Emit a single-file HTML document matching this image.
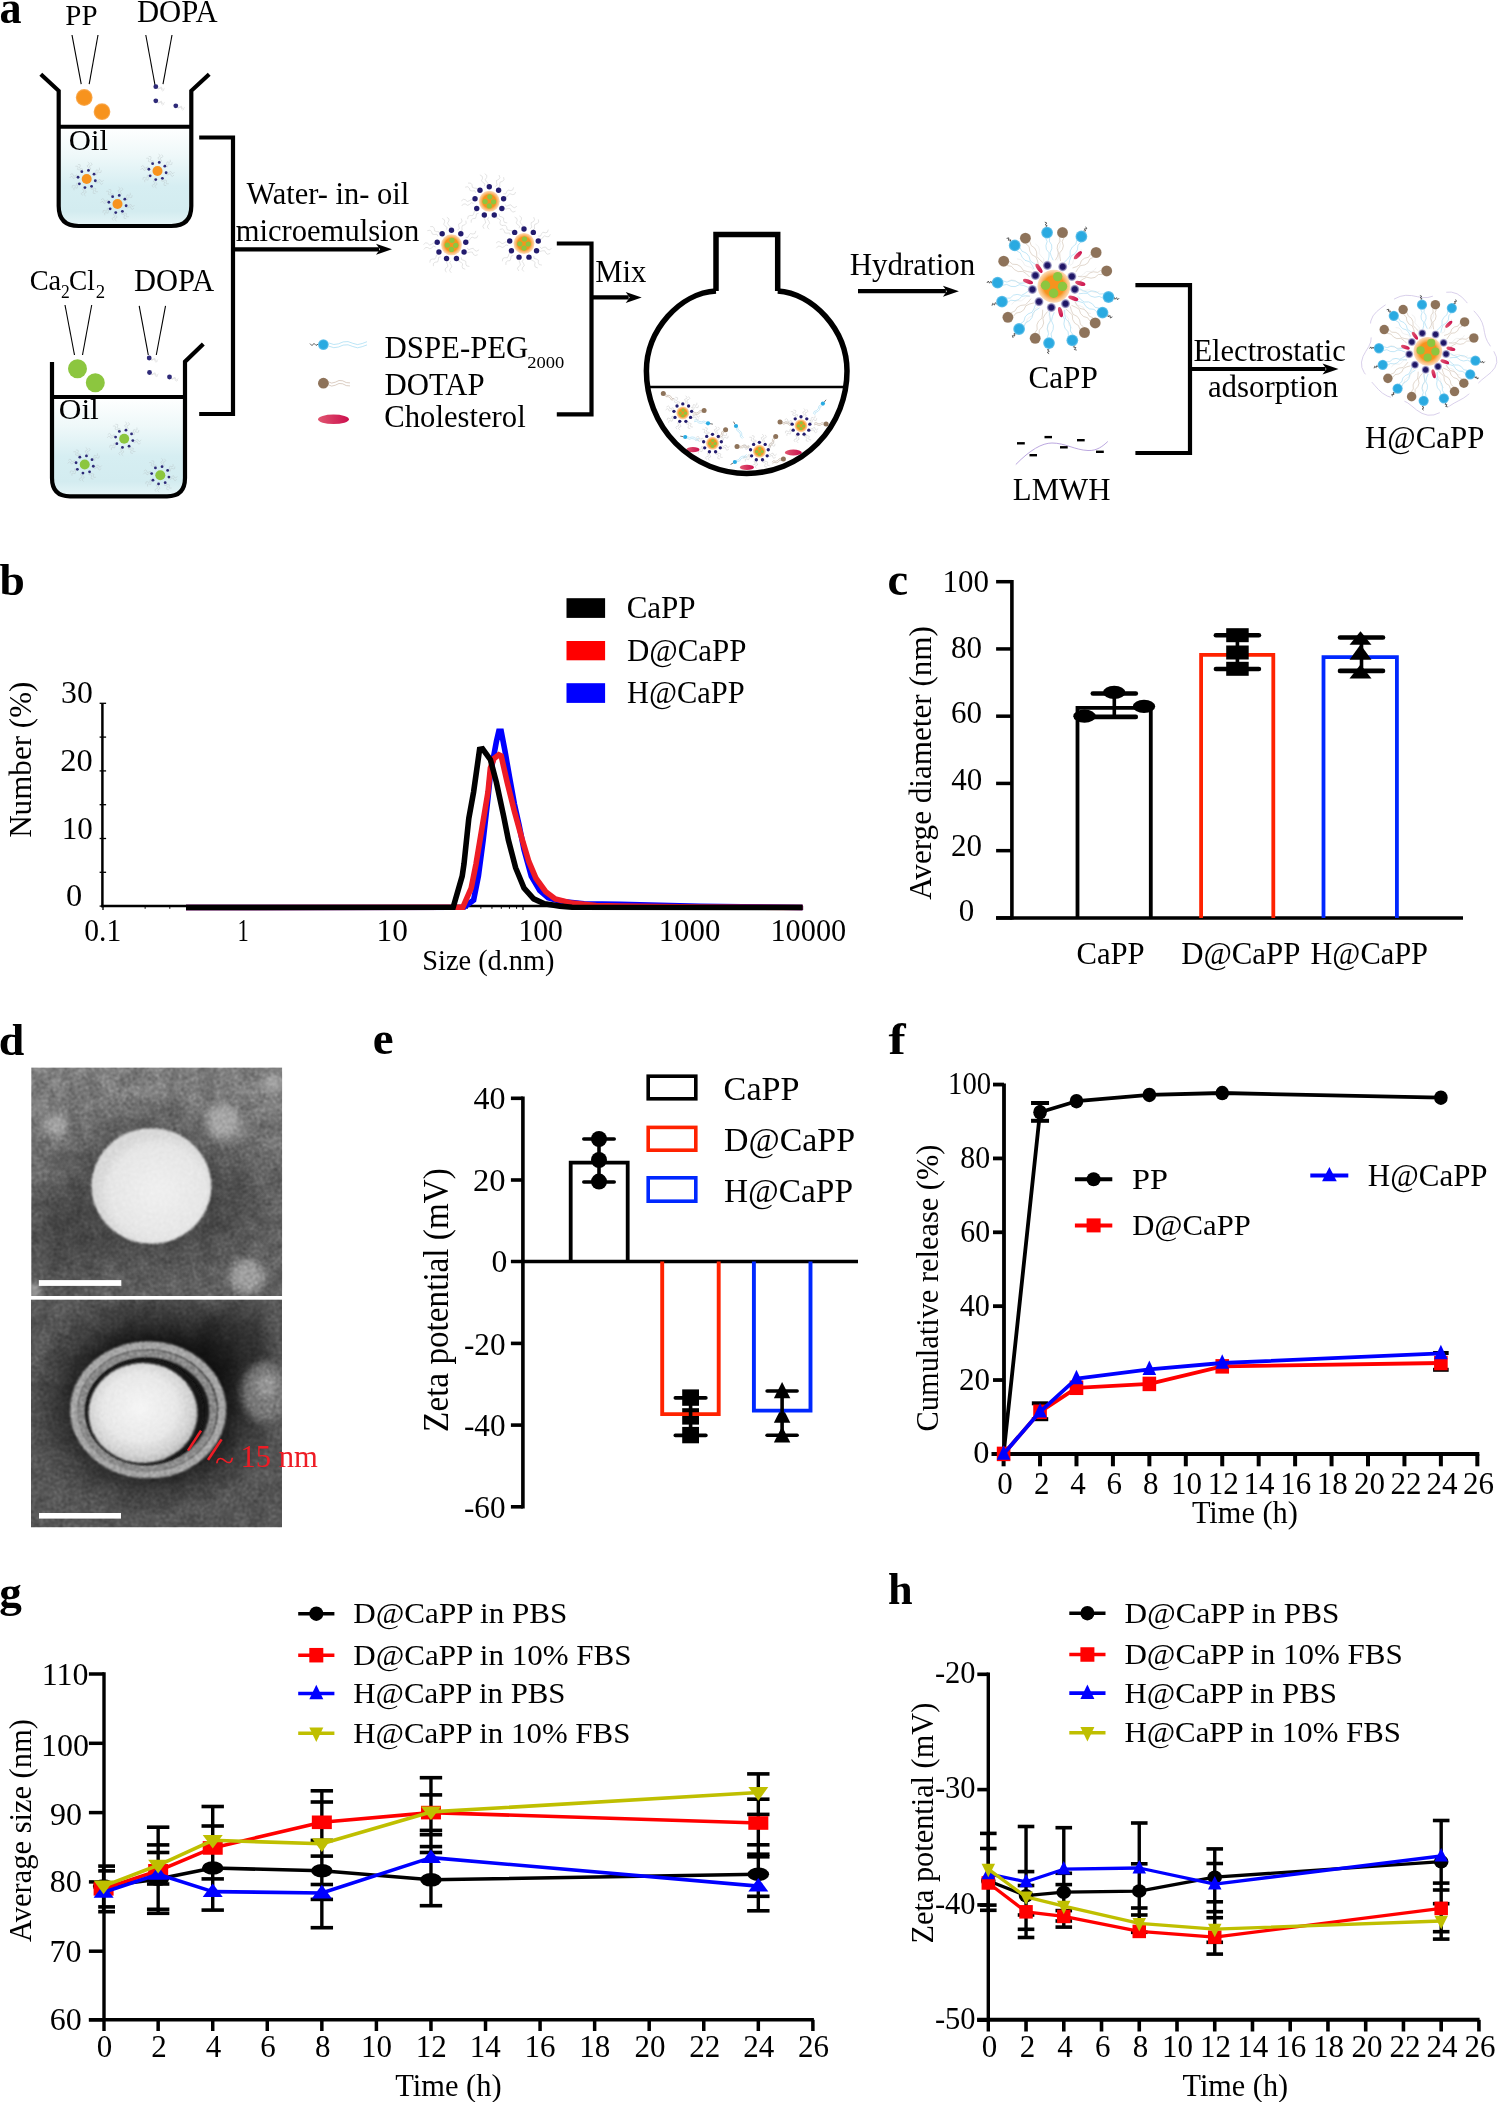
<!DOCTYPE html>
<html><head><meta charset="utf-8"><style>
html,body{margin:0;padding:0;background:#fff;}
svg{display:block;will-change:transform;}
text{font-family:"Liberation Serif",serif;}
</style></head><body>
<svg width="1499" height="2102" viewBox="0 0 1499 2102">
<defs>
<linearGradient id="liq" x1="0" y1="0" x2="0" y2="1">
 <stop offset="0" stop-color="#ffffff"/><stop offset="0.3" stop-color="#eef8f9"/>
 <stop offset="0.6" stop-color="#d6eef2"/><stop offset="0.85" stop-color="#d3ecf0"/><stop offset="1" stop-color="#e6f5f7"/>
</linearGradient>
<radialGradient id="gOr"><stop offset="0" stop-color="#f7931e"/><stop offset="0.62" stop-color="#f7931e"/><stop offset="1" stop-color="#fbc58a" stop-opacity="0.6"/></radialGradient>
<radialGradient id="gOrS"><stop offset="0" stop-color="#f7931e"/><stop offset="0.8" stop-color="#f7931e"/><stop offset="1" stop-color="#f9b060"/></radialGradient>
<radialGradient id="gNv"><stop offset="0" stop-color="#1b1464"/><stop offset="0.55" stop-color="#231a6a"/><stop offset="1" stop-color="#8f8cc0" stop-opacity="0.5"/></radialGradient>
<radialGradient id="gBl"><stop offset="0" stop-color="#29abe2"/><stop offset="0.7" stop-color="#2aa9e0"/><stop offset="1" stop-color="#6fc6ec"/></radialGradient>
<radialGradient id="gBr"><stop offset="0" stop-color="#8e735a"/><stop offset="0.85" stop-color="#8e735a"/><stop offset="1" stop-color="#a48d78"/></radialGradient>
<linearGradient id="gCh" x1="0" y1="0" x2="1" y2="0"><stop offset="0" stop-color="#e05670"/><stop offset="1" stop-color="#cc0f4e"/></linearGradient>

<clipPath id="clipT"><rect x="31.2" y="1067.4" width="251" height="228.6"/></clipPath>
<clipPath id="clipB"><rect x="31" y="1299.4" width="251" height="228"/></clipPath>
<filter id="bl1" x="-50%" y="-50%" width="200%" height="200%"><feGaussianBlur stdDeviation="1.3"/></filter>
<filter id="bl2" x="-50%" y="-50%" width="200%" height="200%"><feGaussianBlur stdDeviation="2.5"/></filter>
<filter id="bl4" x="-50%" y="-50%" width="200%" height="200%"><feGaussianBlur stdDeviation="4.5"/></filter>
<filter id="bl8" x="-50%" y="-50%" width="200%" height="200%"><feGaussianBlur stdDeviation="9"/></filter>
<filter id="bl14" x="-50%" y="-50%" width="200%" height="200%"><feGaussianBlur stdDeviation="14"/></filter>
<filter id="grain" x="0" y="0" width="100%" height="100%" color-interpolation-filters="sRGB">
 <feTurbulence type="fractalNoise" baseFrequency="0.55" numOctaves="2" seed="11"/>
 <feColorMatrix type="matrix" values="1 0 0 0 0  1 0 0 0 0  1 0 0 0 0  0 0 0 0 1"/>
 <feGaussianBlur stdDeviation="0.9"/>
 <feComponentTransfer><feFuncR type="linear" slope="6" intercept="-2.5"/><feFuncG type="linear" slope="6" intercept="-2.5"/><feFuncB type="linear" slope="6" intercept="-2.5"/></feComponentTransfer>
</filter>
<filter id="mottle" x="0" y="0" width="100%" height="100%" color-interpolation-filters="sRGB">
 <feTurbulence type="fractalNoise" baseFrequency="0.06" numOctaves="2" seed="4"/>
 <feColorMatrix type="matrix" values="1 0 0 0 0  1 0 0 0 0  1 0 0 0 0  0 0 0 0 1"/>
 <feComponentTransfer><feFuncR type="linear" slope="2.5" intercept="-0.75"/><feFuncG type="linear" slope="2.5" intercept="-0.75"/><feFuncB type="linear" slope="2.5" intercept="-0.75"/></feComponentTransfer>
</filter>
<radialGradient id="haloT" cx="0.5" cy="0.5" r="0.5"><stop offset="0.5" stop-color="#000" stop-opacity="0.26"/><stop offset="1" stop-color="#000" stop-opacity="0"/></radialGradient>
<linearGradient id="topT" x1="0" y1="0" x2="0" y2="1"><stop offset="0" stop-color="#fff" stop-opacity="0.16"/><stop offset="0.35" stop-color="#fff" stop-opacity="0.06"/><stop offset="0.6" stop-color="#000" stop-opacity="0.02"/><stop offset="1" stop-color="#000" stop-opacity="0.08"/></linearGradient>
<radialGradient id="coreT" cx="0.55" cy="0.55" r="0.5"><stop offset="0" stop-color="#f0f0f0"/><stop offset="0.8" stop-color="#e6e6e6"/><stop offset="1" stop-color="#d8d8d8"/></radialGradient>
<radialGradient id="haloB" cx="0.5" cy="0.5" r="0.5"><stop offset="0.55" stop-color="#000" stop-opacity="0.72"/><stop offset="0.78" stop-color="#000" stop-opacity="0.32"/><stop offset="1" stop-color="#000" stop-opacity="0"/></radialGradient>
<radialGradient id="coreB" cx="0.47" cy="0.45" r="0.56"><stop offset="0" stop-color="#f6f6f6"/><stop offset="0.6" stop-color="#e8e8e8"/><stop offset="0.88" stop-color="#cfcfcf"/><stop offset="1" stop-color="#b4b4b4"/></radialGradient>
</defs>
<rect width="1499" height="2102" fill="#fff"/>
<text x="-0.43" y="22.80" font-size="46" font-weight="bold" fill="#000" textLength="22.09" lengthAdjust="spacingAndGlyphs">a</text>
<path d="M58.7,126.7 L191.3,126.7 L191.3,206 Q191.3,226 171.3,226 L78.7,226 Q58.7,226 58.7,206 Z" fill="url(#liq)"/>
<path d="M40.8,74.2 L58.7,90.8 L58.7,206 Q58.7,226 78.7,226 L171.3,226 Q191.3,226 191.3,206 L191.3,90.8 L209.2,74.2" stroke="#000" stroke-width="4.2" fill="none"/>
<line x1="58.70" y1="126.70" x2="191.30" y2="126.70" stroke="#000" stroke-width="4.0" stroke-linecap="butt"/>
<text x="65.33" y="25.00" font-size="28.5" fill="#000" textLength="32.19" lengthAdjust="spacingAndGlyphs">PP</text>
<text x="136.98" y="22.40" font-size="31.5" fill="#000" textLength="80.60" lengthAdjust="spacingAndGlyphs">DOPA</text>
<line x1="72.00" y1="35.00" x2="81.20" y2="84.20" stroke="#000" stroke-width="1.1" stroke-linecap="butt"/>
<line x1="98.00" y1="35.00" x2="89.20" y2="84.20" stroke="#000" stroke-width="1.1" stroke-linecap="butt"/>
<line x1="145.80" y1="35.00" x2="155.00" y2="85.00" stroke="#000" stroke-width="1.1" stroke-linecap="butt"/>
<line x1="172.00" y1="35.00" x2="163.00" y2="84.20" stroke="#000" stroke-width="1.1" stroke-linecap="butt"/>
<circle cx="84.20" cy="97.50" r="8.40" fill="url(#gOrS)"/>
<circle cx="102.00" cy="111.70" r="8.40" fill="url(#gOrS)"/>
<path d="M157.7,87.2 L158.6,88.7 L160.1,87.5 L161.4,87.0 L162.1,89.0 L163.1,89.6 L164.7,88.2" stroke="#cfcfcf" stroke-width="0.5" fill="none" opacity="0.9"/>
<path d="M157.6,87.6 L158.2,89.1 L159.9,88.3 L161.2,88.0 L161.6,90.1 L162.5,90.9 L164.3,89.8" stroke="#cfcfcf" stroke-width="0.5" fill="none" opacity="0.9"/>
<circle cx="155.80" cy="86.70" r="2.40" fill="#2e2a78"/>
<path d="M157.7,101.3 L158.6,102.8 L160.1,101.6 L161.4,101.1 L162.1,103.1 L163.1,103.7 L164.7,102.3" stroke="#cfcfcf" stroke-width="0.5" fill="none" opacity="0.9"/>
<path d="M157.6,101.7 L158.2,103.2 L159.9,102.4 L161.2,102.1 L161.6,104.2 L162.5,105.0 L164.3,103.9" stroke="#cfcfcf" stroke-width="0.5" fill="none" opacity="0.9"/>
<circle cx="155.80" cy="100.80" r="2.40" fill="#2e2a78"/>
<path d="M177.7,106.3 L178.6,107.8 L180.1,106.6 L181.4,106.1 L182.1,108.1 L183.1,108.7 L184.7,107.3" stroke="#cfcfcf" stroke-width="0.5" fill="none" opacity="0.9"/>
<path d="M177.6,106.7 L178.2,108.2 L179.9,107.4 L181.2,107.1 L181.6,109.2 L182.5,110.0 L184.3,108.9" stroke="#cfcfcf" stroke-width="0.5" fill="none" opacity="0.9"/>
<circle cx="175.80" cy="105.80" r="2.40" fill="#2e2a78"/>
<text x="68.77" y="150.00" font-size="30" fill="#000" textLength="39.28" lengthAdjust="spacingAndGlyphs">Oil</text>
<path d="M96.1,180.0 L97.3,181.4 L98.7,180.0 L100.0,179.4 L101.0,181.2 L102.2,181.7 L103.7,180.0" stroke="#b9c3c6" stroke-width="0.5" fill="none" opacity="0.8"/>
<path d="M95.8,181.7 L96.7,183.2 L98.3,182.1 L99.7,181.7 L100.4,183.7 L101.5,184.4 L103.2,183.1" stroke="#b9c3c6" stroke-width="0.5" fill="none" opacity="0.8"/>
<path d="M92.6,186.4 L92.5,188.1 L94.4,188.2 L95.9,188.6 L95.3,190.7 L95.8,191.9 L98.0,191.7" stroke="#b9c3c6" stroke-width="0.5" fill="none" opacity="0.8"/>
<path d="M91.2,187.4 L90.8,189.0 L92.7,189.4 L94.0,190.1 L93.1,192.0 L93.3,193.3 L95.5,193.6" stroke="#b9c3c6" stroke-width="0.5" fill="none" opacity="0.8"/>
<path d="M85.7,188.4 L84.3,189.6 L85.7,191.0 L86.3,192.3 L84.5,193.3 L84.0,194.5 L85.7,196.0" stroke="#b9c3c6" stroke-width="0.5" fill="none" opacity="0.8"/>
<path d="M84.0,188.1 L82.5,189.0 L83.6,190.6 L84.0,192.0 L82.0,192.7 L81.3,193.8 L82.6,195.5" stroke="#b9c3c6" stroke-width="0.5" fill="none" opacity="0.8"/>
<path d="M79.3,184.9 L77.6,184.8 L77.5,186.7 L77.1,188.2 L75.0,187.6 L73.8,188.1 L74.0,190.3" stroke="#b9c3c6" stroke-width="0.5" fill="none" opacity="0.8"/>
<path d="M78.3,183.5 L76.7,183.1 L76.3,185.0 L75.6,186.3 L73.7,185.4 L72.4,185.6 L72.1,187.8" stroke="#b9c3c6" stroke-width="0.5" fill="none" opacity="0.8"/>
<path d="M77.3,178.0 L76.1,176.6 L74.7,178.0 L73.4,178.6 L72.4,176.8 L71.2,176.3 L69.7,178.0" stroke="#b9c3c6" stroke-width="0.5" fill="none" opacity="0.8"/>
<path d="M77.6,176.3 L76.7,174.8 L75.1,175.9 L73.7,176.3 L73.0,174.3 L71.9,173.6 L70.2,174.9" stroke="#b9c3c6" stroke-width="0.5" fill="none" opacity="0.8"/>
<path d="M80.8,171.6 L80.9,169.9 L79.0,169.8 L77.5,169.4 L78.1,167.3 L77.6,166.1 L75.4,166.3" stroke="#b9c3c6" stroke-width="0.5" fill="none" opacity="0.8"/>
<path d="M82.2,170.6 L82.6,169.0 L80.7,168.6 L79.4,167.9 L80.3,166.0 L80.1,164.7 L77.9,164.4" stroke="#b9c3c6" stroke-width="0.5" fill="none" opacity="0.8"/>
<path d="M87.7,169.6 L89.1,168.4 L87.7,167.0 L87.1,165.7 L88.9,164.7 L89.4,163.5 L87.7,162.0" stroke="#b9c3c6" stroke-width="0.5" fill="none" opacity="0.8"/>
<path d="M89.4,169.9 L90.9,169.0 L89.8,167.4 L89.4,166.0 L91.4,165.3 L92.1,164.2 L90.8,162.5" stroke="#b9c3c6" stroke-width="0.5" fill="none" opacity="0.8"/>
<path d="M94.1,173.1 L95.8,173.2 L95.9,171.3 L96.3,169.8 L98.4,170.4 L99.6,169.9 L99.4,167.7" stroke="#b9c3c6" stroke-width="0.5" fill="none" opacity="0.8"/>
<path d="M95.1,174.5 L96.7,174.9 L97.1,173.0 L97.8,171.7 L99.7,172.6 L101.0,172.4 L101.3,170.2" stroke="#b9c3c6" stroke-width="0.5" fill="none" opacity="0.8"/>
<circle cx="95.32" cy="180.75" r="1.40" fill="#2e2a78"/>
<circle cx="91.56" cy="186.33" r="1.40" fill="#2e2a78"/>
<circle cx="84.95" cy="187.62" r="1.40" fill="#2e2a78"/>
<circle cx="79.37" cy="183.86" r="1.40" fill="#2e2a78"/>
<circle cx="78.08" cy="177.25" r="1.40" fill="#2e2a78"/>
<circle cx="81.84" cy="171.67" r="1.40" fill="#2e2a78"/>
<circle cx="88.45" cy="170.38" r="1.40" fill="#2e2a78"/>
<circle cx="94.03" cy="174.14" r="1.40" fill="#2e2a78"/>
<circle cx="86.70" cy="179.00" r="5.00" fill="#f7931e"/>
<path d="M166.9,172.0 L168.1,173.4 L169.5,172.0 L170.8,171.4 L171.8,173.2 L173.0,173.7 L174.5,172.0" stroke="#b9c3c6" stroke-width="0.5" fill="none" opacity="0.8"/>
<path d="M166.6,173.7 L167.5,175.2 L169.1,174.1 L170.5,173.7 L171.2,175.7 L172.3,176.4 L174.0,175.1" stroke="#b9c3c6" stroke-width="0.5" fill="none" opacity="0.8"/>
<path d="M163.4,178.4 L163.3,180.1 L165.2,180.2 L166.7,180.6 L166.1,182.7 L166.6,183.9 L168.8,183.7" stroke="#b9c3c6" stroke-width="0.5" fill="none" opacity="0.8"/>
<path d="M162.0,179.4 L161.6,181.0 L163.5,181.4 L164.8,182.1 L163.9,184.0 L164.1,185.3 L166.3,185.6" stroke="#b9c3c6" stroke-width="0.5" fill="none" opacity="0.8"/>
<path d="M156.5,180.4 L155.1,181.6 L156.5,183.0 L157.1,184.3 L155.3,185.3 L154.8,186.5 L156.5,188.0" stroke="#b9c3c6" stroke-width="0.5" fill="none" opacity="0.8"/>
<path d="M154.8,180.1 L153.3,181.0 L154.4,182.6 L154.8,184.0 L152.8,184.7 L152.1,185.8 L153.4,187.5" stroke="#b9c3c6" stroke-width="0.5" fill="none" opacity="0.8"/>
<path d="M150.1,176.9 L148.4,176.8 L148.3,178.7 L147.9,180.2 L145.8,179.6 L144.6,180.1 L144.8,182.3" stroke="#b9c3c6" stroke-width="0.5" fill="none" opacity="0.8"/>
<path d="M149.1,175.5 L147.5,175.1 L147.1,177.0 L146.4,178.3 L144.5,177.4 L143.2,177.6 L142.9,179.8" stroke="#b9c3c6" stroke-width="0.5" fill="none" opacity="0.8"/>
<path d="M148.1,170.0 L146.9,168.6 L145.5,170.0 L144.2,170.6 L143.2,168.8 L142.0,168.3 L140.5,170.0" stroke="#b9c3c6" stroke-width="0.5" fill="none" opacity="0.8"/>
<path d="M148.4,168.3 L147.5,166.8 L145.9,167.9 L144.5,168.3 L143.8,166.3 L142.7,165.6 L141.0,166.9" stroke="#b9c3c6" stroke-width="0.5" fill="none" opacity="0.8"/>
<path d="M151.6,163.6 L151.7,161.9 L149.8,161.8 L148.3,161.4 L148.9,159.3 L148.4,158.1 L146.2,158.3" stroke="#b9c3c6" stroke-width="0.5" fill="none" opacity="0.8"/>
<path d="M153.0,162.6 L153.4,161.0 L151.5,160.6 L150.2,159.9 L151.1,158.0 L150.9,156.7 L148.7,156.4" stroke="#b9c3c6" stroke-width="0.5" fill="none" opacity="0.8"/>
<path d="M158.5,161.6 L159.9,160.4 L158.5,159.0 L157.9,157.7 L159.7,156.7 L160.2,155.5 L158.5,154.0" stroke="#b9c3c6" stroke-width="0.5" fill="none" opacity="0.8"/>
<path d="M160.2,161.9 L161.7,161.0 L160.6,159.4 L160.2,158.0 L162.2,157.3 L162.9,156.2 L161.6,154.5" stroke="#b9c3c6" stroke-width="0.5" fill="none" opacity="0.8"/>
<path d="M164.9,165.1 L166.6,165.2 L166.7,163.3 L167.1,161.8 L169.2,162.4 L170.4,161.9 L170.2,159.7" stroke="#b9c3c6" stroke-width="0.5" fill="none" opacity="0.8"/>
<path d="M165.9,166.5 L167.5,166.9 L167.9,165.0 L168.6,163.7 L170.5,164.6 L171.8,164.4 L172.1,162.2" stroke="#b9c3c6" stroke-width="0.5" fill="none" opacity="0.8"/>
<circle cx="166.12" cy="172.75" r="1.40" fill="#2e2a78"/>
<circle cx="162.36" cy="178.33" r="1.40" fill="#2e2a78"/>
<circle cx="155.75" cy="179.62" r="1.40" fill="#2e2a78"/>
<circle cx="150.17" cy="175.86" r="1.40" fill="#2e2a78"/>
<circle cx="148.88" cy="169.25" r="1.40" fill="#2e2a78"/>
<circle cx="152.64" cy="163.67" r="1.40" fill="#2e2a78"/>
<circle cx="159.25" cy="162.38" r="1.40" fill="#2e2a78"/>
<circle cx="164.83" cy="166.14" r="1.40" fill="#2e2a78"/>
<circle cx="157.50" cy="171.00" r="5.00" fill="#f7931e"/>
<path d="M126.9,205.0 L128.1,206.4 L129.5,205.0 L130.8,204.4 L131.8,206.2 L133.0,206.7 L134.5,205.0" stroke="#b9c3c6" stroke-width="0.5" fill="none" opacity="0.8"/>
<path d="M126.6,206.7 L127.5,208.2 L129.1,207.1 L130.5,206.7 L131.2,208.7 L132.3,209.4 L134.0,208.1" stroke="#b9c3c6" stroke-width="0.5" fill="none" opacity="0.8"/>
<path d="M123.4,211.4 L123.3,213.1 L125.2,213.2 L126.7,213.6 L126.1,215.7 L126.6,216.9 L128.8,216.7" stroke="#b9c3c6" stroke-width="0.5" fill="none" opacity="0.8"/>
<path d="M122.0,212.4 L121.6,214.0 L123.5,214.4 L124.8,215.1 L123.9,217.0 L124.1,218.3 L126.3,218.6" stroke="#b9c3c6" stroke-width="0.5" fill="none" opacity="0.8"/>
<path d="M116.5,213.4 L115.1,214.6 L116.5,216.0 L117.1,217.3 L115.3,218.3 L114.8,219.5 L116.5,221.0" stroke="#b9c3c6" stroke-width="0.5" fill="none" opacity="0.8"/>
<path d="M114.8,213.1 L113.3,214.0 L114.4,215.6 L114.8,217.0 L112.8,217.7 L112.1,218.8 L113.4,220.5" stroke="#b9c3c6" stroke-width="0.5" fill="none" opacity="0.8"/>
<path d="M110.1,209.9 L108.4,209.8 L108.3,211.7 L107.9,213.2 L105.8,212.6 L104.6,213.1 L104.8,215.3" stroke="#b9c3c6" stroke-width="0.5" fill="none" opacity="0.8"/>
<path d="M109.1,208.5 L107.5,208.1 L107.1,210.0 L106.4,211.3 L104.5,210.4 L103.2,210.6 L102.9,212.8" stroke="#b9c3c6" stroke-width="0.5" fill="none" opacity="0.8"/>
<path d="M108.1,203.0 L106.9,201.6 L105.5,203.0 L104.2,203.6 L103.2,201.8 L102.0,201.3 L100.5,203.0" stroke="#b9c3c6" stroke-width="0.5" fill="none" opacity="0.8"/>
<path d="M108.4,201.3 L107.5,199.8 L105.9,200.9 L104.5,201.3 L103.8,199.3 L102.7,198.6 L101.0,199.9" stroke="#b9c3c6" stroke-width="0.5" fill="none" opacity="0.8"/>
<path d="M111.6,196.6 L111.7,194.9 L109.8,194.8 L108.3,194.4 L108.9,192.3 L108.4,191.1 L106.2,191.3" stroke="#b9c3c6" stroke-width="0.5" fill="none" opacity="0.8"/>
<path d="M113.0,195.6 L113.4,194.0 L111.5,193.6 L110.2,192.9 L111.1,191.0 L110.9,189.7 L108.7,189.4" stroke="#b9c3c6" stroke-width="0.5" fill="none" opacity="0.8"/>
<path d="M118.5,194.6 L119.9,193.4 L118.5,192.0 L117.9,190.7 L119.7,189.7 L120.2,188.5 L118.5,187.0" stroke="#b9c3c6" stroke-width="0.5" fill="none" opacity="0.8"/>
<path d="M120.2,194.9 L121.7,194.0 L120.6,192.4 L120.2,191.0 L122.2,190.3 L122.9,189.2 L121.6,187.5" stroke="#b9c3c6" stroke-width="0.5" fill="none" opacity="0.8"/>
<path d="M124.9,198.1 L126.6,198.2 L126.7,196.3 L127.1,194.8 L129.2,195.4 L130.4,194.9 L130.2,192.7" stroke="#b9c3c6" stroke-width="0.5" fill="none" opacity="0.8"/>
<path d="M125.9,199.5 L127.5,199.9 L127.9,198.0 L128.6,196.7 L130.5,197.6 L131.8,197.4 L132.1,195.2" stroke="#b9c3c6" stroke-width="0.5" fill="none" opacity="0.8"/>
<circle cx="126.12" cy="205.75" r="1.40" fill="#2e2a78"/>
<circle cx="122.36" cy="211.33" r="1.40" fill="#2e2a78"/>
<circle cx="115.75" cy="212.62" r="1.40" fill="#2e2a78"/>
<circle cx="110.17" cy="208.86" r="1.40" fill="#2e2a78"/>
<circle cx="108.88" cy="202.25" r="1.40" fill="#2e2a78"/>
<circle cx="112.64" cy="196.67" r="1.40" fill="#2e2a78"/>
<circle cx="119.25" cy="195.38" r="1.40" fill="#2e2a78"/>
<circle cx="124.83" cy="199.14" r="1.40" fill="#2e2a78"/>
<circle cx="117.50" cy="204.00" r="5.00" fill="#f7931e"/>
<path d="M52,397 L185,397 L185,478 Q185,496.3 167,496.3 L70,496.3 Q52,496.3 52,478 Z" fill="url(#liq)"/>
<path d="M52,362 L52,478 Q52,496.3 70,496.3 L167,496.3 Q185,496.3 185,478 L185,361.7 L203.3,344" stroke="#000" stroke-width="4.2" fill="none"/>
<line x1="52.00" y1="397.00" x2="185.00" y2="397.00" stroke="#000" stroke-width="4.0" stroke-linecap="butt"/>
<text x="29.66" y="290.00" font-size="29.5" fill="#000" textLength="31.59" lengthAdjust="spacingAndGlyphs">Ca</text>
<text x="60.91" y="298.30" font-size="18" fill="#000" textLength="8.75" lengthAdjust="spacingAndGlyphs">2</text>
<text x="68.91" y="290.00" font-size="29.5" fill="#000" textLength="25.84" lengthAdjust="spacingAndGlyphs">Cl</text>
<text x="95.86" y="298.30" font-size="18" fill="#000" textLength="9.38" lengthAdjust="spacingAndGlyphs">2</text>
<text x="134.09" y="290.80" font-size="31.3" fill="#000" textLength="80.09" lengthAdjust="spacingAndGlyphs">DOPA</text>
<line x1="65.00" y1="305.00" x2="74.50" y2="355.00" stroke="#000" stroke-width="1.1" stroke-linecap="butt"/>
<line x1="91.70" y1="305.00" x2="82.50" y2="355.00" stroke="#000" stroke-width="1.1" stroke-linecap="butt"/>
<line x1="139.20" y1="305.80" x2="148.30" y2="355.00" stroke="#000" stroke-width="1.1" stroke-linecap="butt"/>
<line x1="165.50" y1="305.80" x2="156.30" y2="355.00" stroke="#000" stroke-width="1.1" stroke-linecap="butt"/>
<circle cx="77.50" cy="368.70" r="9.50" fill="#8cc63f"/>
<circle cx="95.30" cy="382.80" r="9.50" fill="#8cc63f"/>
<path d="M151.1,358.5 L152.0,360.0 L153.5,358.8 L154.8,358.3 L155.5,360.3 L156.5,360.9 L158.1,359.5" stroke="#cfcfcf" stroke-width="0.5" fill="none" opacity="0.9"/>
<path d="M151.0,358.9 L151.6,360.4 L153.3,359.6 L154.6,359.3 L155.0,361.4 L155.9,362.2 L157.7,361.1" stroke="#cfcfcf" stroke-width="0.5" fill="none" opacity="0.9"/>
<circle cx="149.20" cy="358.00" r="2.40" fill="#2e2a78"/>
<path d="M151.4,373.0 L152.3,374.5 L153.8,373.3 L155.1,372.8 L155.8,374.8 L156.8,375.4 L158.4,374.0" stroke="#cfcfcf" stroke-width="0.5" fill="none" opacity="0.9"/>
<path d="M151.3,373.4 L151.9,374.9 L153.6,374.1 L154.9,373.8 L155.3,375.9 L156.2,376.7 L158.0,375.6" stroke="#cfcfcf" stroke-width="0.5" fill="none" opacity="0.9"/>
<circle cx="149.50" cy="372.50" r="2.40" fill="#2e2a78"/>
<path d="M171.4,377.5 L172.3,379.0 L173.8,377.8 L175.1,377.3 L175.8,379.3 L176.8,379.9 L178.4,378.5" stroke="#cfcfcf" stroke-width="0.5" fill="none" opacity="0.9"/>
<path d="M171.3,377.9 L171.9,379.4 L173.6,378.6 L174.9,378.3 L175.3,380.4 L176.2,381.2 L178.0,380.1" stroke="#cfcfcf" stroke-width="0.5" fill="none" opacity="0.9"/>
<circle cx="169.50" cy="377.00" r="2.40" fill="#2e2a78"/>
<text x="58.74" y="419.00" font-size="30" fill="#000" textLength="40.11" lengthAdjust="spacingAndGlyphs">Oil</text>
<path d="M133.6,439.8 L134.8,441.2 L136.2,439.8 L137.5,439.2 L138.5,441.0 L139.7,441.5 L141.2,439.8" stroke="#b9c3c6" stroke-width="0.5" fill="none" opacity="0.8"/>
<path d="M133.3,441.5 L134.2,443.0 L135.8,441.9 L137.2,441.5 L137.9,443.5 L139.0,444.2 L140.7,442.9" stroke="#b9c3c6" stroke-width="0.5" fill="none" opacity="0.8"/>
<path d="M130.1,446.2 L130.0,447.9 L131.9,448.0 L133.4,448.4 L132.8,450.5 L133.3,451.7 L135.5,451.5" stroke="#b9c3c6" stroke-width="0.5" fill="none" opacity="0.8"/>
<path d="M128.7,447.2 L128.3,448.8 L130.2,449.2 L131.5,449.9 L130.6,451.8 L130.8,453.1 L133.0,453.4" stroke="#b9c3c6" stroke-width="0.5" fill="none" opacity="0.8"/>
<path d="M123.2,448.2 L121.8,449.4 L123.2,450.8 L123.8,452.1 L122.0,453.1 L121.5,454.3 L123.2,455.8" stroke="#b9c3c6" stroke-width="0.5" fill="none" opacity="0.8"/>
<path d="M121.5,447.9 L120.0,448.8 L121.1,450.4 L121.5,451.8 L119.5,452.5 L118.8,453.6 L120.1,455.3" stroke="#b9c3c6" stroke-width="0.5" fill="none" opacity="0.8"/>
<path d="M116.8,444.7 L115.1,444.6 L115.0,446.5 L114.6,448.0 L112.5,447.4 L111.3,447.9 L111.5,450.1" stroke="#b9c3c6" stroke-width="0.5" fill="none" opacity="0.8"/>
<path d="M115.8,443.3 L114.2,442.9 L113.8,444.8 L113.1,446.1 L111.2,445.2 L109.9,445.4 L109.6,447.6" stroke="#b9c3c6" stroke-width="0.5" fill="none" opacity="0.8"/>
<path d="M114.8,437.8 L113.6,436.4 L112.2,437.8 L110.9,438.4 L109.9,436.6 L108.7,436.1 L107.2,437.8" stroke="#b9c3c6" stroke-width="0.5" fill="none" opacity="0.8"/>
<path d="M115.1,436.1 L114.2,434.6 L112.6,435.7 L111.2,436.1 L110.5,434.1 L109.4,433.4 L107.7,434.7" stroke="#b9c3c6" stroke-width="0.5" fill="none" opacity="0.8"/>
<path d="M118.3,431.4 L118.4,429.7 L116.5,429.6 L115.0,429.2 L115.6,427.1 L115.1,425.9 L112.9,426.1" stroke="#b9c3c6" stroke-width="0.5" fill="none" opacity="0.8"/>
<path d="M119.7,430.4 L120.1,428.8 L118.2,428.4 L116.9,427.7 L117.8,425.8 L117.6,424.5 L115.4,424.2" stroke="#b9c3c6" stroke-width="0.5" fill="none" opacity="0.8"/>
<path d="M125.2,429.4 L126.6,428.2 L125.2,426.8 L124.6,425.5 L126.4,424.5 L126.9,423.3 L125.2,421.8" stroke="#b9c3c6" stroke-width="0.5" fill="none" opacity="0.8"/>
<path d="M126.9,429.7 L128.4,428.8 L127.3,427.2 L126.9,425.8 L128.9,425.1 L129.6,424.0 L128.3,422.3" stroke="#b9c3c6" stroke-width="0.5" fill="none" opacity="0.8"/>
<path d="M131.6,432.9 L133.3,433.0 L133.4,431.1 L133.8,429.6 L135.9,430.2 L137.1,429.7 L136.9,427.5" stroke="#b9c3c6" stroke-width="0.5" fill="none" opacity="0.8"/>
<path d="M132.6,434.3 L134.2,434.7 L134.6,432.8 L135.3,431.5 L137.2,432.4 L138.5,432.2 L138.8,430.0" stroke="#b9c3c6" stroke-width="0.5" fill="none" opacity="0.8"/>
<circle cx="132.82" cy="440.55" r="1.40" fill="#2e2a78"/>
<circle cx="129.06" cy="446.13" r="1.40" fill="#2e2a78"/>
<circle cx="122.45" cy="447.42" r="1.40" fill="#2e2a78"/>
<circle cx="116.87" cy="443.66" r="1.40" fill="#2e2a78"/>
<circle cx="115.58" cy="437.05" r="1.40" fill="#2e2a78"/>
<circle cx="119.34" cy="431.47" r="1.40" fill="#2e2a78"/>
<circle cx="125.95" cy="430.18" r="1.40" fill="#2e2a78"/>
<circle cx="131.53" cy="433.94" r="1.40" fill="#2e2a78"/>
<circle cx="124.20" cy="438.80" r="5.00" fill="#8cc63f"/>
<path d="M94.1,465.5 L95.3,466.9 L96.7,465.5 L98.0,464.9 L99.0,466.7 L100.2,467.2 L101.7,465.5" stroke="#b9c3c6" stroke-width="0.5" fill="none" opacity="0.8"/>
<path d="M93.8,467.2 L94.7,468.7 L96.3,467.6 L97.7,467.2 L98.4,469.2 L99.5,469.9 L101.2,468.6" stroke="#b9c3c6" stroke-width="0.5" fill="none" opacity="0.8"/>
<path d="M90.6,471.9 L90.5,473.6 L92.4,473.7 L93.9,474.1 L93.3,476.2 L93.8,477.4 L96.0,477.2" stroke="#b9c3c6" stroke-width="0.5" fill="none" opacity="0.8"/>
<path d="M89.2,472.9 L88.8,474.5 L90.7,474.9 L92.0,475.6 L91.1,477.5 L91.3,478.8 L93.5,479.1" stroke="#b9c3c6" stroke-width="0.5" fill="none" opacity="0.8"/>
<path d="M83.7,473.9 L82.3,475.1 L83.7,476.5 L84.3,477.8 L82.5,478.8 L82.0,480.0 L83.7,481.5" stroke="#b9c3c6" stroke-width="0.5" fill="none" opacity="0.8"/>
<path d="M82.0,473.6 L80.5,474.5 L81.6,476.1 L82.0,477.5 L80.0,478.2 L79.3,479.3 L80.6,481.0" stroke="#b9c3c6" stroke-width="0.5" fill="none" opacity="0.8"/>
<path d="M77.3,470.4 L75.6,470.3 L75.5,472.2 L75.1,473.7 L73.0,473.1 L71.8,473.6 L72.0,475.8" stroke="#b9c3c6" stroke-width="0.5" fill="none" opacity="0.8"/>
<path d="M76.3,469.0 L74.7,468.6 L74.3,470.5 L73.6,471.8 L71.7,470.9 L70.4,471.1 L70.1,473.3" stroke="#b9c3c6" stroke-width="0.5" fill="none" opacity="0.8"/>
<path d="M75.3,463.5 L74.1,462.1 L72.7,463.5 L71.4,464.1 L70.4,462.3 L69.2,461.8 L67.7,463.5" stroke="#b9c3c6" stroke-width="0.5" fill="none" opacity="0.8"/>
<path d="M75.6,461.8 L74.7,460.3 L73.1,461.4 L71.7,461.8 L71.0,459.8 L69.9,459.1 L68.2,460.4" stroke="#b9c3c6" stroke-width="0.5" fill="none" opacity="0.8"/>
<path d="M78.8,457.1 L78.9,455.4 L77.0,455.3 L75.5,454.9 L76.1,452.8 L75.6,451.6 L73.4,451.8" stroke="#b9c3c6" stroke-width="0.5" fill="none" opacity="0.8"/>
<path d="M80.2,456.1 L80.6,454.5 L78.7,454.1 L77.4,453.4 L78.3,451.5 L78.1,450.2 L75.9,449.9" stroke="#b9c3c6" stroke-width="0.5" fill="none" opacity="0.8"/>
<path d="M85.7,455.1 L87.1,453.9 L85.7,452.5 L85.1,451.2 L86.9,450.2 L87.4,449.0 L85.7,447.5" stroke="#b9c3c6" stroke-width="0.5" fill="none" opacity="0.8"/>
<path d="M87.4,455.4 L88.9,454.5 L87.8,452.9 L87.4,451.5 L89.4,450.8 L90.1,449.7 L88.8,448.0" stroke="#b9c3c6" stroke-width="0.5" fill="none" opacity="0.8"/>
<path d="M92.1,458.6 L93.8,458.7 L93.9,456.8 L94.3,455.3 L96.4,455.9 L97.6,455.4 L97.4,453.2" stroke="#b9c3c6" stroke-width="0.5" fill="none" opacity="0.8"/>
<path d="M93.1,460.0 L94.7,460.4 L95.1,458.5 L95.8,457.2 L97.7,458.1 L99.0,457.9 L99.3,455.7" stroke="#b9c3c6" stroke-width="0.5" fill="none" opacity="0.8"/>
<circle cx="93.32" cy="466.25" r="1.40" fill="#2e2a78"/>
<circle cx="89.56" cy="471.83" r="1.40" fill="#2e2a78"/>
<circle cx="82.95" cy="473.12" r="1.40" fill="#2e2a78"/>
<circle cx="77.37" cy="469.36" r="1.40" fill="#2e2a78"/>
<circle cx="76.08" cy="462.75" r="1.40" fill="#2e2a78"/>
<circle cx="79.84" cy="457.17" r="1.40" fill="#2e2a78"/>
<circle cx="86.45" cy="455.88" r="1.40" fill="#2e2a78"/>
<circle cx="92.03" cy="459.64" r="1.40" fill="#2e2a78"/>
<circle cx="84.70" cy="464.50" r="5.00" fill="#8cc63f"/>
<path d="M169.7,476.3 L170.9,477.7 L172.3,476.3 L173.6,475.7 L174.6,477.5 L175.8,478.0 L177.3,476.3" stroke="#b9c3c6" stroke-width="0.5" fill="none" opacity="0.8"/>
<path d="M169.4,478.0 L170.3,479.5 L171.9,478.4 L173.3,478.0 L174.0,480.0 L175.1,480.7 L176.8,479.4" stroke="#b9c3c6" stroke-width="0.5" fill="none" opacity="0.8"/>
<path d="M166.2,482.7 L166.1,484.4 L168.0,484.5 L169.5,484.9 L168.9,487.0 L169.4,488.2 L171.6,488.0" stroke="#b9c3c6" stroke-width="0.5" fill="none" opacity="0.8"/>
<path d="M164.8,483.7 L164.4,485.3 L166.3,485.7 L167.6,486.4 L166.7,488.3 L166.9,489.6 L169.1,489.9" stroke="#b9c3c6" stroke-width="0.5" fill="none" opacity="0.8"/>
<path d="M159.3,484.7 L157.9,485.9 L159.3,487.3 L159.9,488.6 L158.1,489.6 L157.6,490.8 L159.3,492.3" stroke="#b9c3c6" stroke-width="0.5" fill="none" opacity="0.8"/>
<path d="M157.6,484.4 L156.1,485.3 L157.2,486.9 L157.6,488.3 L155.6,489.0 L154.9,490.1 L156.2,491.8" stroke="#b9c3c6" stroke-width="0.5" fill="none" opacity="0.8"/>
<path d="M152.9,481.2 L151.2,481.1 L151.1,483.0 L150.7,484.5 L148.6,483.9 L147.4,484.4 L147.6,486.6" stroke="#b9c3c6" stroke-width="0.5" fill="none" opacity="0.8"/>
<path d="M151.9,479.8 L150.3,479.4 L149.9,481.3 L149.2,482.6 L147.3,481.7 L146.0,481.9 L145.7,484.1" stroke="#b9c3c6" stroke-width="0.5" fill="none" opacity="0.8"/>
<path d="M150.9,474.3 L149.7,472.9 L148.3,474.3 L147.0,474.9 L146.0,473.1 L144.8,472.6 L143.3,474.3" stroke="#b9c3c6" stroke-width="0.5" fill="none" opacity="0.8"/>
<path d="M151.2,472.6 L150.3,471.1 L148.7,472.2 L147.3,472.6 L146.6,470.6 L145.5,469.9 L143.8,471.2" stroke="#b9c3c6" stroke-width="0.5" fill="none" opacity="0.8"/>
<path d="M154.4,467.9 L154.5,466.2 L152.6,466.1 L151.1,465.7 L151.7,463.6 L151.2,462.4 L149.0,462.6" stroke="#b9c3c6" stroke-width="0.5" fill="none" opacity="0.8"/>
<path d="M155.8,466.9 L156.2,465.3 L154.3,464.9 L153.0,464.2 L153.9,462.3 L153.7,461.0 L151.5,460.7" stroke="#b9c3c6" stroke-width="0.5" fill="none" opacity="0.8"/>
<path d="M161.3,465.9 L162.7,464.7 L161.3,463.3 L160.7,462.0 L162.5,461.0 L163.0,459.8 L161.3,458.3" stroke="#b9c3c6" stroke-width="0.5" fill="none" opacity="0.8"/>
<path d="M163.0,466.2 L164.5,465.3 L163.4,463.7 L163.0,462.3 L165.0,461.6 L165.7,460.5 L164.4,458.8" stroke="#b9c3c6" stroke-width="0.5" fill="none" opacity="0.8"/>
<path d="M167.7,469.4 L169.4,469.5 L169.5,467.6 L169.9,466.1 L172.0,466.7 L173.2,466.2 L173.0,464.0" stroke="#b9c3c6" stroke-width="0.5" fill="none" opacity="0.8"/>
<path d="M168.7,470.8 L170.3,471.2 L170.7,469.3 L171.4,468.0 L173.3,468.9 L174.6,468.7 L174.9,466.5" stroke="#b9c3c6" stroke-width="0.5" fill="none" opacity="0.8"/>
<circle cx="168.92" cy="477.05" r="1.40" fill="#2e2a78"/>
<circle cx="165.16" cy="482.63" r="1.40" fill="#2e2a78"/>
<circle cx="158.55" cy="483.92" r="1.40" fill="#2e2a78"/>
<circle cx="152.97" cy="480.16" r="1.40" fill="#2e2a78"/>
<circle cx="151.68" cy="473.55" r="1.40" fill="#2e2a78"/>
<circle cx="155.44" cy="467.97" r="1.40" fill="#2e2a78"/>
<circle cx="162.05" cy="466.68" r="1.40" fill="#2e2a78"/>
<circle cx="167.63" cy="470.44" r="1.40" fill="#2e2a78"/>
<circle cx="160.30" cy="475.30" r="5.00" fill="#8cc63f"/>
<path d="M199.2,137.5 L233,137.5 L233,414 L199.2,414" stroke="#000" stroke-width="4.2" fill="none" stroke-linejoin="miter"/>
<line x1="233.00" y1="249.30" x2="379.00" y2="249.30" stroke="#000" stroke-width="4.2" stroke-linecap="butt"/>
<polygon points="392.00,249.30 376.00,243.80 380.00,249.30 376.00,254.80" fill="#000"/>
<text x="246.40" y="203.90" font-size="31.5" fill="#000" textLength="162.81" lengthAdjust="spacingAndGlyphs">Water- in- oil</text>
<text x="235.69" y="240.50" font-size="31.3" fill="#000" textLength="183.54" lengthAdjust="spacingAndGlyphs">microemulsion</text>
<path d="M504.9,204.6 L506.7,206.2 L508.9,205.2 L511.0,204.8 L512.6,206.9 L514.5,207.7 L516.9,206.3" stroke="#c4c4c4" stroke-width="0.55" fill="none" opacity="0.85"/>
<path d="M504.1,207.4 L505.5,209.2 L507.9,208.6 L510.1,208.6 L511.3,211.0 L513.0,212.1 L515.5,211.2" stroke="#c4c4c4" stroke-width="0.55" fill="none" opacity="0.85"/>
<path d="M499.1,213.9 L499.4,216.2 L501.8,216.9 L503.7,218.0 L503.6,220.6 L504.5,222.4 L507.2,222.9" stroke="#c4c4c4" stroke-width="0.55" fill="none" opacity="0.85"/>
<path d="M496.7,215.5 L496.6,217.8 L498.9,218.9 L500.5,220.3 L499.9,222.8 L500.5,224.8 L503.0,225.7" stroke="#c4c4c4" stroke-width="0.55" fill="none" opacity="0.85"/>
<path d="M488.7,217.3 L487.5,219.2 L488.9,221.3 L489.6,223.3 L487.9,225.3 L487.4,227.2 L489.1,229.3" stroke="#c4c4c4" stroke-width="0.55" fill="none" opacity="0.85"/>
<path d="M485.9,216.9 L484.3,218.6 L485.3,220.9 L485.7,223.0 L483.6,224.6 L482.8,226.5 L484.1,228.8" stroke="#c4c4c4" stroke-width="0.55" fill="none" opacity="0.85"/>
<path d="M478.6,213.2 L476.4,213.9 L476.1,216.4 L475.4,218.4 L472.8,218.7 L471.2,220.0 L471.2,222.7" stroke="#c4c4c4" stroke-width="0.55" fill="none" opacity="0.85"/>
<path d="M476.6,211.1 L474.3,211.4 L473.7,213.8 L472.6,215.6 L469.9,215.5 L468.1,216.4 L467.6,219.1" stroke="#c4c4c4" stroke-width="0.55" fill="none" opacity="0.85"/>
<path d="M473.5,203.5 L471.3,202.6 L469.5,204.4 L467.7,205.4 L465.4,204.0 L463.4,204.0 L461.7,206.0" stroke="#c4c4c4" stroke-width="0.55" fill="none" opacity="0.85"/>
<path d="M473.3,200.6 L471.4,199.4 L469.3,200.8 L467.3,201.5 L465.3,199.7 L463.4,199.3 L461.3,201.0" stroke="#c4c4c4" stroke-width="0.55" fill="none" opacity="0.85"/>
<path d="M475.7,192.8 L474.7,190.7 L472.2,191.0 L470.1,190.6 L469.3,188.1 L467.8,186.7 L465.1,187.2" stroke="#c4c4c4" stroke-width="0.55" fill="none" opacity="0.85"/>
<path d="M477.5,190.5 L476.8,188.3 L474.3,188.1 L472.3,187.3 L472.0,184.7 L470.7,183.1 L468.0,183.1" stroke="#c4c4c4" stroke-width="0.55" fill="none" opacity="0.85"/>
<path d="M484.4,186.1 L484.9,183.8 L482.8,182.4 L481.5,180.7 L482.5,178.3 L482.2,176.3 L479.9,174.9" stroke="#c4c4c4" stroke-width="0.55" fill="none" opacity="0.85"/>
<path d="M487.2,185.4 L488.1,183.3 L486.3,181.5 L485.3,179.6 L486.7,177.4 L486.8,175.4 L484.7,173.7" stroke="#c4c4c4" stroke-width="0.55" fill="none" opacity="0.85"/>
<path d="M495.3,186.5 L497.2,185.1 L496.5,182.6 L496.5,180.5 L498.9,179.3 L499.9,177.6 L499.0,175.0" stroke="#c4c4c4" stroke-width="0.55" fill="none" opacity="0.85"/>
<path d="M497.9,187.8 L499.9,186.7 L499.7,184.2 L500.1,182.1 L502.6,181.3 L504.0,179.8 L503.6,177.2" stroke="#c4c4c4" stroke-width="0.55" fill="none" opacity="0.85"/>
<path d="M503.4,193.8 L505.8,193.9 L506.8,191.6 L508.2,190.0 L510.8,190.6 L512.7,190.0 L513.6,187.4" stroke="#c4c4c4" stroke-width="0.55" fill="none" opacity="0.85"/>
<path d="M504.5,196.4 L506.8,197.0 L508.3,194.9 L509.9,193.6 L512.3,194.6 L514.4,194.3 L515.7,192.0" stroke="#c4c4c4" stroke-width="0.55" fill="none" opacity="0.85"/>
<circle cx="489.30" cy="186.80" r="2.70" fill="#231c6e"/>
<circle cx="498.62" cy="190.19" r="2.70" fill="#231c6e"/>
<circle cx="503.58" cy="198.78" r="2.70" fill="#231c6e"/>
<circle cx="501.86" cy="208.55" r="2.70" fill="#231c6e"/>
<circle cx="494.26" cy="214.93" r="2.70" fill="#231c6e"/>
<circle cx="484.34" cy="214.93" r="2.70" fill="#231c6e"/>
<circle cx="476.74" cy="208.55" r="2.70" fill="#231c6e"/>
<circle cx="475.02" cy="198.78" r="2.70" fill="#231c6e"/>
<circle cx="479.98" cy="190.19" r="2.70" fill="#231c6e"/>
<circle cx="489.30" cy="201.30" r="10.50" fill="url(#gOr)"/>
<circle cx="489.80" cy="196.80" r="2.60" fill="#8dc63f"/>
<circle cx="485.10" cy="201.60" r="2.60" fill="#8dc63f"/>
<circle cx="493.50" cy="201.80" r="2.60" fill="#8dc63f"/>
<circle cx="489.30" cy="205.90" r="2.60" fill="#8dc63f"/>
<path d="M467.1,248.1 L468.9,249.7 L471.1,248.7 L473.2,248.3 L474.8,250.4 L476.7,251.2 L479.1,249.8" stroke="#c4c4c4" stroke-width="0.55" fill="none" opacity="0.85"/>
<path d="M466.3,250.9 L467.7,252.7 L470.1,252.1 L472.3,252.1 L473.5,254.5 L475.2,255.6 L477.7,254.7" stroke="#c4c4c4" stroke-width="0.55" fill="none" opacity="0.85"/>
<path d="M461.3,257.4 L461.6,259.7 L464.0,260.4 L465.9,261.5 L465.8,264.1 L466.7,265.9 L469.4,266.4" stroke="#c4c4c4" stroke-width="0.55" fill="none" opacity="0.85"/>
<path d="M458.9,259.0 L458.8,261.3 L461.1,262.4 L462.7,263.8 L462.1,266.3 L462.7,268.3 L465.2,269.2" stroke="#c4c4c4" stroke-width="0.55" fill="none" opacity="0.85"/>
<path d="M450.9,260.8 L449.7,262.7 L451.1,264.8 L451.8,266.8 L450.1,268.8 L449.6,270.7 L451.3,272.8" stroke="#c4c4c4" stroke-width="0.55" fill="none" opacity="0.85"/>
<path d="M448.1,260.4 L446.5,262.1 L447.5,264.4 L447.9,266.5 L445.8,268.1 L445.0,270.0 L446.3,272.3" stroke="#c4c4c4" stroke-width="0.55" fill="none" opacity="0.85"/>
<path d="M440.8,256.7 L438.6,257.4 L438.3,259.9 L437.6,261.9 L435.0,262.2 L433.4,263.5 L433.4,266.2" stroke="#c4c4c4" stroke-width="0.55" fill="none" opacity="0.85"/>
<path d="M438.8,254.6 L436.5,254.9 L435.9,257.3 L434.8,259.1 L432.1,259.0 L430.3,259.9 L429.8,262.6" stroke="#c4c4c4" stroke-width="0.55" fill="none" opacity="0.85"/>
<path d="M435.7,247.0 L433.5,246.1 L431.7,247.9 L429.9,248.9 L427.6,247.5 L425.6,247.5 L423.9,249.5" stroke="#c4c4c4" stroke-width="0.55" fill="none" opacity="0.85"/>
<path d="M435.5,244.1 L433.6,242.9 L431.5,244.3 L429.5,245.0 L427.5,243.2 L425.6,242.8 L423.5,244.5" stroke="#c4c4c4" stroke-width="0.55" fill="none" opacity="0.85"/>
<path d="M437.9,236.3 L436.9,234.2 L434.4,234.5 L432.3,234.1 L431.5,231.6 L430.0,230.2 L427.3,230.7" stroke="#c4c4c4" stroke-width="0.55" fill="none" opacity="0.85"/>
<path d="M439.7,234.0 L439.0,231.8 L436.5,231.6 L434.5,230.8 L434.2,228.2 L432.9,226.6 L430.2,226.6" stroke="#c4c4c4" stroke-width="0.55" fill="none" opacity="0.85"/>
<path d="M446.6,229.6 L447.1,227.3 L445.0,225.9 L443.7,224.2 L444.7,221.8 L444.4,219.8 L442.1,218.4" stroke="#c4c4c4" stroke-width="0.55" fill="none" opacity="0.85"/>
<path d="M449.4,228.9 L450.3,226.8 L448.5,225.0 L447.5,223.1 L448.9,220.9 L449.0,218.9 L446.9,217.2" stroke="#c4c4c4" stroke-width="0.55" fill="none" opacity="0.85"/>
<path d="M457.5,230.0 L459.4,228.6 L458.7,226.1 L458.7,224.0 L461.1,222.8 L462.1,221.1 L461.2,218.5" stroke="#c4c4c4" stroke-width="0.55" fill="none" opacity="0.85"/>
<path d="M460.1,231.3 L462.1,230.2 L461.9,227.7 L462.3,225.6 L464.8,224.8 L466.2,223.3 L465.8,220.7" stroke="#c4c4c4" stroke-width="0.55" fill="none" opacity="0.85"/>
<path d="M465.6,237.3 L468.0,237.4 L469.0,235.1 L470.4,233.5 L473.0,234.1 L474.9,233.5 L475.8,230.9" stroke="#c4c4c4" stroke-width="0.55" fill="none" opacity="0.85"/>
<path d="M466.7,239.9 L469.0,240.5 L470.5,238.4 L472.1,237.1 L474.5,238.1 L476.6,237.8 L477.9,235.5" stroke="#c4c4c4" stroke-width="0.55" fill="none" opacity="0.85"/>
<circle cx="451.50" cy="230.30" r="2.70" fill="#231c6e"/>
<circle cx="460.82" cy="233.69" r="2.70" fill="#231c6e"/>
<circle cx="465.78" cy="242.28" r="2.70" fill="#231c6e"/>
<circle cx="464.06" cy="252.05" r="2.70" fill="#231c6e"/>
<circle cx="456.46" cy="258.43" r="2.70" fill="#231c6e"/>
<circle cx="446.54" cy="258.43" r="2.70" fill="#231c6e"/>
<circle cx="438.94" cy="252.05" r="2.70" fill="#231c6e"/>
<circle cx="437.22" cy="242.28" r="2.70" fill="#231c6e"/>
<circle cx="442.18" cy="233.69" r="2.70" fill="#231c6e"/>
<circle cx="451.50" cy="244.80" r="10.50" fill="url(#gOr)"/>
<circle cx="452.00" cy="240.30" r="2.60" fill="#8dc63f"/>
<circle cx="447.30" cy="245.10" r="2.60" fill="#8dc63f"/>
<circle cx="455.70" cy="245.30" r="2.60" fill="#8dc63f"/>
<circle cx="451.50" cy="249.40" r="2.60" fill="#8dc63f"/>
<path d="M539.6,246.8 L541.4,248.4 L543.6,247.4 L545.7,247.0 L547.3,249.1 L549.2,249.9 L551.6,248.5" stroke="#c4c4c4" stroke-width="0.55" fill="none" opacity="0.85"/>
<path d="M538.8,249.6 L540.2,251.4 L542.6,250.8 L544.8,250.8 L546.0,253.2 L547.7,254.3 L550.2,253.4" stroke="#c4c4c4" stroke-width="0.55" fill="none" opacity="0.85"/>
<path d="M533.8,256.1 L534.1,258.4 L536.5,259.1 L538.4,260.2 L538.3,262.8 L539.2,264.6 L541.9,265.1" stroke="#c4c4c4" stroke-width="0.55" fill="none" opacity="0.85"/>
<path d="M531.4,257.7 L531.3,260.0 L533.6,261.1 L535.2,262.5 L534.6,265.0 L535.2,267.0 L537.7,267.9" stroke="#c4c4c4" stroke-width="0.55" fill="none" opacity="0.85"/>
<path d="M523.4,259.5 L522.2,261.4 L523.6,263.5 L524.3,265.5 L522.6,267.5 L522.1,269.4 L523.8,271.5" stroke="#c4c4c4" stroke-width="0.55" fill="none" opacity="0.85"/>
<path d="M520.6,259.1 L519.0,260.8 L520.0,263.1 L520.4,265.2 L518.3,266.8 L517.5,268.7 L518.8,271.0" stroke="#c4c4c4" stroke-width="0.55" fill="none" opacity="0.85"/>
<path d="M513.3,255.4 L511.1,256.1 L510.8,258.6 L510.1,260.6 L507.5,260.9 L505.9,262.2 L505.9,264.9" stroke="#c4c4c4" stroke-width="0.55" fill="none" opacity="0.85"/>
<path d="M511.3,253.3 L509.0,253.6 L508.4,256.0 L507.3,257.8 L504.6,257.7 L502.8,258.6 L502.3,261.3" stroke="#c4c4c4" stroke-width="0.55" fill="none" opacity="0.85"/>
<path d="M508.2,245.7 L506.0,244.8 L504.2,246.6 L502.4,247.6 L500.1,246.2 L498.1,246.2 L496.4,248.2" stroke="#c4c4c4" stroke-width="0.55" fill="none" opacity="0.85"/>
<path d="M508.0,242.8 L506.1,241.6 L504.0,243.0 L502.0,243.7 L500.0,241.9 L498.1,241.5 L496.0,243.2" stroke="#c4c4c4" stroke-width="0.55" fill="none" opacity="0.85"/>
<path d="M510.4,235.0 L509.4,232.9 L506.9,233.2 L504.8,232.8 L504.0,230.3 L502.5,228.9 L499.8,229.4" stroke="#c4c4c4" stroke-width="0.55" fill="none" opacity="0.85"/>
<path d="M512.2,232.7 L511.5,230.5 L509.0,230.3 L507.0,229.5 L506.7,226.9 L505.4,225.3 L502.7,225.3" stroke="#c4c4c4" stroke-width="0.55" fill="none" opacity="0.85"/>
<path d="M519.1,228.3 L519.6,226.0 L517.5,224.6 L516.2,222.9 L517.2,220.5 L516.9,218.5 L514.6,217.1" stroke="#c4c4c4" stroke-width="0.55" fill="none" opacity="0.85"/>
<path d="M521.9,227.6 L522.8,225.5 L521.0,223.7 L520.0,221.8 L521.4,219.6 L521.5,217.6 L519.4,215.9" stroke="#c4c4c4" stroke-width="0.55" fill="none" opacity="0.85"/>
<path d="M530.0,228.7 L531.9,227.3 L531.2,224.8 L531.2,222.7 L533.6,221.5 L534.6,219.8 L533.7,217.2" stroke="#c4c4c4" stroke-width="0.55" fill="none" opacity="0.85"/>
<path d="M532.6,230.0 L534.6,228.9 L534.4,226.4 L534.8,224.3 L537.3,223.5 L538.7,222.0 L538.3,219.4" stroke="#c4c4c4" stroke-width="0.55" fill="none" opacity="0.85"/>
<path d="M538.1,236.0 L540.5,236.1 L541.5,233.8 L542.9,232.2 L545.5,232.8 L547.4,232.2 L548.3,229.6" stroke="#c4c4c4" stroke-width="0.55" fill="none" opacity="0.85"/>
<path d="M539.2,238.6 L541.5,239.2 L543.0,237.1 L544.6,235.8 L547.0,236.8 L549.1,236.5 L550.4,234.2" stroke="#c4c4c4" stroke-width="0.55" fill="none" opacity="0.85"/>
<circle cx="524.00" cy="229.00" r="2.70" fill="#231c6e"/>
<circle cx="533.32" cy="232.39" r="2.70" fill="#231c6e"/>
<circle cx="538.28" cy="240.98" r="2.70" fill="#231c6e"/>
<circle cx="536.56" cy="250.75" r="2.70" fill="#231c6e"/>
<circle cx="528.96" cy="257.13" r="2.70" fill="#231c6e"/>
<circle cx="519.04" cy="257.13" r="2.70" fill="#231c6e"/>
<circle cx="511.44" cy="250.75" r="2.70" fill="#231c6e"/>
<circle cx="509.72" cy="240.98" r="2.70" fill="#231c6e"/>
<circle cx="514.68" cy="232.39" r="2.70" fill="#231c6e"/>
<circle cx="524.00" cy="243.50" r="10.50" fill="url(#gOr)"/>
<circle cx="524.50" cy="239.00" r="2.60" fill="#8dc63f"/>
<circle cx="519.80" cy="243.80" r="2.60" fill="#8dc63f"/>
<circle cx="528.20" cy="244.00" r="2.60" fill="#8dc63f"/>
<circle cx="524.00" cy="248.10" r="2.60" fill="#8dc63f"/>
<path d="M556.8,243.5 L591.5,243.5 L591.5,414.3 L556.8,414.3" stroke="#000" stroke-width="4.2" fill="none"/>
<line x1="591.50" y1="297.40" x2="628.70" y2="297.40" stroke="#000" stroke-width="4.2" stroke-linecap="butt"/>
<polygon points="641.70,297.40 625.70,291.90 629.70,297.40 625.70,302.90" fill="#000"/>
<text x="595.28" y="282.00" font-size="31.5" fill="#000" textLength="51.09" lengthAdjust="spacingAndGlyphs">Mix</text>
<path d="M329.0,343.0 L333.8,344.5 L338.5,343.8 L343.2,341.9 L348.0,341.6 L352.8,343.3 L357.5,344.6 L362.2,343.5 L367.0,341.7" stroke="#8fd3f0" stroke-width="0.6" fill="none"/>
<path d="M329.0,346.2 L333.8,347.7 L338.5,347.0 L343.2,345.1 L348.0,344.8 L352.8,346.5 L357.5,347.8 L362.2,346.7 L367.0,344.9" stroke="#8fd3f0" stroke-width="0.6" fill="none"/>
<path d="M310,343.6 L312,345.6 L314,343.4 L316,345.4 L318,344.2" stroke="#333" stroke-width="0.8" fill="none"/>
<circle cx="323.40" cy="344.60" r="5.40" fill="url(#gBl)"/>
<path d="M328.0,381.7 L331.7,383.1 L335.3,382.2 L339.0,380.5 L342.7,380.8 L346.3,382.6 L350.0,382.9" stroke="#c2ab98" stroke-width="0.6" fill="none"/>
<path d="M328.0,384.7 L331.7,386.1 L335.3,385.2 L339.0,383.5 L342.7,383.8 L346.3,385.6 L350.0,385.9" stroke="#c2ab98" stroke-width="0.6" fill="none"/>
<circle cx="323.40" cy="383.20" r="5.40" fill="#8e735a"/>
<ellipse cx="333.50" cy="419.30" rx="15.50" ry="4.80" fill="url(#gCh)"/>
<text x="384.58" y="358.00" font-size="31.3" fill="#000" textLength="143.73" lengthAdjust="spacingAndGlyphs">DSPE-PEG</text>
<text x="527.17" y="368.00" font-size="17.5" fill="#000" textLength="37.08" lengthAdjust="spacingAndGlyphs">2000</text>
<text x="384.58" y="394.70" font-size="31.3" fill="#000" textLength="100.06" lengthAdjust="spacingAndGlyphs">DOTAP</text>
<text x="384.27" y="426.70" font-size="31.3" fill="#000" textLength="141.40" lengthAdjust="spacingAndGlyphs">Cholesterol</text>
<path d="M665.4,393.7 L666.8,395.4 L669.1,395.3 L670.8,396.3 L672.0,398.4 L674.1,398.7" stroke="#b09a86" stroke-width="0.5" fill="none"/>
<path d="M664.6,395.1 L666.0,396.7 L668.3,396.7 L670.0,397.7 L671.2,399.8 L673.3,400.0" stroke="#b09a86" stroke-width="0.5" fill="none"/>
<circle cx="663.30" cy="393.40" r="2.50" fill="#8e735a"/>
<path d="M702.5,411.9 L700.4,411.9 L698.9,413.8 L697.0,414.4 L694.7,413.9 L693.1,415.4" stroke="#b09a86" stroke-width="0.5" fill="none"/>
<path d="M701.9,410.4 L699.8,410.4 L698.4,412.3 L696.5,412.9 L694.2,412.4 L692.6,413.9" stroke="#b09a86" stroke-width="0.5" fill="none"/>
<circle cx="704.10" cy="410.50" r="2.50" fill="#8e735a"/>
<path d="M724.9,431.7 L723.1,432.8 L722.7,435.1 L721.4,436.6 L719.2,437.4 L718.5,439.4" stroke="#b09a86" stroke-width="0.5" fill="none"/>
<path d="M723.7,430.7 L721.8,431.8 L721.5,434.1 L720.2,435.6 L718.0,436.3 L717.3,438.4" stroke="#b09a86" stroke-width="0.5" fill="none"/>
<circle cx="725.60" cy="429.70" r="2.50" fill="#8e735a"/>
<path d="M739.0,445.7 L741.0,446.5 L743.0,445.2 L745.0,445.3 L747.0,446.5 L749.0,445.6" stroke="#b09a86" stroke-width="0.5" fill="none"/>
<path d="M739.0,447.3 L741.0,448.1 L743.0,446.8 L745.0,446.9 L747.0,448.1 L749.0,447.2" stroke="#b09a86" stroke-width="0.5" fill="none"/>
<circle cx="737.00" cy="446.50" r="2.50" fill="#8e735a"/>
<path d="M775.4,438.6 L773.7,440.0 L773.8,442.3 L772.8,444.0 L770.7,445.2 L770.4,447.3" stroke="#b09a86" stroke-width="0.5" fill="none"/>
<path d="M774.0,437.8 L772.4,439.2 L772.4,441.5 L771.4,443.2 L769.3,444.4 L769.1,446.5" stroke="#b09a86" stroke-width="0.5" fill="none"/>
<circle cx="775.70" cy="436.50" r="2.50" fill="#8e735a"/>
<path d="M782.1,421.6 L783.9,422.7 L786.1,421.8 L788.1,422.2 L789.9,423.7 L792.0,423.2" stroke="#b09a86" stroke-width="0.5" fill="none"/>
<path d="M781.8,423.1 L783.7,424.2 L785.9,423.3 L787.8,423.7 L789.6,425.3 L791.7,424.8" stroke="#b09a86" stroke-width="0.5" fill="none"/>
<circle cx="780.00" cy="422.00" r="2.50" fill="#8e735a"/>
<path d="M824.1,424.9 L822.1,424.1 L820.1,425.4 L818.1,425.3 L816.1,424.1 L814.1,425.0" stroke="#b09a86" stroke-width="0.5" fill="none"/>
<path d="M824.1,423.3 L822.1,422.5 L820.1,423.8 L818.1,423.7 L816.1,422.5 L814.1,423.4" stroke="#b09a86" stroke-width="0.5" fill="none"/>
<circle cx="826.10" cy="424.10" r="2.50" fill="#8e735a"/>
<path d="M781.8,460.3 L779.7,460.3 L778.2,462.2 L776.3,462.8 L774.0,462.3 L772.4,463.8" stroke="#b09a86" stroke-width="0.5" fill="none"/>
<path d="M781.2,458.8 L779.1,458.8 L777.7,460.7 L775.8,461.3 L773.5,460.8 L771.9,462.3" stroke="#b09a86" stroke-width="0.5" fill="none"/>
<circle cx="783.40" cy="458.90" r="2.50" fill="#8e735a"/>
<path d="M705.9,423.7 L703.7,422.6 L701.1,423.4 L698.7,422.9 L696.6,421.3 L694.1,421.7" stroke="#8fd3f0" stroke-width="0.5" fill="none"/>
<path d="M706.2,422.2 L703.9,421.0 L701.4,421.8 L699.0,421.3 L696.8,419.7 L694.3,420.1" stroke="#8fd3f0" stroke-width="0.5" fill="none"/>
<line x1="709.97" y1="423.65" x2="712.92" y2="424.17" stroke="#333" stroke-width="0.7" stroke-linecap="butt"/>
<circle cx="708.00" cy="423.30" r="2.10" fill="#29abe2"/>
<path d="M687.3,436.6 L689.5,437.7 L692.1,436.9 L694.5,437.4 L696.6,439.0 L699.1,438.6" stroke="#8fd3f0" stroke-width="0.5" fill="none"/>
<path d="M687.0,438.1 L689.3,439.3 L691.8,438.5 L694.2,439.0 L696.4,440.6 L698.9,440.2" stroke="#8fd3f0" stroke-width="0.5" fill="none"/>
<line x1="683.23" y1="436.65" x2="680.28" y2="436.13" stroke="#333" stroke-width="0.7" stroke-linecap="butt"/>
<circle cx="685.20" cy="437.00" r="2.10" fill="#29abe2"/>
<path d="M737.7,427.3 L738.2,429.8 L740.5,431.2 L741.7,433.3 L741.8,436.0 L743.7,437.7" stroke="#8fd3f0" stroke-width="0.5" fill="none"/>
<path d="M736.3,428.1 L736.9,430.6 L739.1,432.0 L740.3,434.1 L740.4,436.8 L742.4,438.5" stroke="#8fd3f0" stroke-width="0.5" fill="none"/>
<line x1="735.00" y1="424.27" x2="733.50" y2="421.67" stroke="#333" stroke-width="0.7" stroke-linecap="butt"/>
<circle cx="736.00" cy="426.00" r="2.10" fill="#29abe2"/>
<path d="M736.2,460.3 L738.7,459.8 L740.1,457.5 L742.2,456.3 L744.9,456.2 L746.6,454.3" stroke="#8fd3f0" stroke-width="0.5" fill="none"/>
<path d="M737.0,461.7 L739.5,461.1 L740.9,458.9 L743.0,457.7 L745.7,457.6 L747.4,455.6" stroke="#8fd3f0" stroke-width="0.5" fill="none"/>
<line x1="733.17" y1="463.00" x2="730.57" y2="464.50" stroke="#333" stroke-width="0.7" stroke-linecap="butt"/>
<circle cx="734.90" cy="462.00" r="2.10" fill="#29abe2"/>
<path d="M822.2,405.6 L820.1,407.0 L819.5,409.6 L817.9,411.4 L815.5,412.5 L814.6,414.9" stroke="#8fd3f0" stroke-width="0.5" fill="none"/>
<path d="M821.0,404.6 L818.9,406.0 L818.3,408.6 L816.7,410.4 L814.2,411.5 L813.3,413.8" stroke="#8fd3f0" stroke-width="0.5" fill="none"/>
<line x1="824.19" y1="402.07" x2="826.11" y2="399.77" stroke="#333" stroke-width="0.7" stroke-linecap="butt"/>
<circle cx="822.90" cy="403.60" r="2.10" fill="#29abe2"/>
<path d="M692.5,415.0 L693.5,416.4 L695.0,415.2 L696.4,414.7 L697.2,416.6 L698.4,417.2 L700.0,415.7" stroke="#c4c4c4" stroke-width="0.55" fill="none" opacity="0.85"/>
<path d="M692.0,416.7 L692.7,418.2 L694.4,417.3 L695.8,417.1 L696.3,419.1 L697.3,419.9 L699.2,418.7" stroke="#c4c4c4" stroke-width="0.55" fill="none" opacity="0.85"/>
<path d="M688.2,421.2 L687.9,422.9 L689.8,423.1 L691.2,423.7 L690.4,425.7 L690.8,426.9 L693.0,427.0" stroke="#c4c4c4" stroke-width="0.55" fill="none" opacity="0.85"/>
<path d="M686.6,422.1 L686.0,423.7 L687.9,424.2 L689.1,425.1 L688.0,426.9 L688.1,428.1 L690.3,428.6" stroke="#c4c4c4" stroke-width="0.55" fill="none" opacity="0.85"/>
<path d="M680.7,422.6 L679.3,423.6 L680.5,425.1 L681.0,426.5 L679.1,427.3 L678.5,428.5 L680.0,430.1" stroke="#c4c4c4" stroke-width="0.55" fill="none" opacity="0.85"/>
<path d="M679.0,422.1 L677.5,422.8 L678.4,424.5 L678.6,425.9 L676.6,426.4 L675.8,427.4 L677.0,429.3" stroke="#c4c4c4" stroke-width="0.55" fill="none" opacity="0.85"/>
<path d="M674.5,418.3 L672.8,418.0 L672.6,419.9 L672.0,421.3 L670.0,420.5 L668.8,420.9 L668.7,423.1" stroke="#c4c4c4" stroke-width="0.55" fill="none" opacity="0.85"/>
<path d="M673.6,416.7 L672.0,416.1 L671.5,418.0 L670.6,419.2 L668.8,418.1 L667.6,418.2 L667.1,420.4" stroke="#c4c4c4" stroke-width="0.55" fill="none" opacity="0.85"/>
<path d="M673.1,410.8 L672.1,409.4 L670.6,410.6 L669.2,411.1 L668.4,409.2 L667.2,408.6 L665.6,410.1" stroke="#c4c4c4" stroke-width="0.55" fill="none" opacity="0.85"/>
<path d="M673.6,409.1 L672.9,407.6 L671.2,408.5 L669.8,408.7 L669.3,406.7 L668.3,405.9 L666.4,407.1" stroke="#c4c4c4" stroke-width="0.55" fill="none" opacity="0.85"/>
<path d="M677.4,404.6 L677.7,402.9 L675.8,402.7 L674.4,402.1 L675.2,400.1 L674.8,398.9 L672.6,398.8" stroke="#c4c4c4" stroke-width="0.55" fill="none" opacity="0.85"/>
<path d="M679.0,403.7 L679.6,402.1 L677.7,401.6 L676.5,400.7 L677.6,398.9 L677.5,397.7 L675.3,397.2" stroke="#c4c4c4" stroke-width="0.55" fill="none" opacity="0.85"/>
<path d="M684.9,403.2 L686.3,402.2 L685.1,400.7 L684.6,399.3 L686.5,398.5 L687.1,397.3 L685.6,395.7" stroke="#c4c4c4" stroke-width="0.55" fill="none" opacity="0.85"/>
<path d="M686.6,403.7 L688.1,403.0 L687.2,401.3 L687.0,399.9 L689.0,399.4 L689.8,398.4 L688.6,396.5" stroke="#c4c4c4" stroke-width="0.55" fill="none" opacity="0.85"/>
<path d="M691.1,407.5 L692.8,407.8 L693.0,405.9 L693.6,404.5 L695.6,405.3 L696.8,404.9 L696.9,402.7" stroke="#c4c4c4" stroke-width="0.55" fill="none" opacity="0.85"/>
<path d="M692.0,409.1 L693.6,409.7 L694.1,407.8 L695.0,406.6 L696.8,407.7 L698.0,407.6 L698.5,405.4" stroke="#c4c4c4" stroke-width="0.55" fill="none" opacity="0.85"/>
<circle cx="682.80" cy="403.91" r="1.67" fill="#231c6e"/>
<circle cx="688.58" cy="406.01" r="1.67" fill="#231c6e"/>
<circle cx="691.65" cy="411.34" r="1.67" fill="#231c6e"/>
<circle cx="690.59" cy="417.39" r="1.67" fill="#231c6e"/>
<circle cx="685.87" cy="421.35" r="1.67" fill="#231c6e"/>
<circle cx="679.73" cy="421.35" r="1.67" fill="#231c6e"/>
<circle cx="675.01" cy="417.39" r="1.67" fill="#231c6e"/>
<circle cx="673.95" cy="411.34" r="1.67" fill="#231c6e"/>
<circle cx="677.02" cy="406.01" r="1.67" fill="#231c6e"/>
<circle cx="682.80" cy="412.90" r="6.51" fill="url(#gOr)"/>
<circle cx="683.11" cy="410.11" r="1.61" fill="#8dc63f"/>
<circle cx="680.20" cy="413.09" r="1.61" fill="#8dc63f"/>
<circle cx="685.40" cy="413.21" r="1.61" fill="#8dc63f"/>
<circle cx="682.80" cy="415.75" r="1.61" fill="#8dc63f"/>
<path d="M722.2,445.4 L723.2,446.8 L724.7,445.6 L726.1,445.1 L726.9,447.0 L728.1,447.6 L729.7,446.1" stroke="#c4c4c4" stroke-width="0.55" fill="none" opacity="0.85"/>
<path d="M721.7,447.1 L722.4,448.6 L724.1,447.7 L725.5,447.5 L726.0,449.5 L727.0,450.3 L728.9,449.1" stroke="#c4c4c4" stroke-width="0.55" fill="none" opacity="0.85"/>
<path d="M717.9,451.6 L717.6,453.3 L719.5,453.5 L720.9,454.1 L720.1,456.1 L720.5,457.3 L722.7,457.4" stroke="#c4c4c4" stroke-width="0.55" fill="none" opacity="0.85"/>
<path d="M716.3,452.5 L715.7,454.1 L717.6,454.6 L718.8,455.5 L717.7,457.3 L717.8,458.5 L720.0,459.0" stroke="#c4c4c4" stroke-width="0.55" fill="none" opacity="0.85"/>
<path d="M710.4,453.0 L709.0,454.0 L710.2,455.5 L710.7,456.9 L708.8,457.7 L708.2,458.9 L709.7,460.5" stroke="#c4c4c4" stroke-width="0.55" fill="none" opacity="0.85"/>
<path d="M708.7,452.5 L707.2,453.2 L708.1,454.9 L708.3,456.3 L706.3,456.8 L705.5,457.8 L706.7,459.7" stroke="#c4c4c4" stroke-width="0.55" fill="none" opacity="0.85"/>
<path d="M704.2,448.7 L702.5,448.4 L702.3,450.3 L701.7,451.7 L699.7,450.9 L698.5,451.3 L698.4,453.5" stroke="#c4c4c4" stroke-width="0.55" fill="none" opacity="0.85"/>
<path d="M703.3,447.1 L701.7,446.5 L701.2,448.4 L700.3,449.6 L698.5,448.5 L697.3,448.6 L696.8,450.8" stroke="#c4c4c4" stroke-width="0.55" fill="none" opacity="0.85"/>
<path d="M702.8,441.2 L701.8,439.8 L700.3,441.0 L698.9,441.5 L698.1,439.6 L696.9,439.0 L695.3,440.5" stroke="#c4c4c4" stroke-width="0.55" fill="none" opacity="0.85"/>
<path d="M703.3,439.5 L702.6,438.0 L700.9,438.9 L699.5,439.1 L699.0,437.1 L698.0,436.3 L696.1,437.5" stroke="#c4c4c4" stroke-width="0.55" fill="none" opacity="0.85"/>
<path d="M707.1,435.0 L707.4,433.3 L705.5,433.1 L704.1,432.5 L704.9,430.5 L704.5,429.3 L702.3,429.2" stroke="#c4c4c4" stroke-width="0.55" fill="none" opacity="0.85"/>
<path d="M708.7,434.1 L709.3,432.5 L707.4,432.0 L706.2,431.1 L707.3,429.3 L707.2,428.1 L705.0,427.6" stroke="#c4c4c4" stroke-width="0.55" fill="none" opacity="0.85"/>
<path d="M714.6,433.6 L716.0,432.6 L714.8,431.1 L714.3,429.7 L716.2,428.9 L716.8,427.7 L715.3,426.1" stroke="#c4c4c4" stroke-width="0.55" fill="none" opacity="0.85"/>
<path d="M716.3,434.1 L717.8,433.4 L716.9,431.7 L716.7,430.3 L718.7,429.8 L719.5,428.8 L718.3,426.9" stroke="#c4c4c4" stroke-width="0.55" fill="none" opacity="0.85"/>
<path d="M720.8,437.9 L722.5,438.2 L722.7,436.3 L723.3,434.9 L725.3,435.7 L726.5,435.3 L726.6,433.1" stroke="#c4c4c4" stroke-width="0.55" fill="none" opacity="0.85"/>
<path d="M721.7,439.5 L723.3,440.1 L723.8,438.2 L724.7,437.0 L726.5,438.1 L727.7,438.0 L728.2,435.8" stroke="#c4c4c4" stroke-width="0.55" fill="none" opacity="0.85"/>
<circle cx="712.50" cy="434.31" r="1.67" fill="#231c6e"/>
<circle cx="718.28" cy="436.41" r="1.67" fill="#231c6e"/>
<circle cx="721.35" cy="441.74" r="1.67" fill="#231c6e"/>
<circle cx="720.29" cy="447.80" r="1.67" fill="#231c6e"/>
<circle cx="715.57" cy="451.75" r="1.67" fill="#231c6e"/>
<circle cx="709.43" cy="451.75" r="1.67" fill="#231c6e"/>
<circle cx="704.71" cy="447.80" r="1.67" fill="#231c6e"/>
<circle cx="703.65" cy="441.74" r="1.67" fill="#231c6e"/>
<circle cx="706.72" cy="436.41" r="1.67" fill="#231c6e"/>
<circle cx="712.50" cy="443.30" r="6.51" fill="url(#gOr)"/>
<circle cx="712.81" cy="440.51" r="1.61" fill="#8dc63f"/>
<circle cx="709.90" cy="443.49" r="1.61" fill="#8dc63f"/>
<circle cx="715.10" cy="443.61" r="1.61" fill="#8dc63f"/>
<circle cx="712.50" cy="446.15" r="1.61" fill="#8dc63f"/>
<path d="M769.1,453.4 L770.1,454.8 L771.6,453.6 L773.0,453.1 L773.8,455.0 L775.0,455.6 L776.6,454.1" stroke="#c4c4c4" stroke-width="0.55" fill="none" opacity="0.85"/>
<path d="M768.6,455.1 L769.3,456.6 L771.0,455.7 L772.4,455.5 L772.9,457.5 L773.9,458.3 L775.8,457.1" stroke="#c4c4c4" stroke-width="0.55" fill="none" opacity="0.85"/>
<path d="M764.8,459.6 L764.5,461.3 L766.4,461.5 L767.8,462.1 L767.0,464.1 L767.4,465.3 L769.6,465.4" stroke="#c4c4c4" stroke-width="0.55" fill="none" opacity="0.85"/>
<path d="M763.2,460.5 L762.6,462.1 L764.5,462.6 L765.7,463.5 L764.6,465.3 L764.7,466.5 L766.9,467.0" stroke="#c4c4c4" stroke-width="0.55" fill="none" opacity="0.85"/>
<path d="M757.3,461.0 L755.9,462.0 L757.1,463.5 L757.6,464.9 L755.7,465.7 L755.1,466.9 L756.6,468.5" stroke="#c4c4c4" stroke-width="0.55" fill="none" opacity="0.85"/>
<path d="M755.6,460.5 L754.1,461.2 L755.0,462.9 L755.2,464.3 L753.2,464.8 L752.4,465.8 L753.6,467.7" stroke="#c4c4c4" stroke-width="0.55" fill="none" opacity="0.85"/>
<path d="M751.1,456.7 L749.4,456.4 L749.2,458.3 L748.6,459.7 L746.6,458.9 L745.4,459.3 L745.3,461.5" stroke="#c4c4c4" stroke-width="0.55" fill="none" opacity="0.85"/>
<path d="M750.2,455.1 L748.6,454.5 L748.1,456.4 L747.2,457.6 L745.4,456.5 L744.2,456.6 L743.7,458.8" stroke="#c4c4c4" stroke-width="0.55" fill="none" opacity="0.85"/>
<path d="M749.7,449.2 L748.7,447.8 L747.2,449.0 L745.8,449.5 L745.0,447.6 L743.8,447.0 L742.2,448.5" stroke="#c4c4c4" stroke-width="0.55" fill="none" opacity="0.85"/>
<path d="M750.2,447.5 L749.5,446.0 L747.8,446.9 L746.4,447.1 L745.9,445.1 L744.9,444.3 L743.0,445.5" stroke="#c4c4c4" stroke-width="0.55" fill="none" opacity="0.85"/>
<path d="M754.0,443.0 L754.3,441.3 L752.4,441.1 L751.0,440.5 L751.8,438.5 L751.4,437.3 L749.2,437.2" stroke="#c4c4c4" stroke-width="0.55" fill="none" opacity="0.85"/>
<path d="M755.6,442.1 L756.2,440.5 L754.3,440.0 L753.1,439.1 L754.2,437.3 L754.1,436.1 L751.9,435.6" stroke="#c4c4c4" stroke-width="0.55" fill="none" opacity="0.85"/>
<path d="M761.5,441.6 L762.9,440.6 L761.7,439.1 L761.2,437.7 L763.1,436.9 L763.7,435.7 L762.2,434.1" stroke="#c4c4c4" stroke-width="0.55" fill="none" opacity="0.85"/>
<path d="M763.2,442.1 L764.7,441.4 L763.8,439.7 L763.6,438.3 L765.6,437.8 L766.4,436.8 L765.2,434.9" stroke="#c4c4c4" stroke-width="0.55" fill="none" opacity="0.85"/>
<path d="M767.7,445.9 L769.4,446.2 L769.6,444.3 L770.2,442.9 L772.2,443.7 L773.4,443.3 L773.5,441.1" stroke="#c4c4c4" stroke-width="0.55" fill="none" opacity="0.85"/>
<path d="M768.6,447.5 L770.2,448.1 L770.7,446.2 L771.6,445.0 L773.4,446.1 L774.6,446.0 L775.1,443.8" stroke="#c4c4c4" stroke-width="0.55" fill="none" opacity="0.85"/>
<circle cx="759.40" cy="442.31" r="1.67" fill="#231c6e"/>
<circle cx="765.18" cy="444.41" r="1.67" fill="#231c6e"/>
<circle cx="768.25" cy="449.74" r="1.67" fill="#231c6e"/>
<circle cx="767.19" cy="455.80" r="1.67" fill="#231c6e"/>
<circle cx="762.47" cy="459.75" r="1.67" fill="#231c6e"/>
<circle cx="756.33" cy="459.75" r="1.67" fill="#231c6e"/>
<circle cx="751.61" cy="455.80" r="1.67" fill="#231c6e"/>
<circle cx="750.55" cy="449.74" r="1.67" fill="#231c6e"/>
<circle cx="753.62" cy="444.41" r="1.67" fill="#231c6e"/>
<circle cx="759.40" cy="451.30" r="6.51" fill="url(#gOr)"/>
<circle cx="759.71" cy="448.51" r="1.61" fill="#8dc63f"/>
<circle cx="756.80" cy="451.49" r="1.61" fill="#8dc63f"/>
<circle cx="762.00" cy="451.61" r="1.61" fill="#8dc63f"/>
<circle cx="759.40" cy="454.15" r="1.61" fill="#8dc63f"/>
<path d="M810.7,427.8 L811.7,429.2 L813.2,428.0 L814.6,427.5 L815.4,429.4 L816.6,430.0 L818.2,428.5" stroke="#c4c4c4" stroke-width="0.55" fill="none" opacity="0.85"/>
<path d="M810.2,429.5 L810.9,431.0 L812.6,430.1 L814.0,429.9 L814.5,431.9 L815.5,432.7 L817.4,431.5" stroke="#c4c4c4" stroke-width="0.55" fill="none" opacity="0.85"/>
<path d="M806.4,434.0 L806.1,435.7 L808.0,435.9 L809.4,436.5 L808.6,438.5 L809.0,439.7 L811.2,439.8" stroke="#c4c4c4" stroke-width="0.55" fill="none" opacity="0.85"/>
<path d="M804.8,434.9 L804.2,436.5 L806.1,437.0 L807.3,437.9 L806.2,439.7 L806.3,440.9 L808.5,441.4" stroke="#c4c4c4" stroke-width="0.55" fill="none" opacity="0.85"/>
<path d="M798.9,435.4 L797.5,436.4 L798.7,437.9 L799.2,439.3 L797.3,440.1 L796.7,441.3 L798.2,442.9" stroke="#c4c4c4" stroke-width="0.55" fill="none" opacity="0.85"/>
<path d="M797.2,434.9 L795.7,435.6 L796.6,437.3 L796.8,438.7 L794.8,439.2 L794.0,440.2 L795.2,442.1" stroke="#c4c4c4" stroke-width="0.55" fill="none" opacity="0.85"/>
<path d="M792.7,431.1 L791.0,430.8 L790.8,432.7 L790.2,434.1 L788.2,433.3 L787.0,433.7 L786.9,435.9" stroke="#c4c4c4" stroke-width="0.55" fill="none" opacity="0.85"/>
<path d="M791.8,429.5 L790.2,428.9 L789.7,430.8 L788.8,432.0 L787.0,430.9 L785.8,431.0 L785.3,433.2" stroke="#c4c4c4" stroke-width="0.55" fill="none" opacity="0.85"/>
<path d="M791.3,423.6 L790.3,422.2 L788.8,423.4 L787.4,423.9 L786.6,422.0 L785.4,421.4 L783.8,422.9" stroke="#c4c4c4" stroke-width="0.55" fill="none" opacity="0.85"/>
<path d="M791.8,421.9 L791.1,420.4 L789.4,421.3 L788.0,421.5 L787.5,419.5 L786.5,418.7 L784.6,419.9" stroke="#c4c4c4" stroke-width="0.55" fill="none" opacity="0.85"/>
<path d="M795.6,417.4 L795.9,415.7 L794.0,415.5 L792.6,414.9 L793.4,412.9 L793.0,411.7 L790.8,411.6" stroke="#c4c4c4" stroke-width="0.55" fill="none" opacity="0.85"/>
<path d="M797.2,416.5 L797.8,414.9 L795.9,414.4 L794.7,413.5 L795.8,411.7 L795.7,410.5 L793.5,410.0" stroke="#c4c4c4" stroke-width="0.55" fill="none" opacity="0.85"/>
<path d="M803.1,416.0 L804.5,415.0 L803.3,413.5 L802.8,412.1 L804.7,411.3 L805.3,410.1 L803.8,408.5" stroke="#c4c4c4" stroke-width="0.55" fill="none" opacity="0.85"/>
<path d="M804.8,416.5 L806.3,415.8 L805.4,414.1 L805.2,412.7 L807.2,412.2 L808.0,411.2 L806.8,409.3" stroke="#c4c4c4" stroke-width="0.55" fill="none" opacity="0.85"/>
<path d="M809.3,420.3 L811.0,420.6 L811.2,418.7 L811.8,417.3 L813.8,418.1 L815.0,417.7 L815.1,415.5" stroke="#c4c4c4" stroke-width="0.55" fill="none" opacity="0.85"/>
<path d="M810.2,421.9 L811.8,422.5 L812.3,420.6 L813.2,419.4 L815.0,420.5 L816.2,420.4 L816.7,418.2" stroke="#c4c4c4" stroke-width="0.55" fill="none" opacity="0.85"/>
<circle cx="801.00" cy="416.71" r="1.67" fill="#231c6e"/>
<circle cx="806.78" cy="418.81" r="1.67" fill="#231c6e"/>
<circle cx="809.85" cy="424.14" r="1.67" fill="#231c6e"/>
<circle cx="808.79" cy="430.19" r="1.67" fill="#231c6e"/>
<circle cx="804.07" cy="434.15" r="1.67" fill="#231c6e"/>
<circle cx="797.93" cy="434.15" r="1.67" fill="#231c6e"/>
<circle cx="793.21" cy="430.19" r="1.67" fill="#231c6e"/>
<circle cx="792.15" cy="424.14" r="1.67" fill="#231c6e"/>
<circle cx="795.22" cy="418.81" r="1.67" fill="#231c6e"/>
<circle cx="801.00" cy="425.70" r="6.51" fill="url(#gOr)"/>
<circle cx="801.31" cy="422.91" r="1.61" fill="#8dc63f"/>
<circle cx="798.40" cy="425.89" r="1.61" fill="#8dc63f"/>
<circle cx="803.60" cy="426.01" r="1.61" fill="#8dc63f"/>
<circle cx="801.00" cy="428.55" r="1.61" fill="#8dc63f"/>
<ellipse cx="692.9" cy="449.7" rx="6.5" ry="2.6" fill="url(#gCh)"/>
<ellipse cx="746.9" cy="467.4" rx="7" ry="2.6" fill="url(#gCh)"/>
<ellipse cx="793.3" cy="452.5" rx="8.5" ry="3" fill="url(#gCh)"/>
<path d="M716,291 L716,234.6 L777.7,234.6 L777.7,291" stroke="#000" stroke-width="5.5" fill="none"/>
<path d="M716,291 C680,293 646.4,330 646.4,371 A100.3,102.4 0 0 0 847,371 C847,330 813,293 777.7,291" stroke="#000" stroke-width="5.5" fill="none"/>
<line x1="648.00" y1="387.00" x2="845.50" y2="387.00" stroke="#000" stroke-width="2.6" stroke-linecap="butt"/>
<line x1="858.00" y1="291.20" x2="945.90" y2="291.20" stroke="#000" stroke-width="4.2" stroke-linecap="butt"/>
<polygon points="958.90,291.20 942.90,285.70 946.90,291.20 942.90,296.70" fill="#000"/>
<text x="849.67" y="275.00" font-size="31.5" fill="#000" textLength="125.58" lengthAdjust="spacingAndGlyphs">Hydration</text>
<path d="M1048.1,260.8 L1049.0,256.8 L1049.1,252.8 L1046.4,249.4 L1045.9,245.6 L1047.2,241.5 L1045.5,237.9" stroke="#8fd3f0" stroke-width="0.6" fill="none" opacity="0.9"/>
<path d="M1053.2,260.2 L1051.4,256.5 L1050.1,252.7 L1051.8,248.7 L1051.6,244.9 L1049.3,241.2 L1049.8,237.3" stroke="#8fd3f0" stroke-width="0.6" fill="none" opacity="0.9"/>
<path d="M1064.2,262.3 L1067.6,259.2 L1070.1,255.6 L1070.2,250.9 L1072.3,247.1 L1075.9,244.1 L1076.8,239.7" stroke="#8fd3f0" stroke-width="0.6" fill="none" opacity="0.9"/>
<path d="M1068.7,264.8 L1069.7,260.3 L1071.1,256.2 L1075.1,253.5 L1077.4,249.9 L1078.0,245.2 L1080.9,242.0" stroke="#8fd3f0" stroke-width="0.6" fill="none" opacity="0.9"/>
<path d="M1034.1,269.3 L1032.1,265.2 L1029.5,261.7 L1025.0,260.3 L1022.1,257.2 L1020.3,252.9 L1016.5,250.7" stroke="#8fd3f0" stroke-width="0.6" fill="none" opacity="0.9"/>
<path d="M1037.8,265.7 L1033.9,263.5 L1030.3,260.9 L1029.0,256.4 L1026.3,253.1 L1022.0,251.2 L1019.8,247.5" stroke="#8fd3f0" stroke-width="0.6" fill="none" opacity="0.9"/>
<path d="M1027.9,287.2 L1023.7,285.5 L1019.4,284.7 L1015.2,286.6 L1011.0,286.4 L1006.7,284.4 L1002.5,285.4" stroke="#8fd3f0" stroke-width="0.6" fill="none" opacity="0.9"/>
<path d="M1028.2,282.0 L1023.8,283.0 L1019.5,283.5 L1015.5,281.1 L1011.3,280.5 L1006.9,282.1 L1002.8,280.8" stroke="#8fd3f0" stroke-width="0.6" fill="none" opacity="0.9"/>
<path d="M1029.8,296.1 L1025.6,295.8 L1021.7,296.4 L1018.8,299.6 L1015.1,300.7 L1010.8,300.2 L1007.5,302.5" stroke="#8fd3f0" stroke-width="0.6" fill="none" opacity="0.9"/>
<path d="M1028.3,291.1 L1024.9,293.5 L1021.4,295.4 L1017.2,294.4 L1013.4,295.2 L1010.2,298.1 L1006.2,298.2" stroke="#8fd3f0" stroke-width="0.6" fill="none" opacity="0.9"/>
<path d="M1079.8,288.7 L1083.6,290.9 L1087.6,292.3 L1092.0,290.9 L1096.0,291.6 L1099.8,294.1 L1104.0,293.7" stroke="#8fd3f0" stroke-width="0.6" fill="none" opacity="0.9"/>
<path d="M1078.8,293.8 L1083.2,293.3 L1087.4,293.3 L1090.9,296.2 L1094.9,297.3 L1099.3,296.4 L1103.1,298.2" stroke="#8fd3f0" stroke-width="0.6" fill="none" opacity="0.9"/>
<path d="M1077.9,296.3 L1080.8,299.6 L1084.2,302.0 L1088.7,301.9 L1092.3,303.8 L1095.1,307.3 L1099.2,308.1" stroke="#8fd3f0" stroke-width="0.6" fill="none" opacity="0.9"/>
<path d="M1075.4,300.8 L1079.7,301.7 L1083.6,302.9 L1086.1,306.7 L1089.5,308.9 L1094.0,309.3 L1097.0,312.1" stroke="#8fd3f0" stroke-width="0.6" fill="none" opacity="0.9"/>
<path d="M1039.6,307.9 L1035.8,310.2 L1032.9,313.0 L1032.1,317.4 L1029.6,320.6 L1025.6,322.7 L1024.1,326.6" stroke="#8fd3f0" stroke-width="0.6" fill="none" opacity="0.9"/>
<path d="M1035.5,304.7 L1034.0,308.7 L1032.0,312.3 L1027.9,314.0 L1025.1,316.9 L1023.9,321.3 L1020.6,323.7" stroke="#8fd3f0" stroke-width="0.6" fill="none" opacity="0.9"/>
<path d="M1054.3,312.2 L1052.4,316.5 L1051.5,320.8 L1053.4,325.3 L1053.1,329.6 L1051.0,333.9 L1051.9,338.3" stroke="#8fd3f0" stroke-width="0.6" fill="none" opacity="0.9"/>
<path d="M1049.1,311.8 L1050.0,316.3 L1050.4,320.7 L1047.9,324.8 L1047.2,329.1 L1048.6,333.7 L1047.2,337.9" stroke="#8fd3f0" stroke-width="0.6" fill="none" opacity="0.9"/>
<path d="M1064.7,309.9 L1064.7,314.6 L1065.7,318.9 L1069.1,322.2 L1070.6,326.3 L1070.4,331.1 L1073.0,334.7" stroke="#8fd3f0" stroke-width="0.6" fill="none" opacity="0.9"/>
<path d="M1059.8,311.6 L1062.4,315.3 L1064.6,319.3 L1063.9,324.0 L1065.0,328.2 L1068.1,331.8 L1068.5,336.2" stroke="#8fd3f0" stroke-width="0.6" fill="none" opacity="0.9"/>
<path d="M1055.4,260.2 L1057.5,256.5 L1058.7,252.8 L1057.1,248.7 L1057.7,244.8 L1060.1,241.2 L1059.4,237.2" stroke="#c9b6a4" stroke-width="0.6" fill="none" opacity="0.9"/>
<path d="M1060.6,261.0 L1059.9,256.9 L1059.7,252.9 L1062.4,249.5 L1063.4,245.8 L1062.2,241.5 L1063.8,237.9" stroke="#c9b6a4" stroke-width="0.6" fill="none" opacity="0.9"/>
<path d="M1038.4,265.3 L1037.6,260.9 L1035.9,257.0 L1031.9,254.7 L1029.8,251.1 L1029.1,246.6 L1025.9,243.8" stroke="#c9b6a4" stroke-width="0.6" fill="none" opacity="0.9"/>
<path d="M1042.9,262.6 L1039.6,259.6 L1036.8,256.5 L1036.6,251.9 L1034.8,248.2 L1031.1,245.4 L1029.9,241.4" stroke="#c9b6a4" stroke-width="0.6" fill="none" opacity="0.9"/>
<path d="M1072.5,268.0 L1076.5,266.7 L1079.9,264.7 L1081.4,260.7 L1084.4,258.3 L1088.6,257.2 L1090.7,253.9" stroke="#c9b6a4" stroke-width="0.6" fill="none" opacity="0.9"/>
<path d="M1075.8,272.1 L1078.0,268.6 L1080.5,265.6 L1084.8,264.9 L1088.0,262.8 L1089.9,258.9 L1093.5,257.3" stroke="#c9b6a4" stroke-width="0.6" fill="none" opacity="0.9"/>
<path d="M1029.6,277.0 L1026.4,273.8 L1022.9,271.4 L1018.2,271.6 L1014.5,269.7 L1011.4,266.3 L1007.2,265.6" stroke="#c9b6a4" stroke-width="0.6" fill="none" opacity="0.9"/>
<path d="M1031.9,272.3 L1027.5,271.6 L1023.4,270.4 L1020.7,266.7 L1017.1,264.5 L1012.5,264.2 L1009.2,261.5" stroke="#c9b6a4" stroke-width="0.6" fill="none" opacity="0.9"/>
<path d="M1078.1,276.5 L1082.4,276.8 L1086.4,276.2 L1089.5,273.0 L1093.4,271.8 L1097.8,272.4 L1101.2,270.1" stroke="#c9b6a4" stroke-width="0.6" fill="none" opacity="0.9"/>
<path d="M1079.5,281.5 L1083.0,279.1 L1086.7,277.2 L1091.0,278.2 L1095.0,277.4 L1098.4,274.5 L1102.5,274.4" stroke="#c9b6a4" stroke-width="0.6" fill="none" opacity="0.9"/>
<path d="M1033.9,302.9 L1029.6,304.0 L1025.9,305.8 L1023.8,309.9 L1020.5,312.2 L1016.0,313.1 L1013.4,316.4" stroke="#c9b6a4" stroke-width="0.6" fill="none" opacity="0.9"/>
<path d="M1031.0,298.6 L1028.3,302.0 L1025.3,304.9 L1020.8,305.4 L1017.2,307.4 L1014.8,311.2 L1010.9,312.7" stroke="#c9b6a4" stroke-width="0.6" fill="none" opacity="0.9"/>
<path d="M1075.0,301.5 L1077.1,305.3 L1079.8,308.4 L1084.2,309.4 L1087.2,312.0 L1089.2,316.1 L1093.0,317.8" stroke="#c9b6a4" stroke-width="0.6" fill="none" opacity="0.9"/>
<path d="M1071.5,305.3 L1075.5,307.1 L1079.1,309.2 L1080.6,313.5 L1083.4,316.4 L1087.7,317.8 L1090.0,321.2" stroke="#c9b6a4" stroke-width="0.6" fill="none" opacity="0.9"/>
<path d="M1070.3,306.4 L1071.4,310.7 L1073.2,314.4 L1077.3,316.5 L1079.6,319.9 L1080.4,324.3 L1083.7,327.0" stroke="#c9b6a4" stroke-width="0.6" fill="none" opacity="0.9"/>
<path d="M1066.0,309.2 L1069.4,312.0 L1072.3,315.0 L1072.7,319.5 L1074.7,323.1 L1078.5,325.6 L1079.9,329.5" stroke="#c9b6a4" stroke-width="0.6" fill="none" opacity="0.9"/>
<path d="M1047.6,311.5 L1044.8,314.9 L1042.9,318.5 L1043.7,323.0 L1042.3,326.8 L1039.3,330.1 L1039.1,334.3" stroke="#c9b6a4" stroke-width="0.6" fill="none" opacity="0.9"/>
<path d="M1042.7,309.7 L1042.5,314.0 L1041.9,318.2 L1038.5,321.2 L1036.9,324.9 L1037.2,329.4 L1034.9,332.8" stroke="#c9b6a4" stroke-width="0.6" fill="none" opacity="0.9"/>
<path d="M1079.7,289.6 L1082.8,291.2 L1086.3,290.1 L1089.7,289.8 L1092.8,291.9 L1096.1,292.7 L1099.6,291.3" stroke="#d0d0d0" stroke-width="0.5" fill="none" opacity="0.6"/>
<path d="M1074.5,302.0 L1076.5,305.0 L1080.0,305.8 L1083.2,307.2 L1084.8,310.6 L1087.2,312.9 L1090.9,313.5" stroke="#d0d0d0" stroke-width="0.5" fill="none" opacity="0.6"/>
<path d="M1063.9,310.2 L1064.1,313.7 L1066.7,316.3 L1068.7,319.0 L1068.4,322.8 L1069.4,326.0 L1072.3,328.4" stroke="#d0d0d0" stroke-width="0.5" fill="none" opacity="0.6"/>
<path d="M1050.5,312.0 L1048.9,315.1 L1050.0,318.6 L1050.3,322.0 L1048.2,325.1 L1047.4,328.4 L1048.8,331.9" stroke="#d0d0d0" stroke-width="0.5" fill="none" opacity="0.6"/>
<path d="M1038.1,306.8 L1035.1,308.8 L1034.3,312.3 L1032.9,315.5 L1029.5,317.1 L1027.2,319.5 L1026.6,323.2" stroke="#d0d0d0" stroke-width="0.5" fill="none" opacity="0.6"/>
<path d="M1029.9,296.2 L1026.4,296.4 L1023.8,299.0 L1021.1,301.0 L1017.3,300.7 L1014.1,301.7 L1011.7,304.6" stroke="#d0d0d0" stroke-width="0.5" fill="none" opacity="0.6"/>
<path d="M1028.1,282.8 L1025.0,281.2 L1021.5,282.3 L1018.1,282.6 L1015.0,280.5 L1011.7,279.7 L1008.2,281.1" stroke="#d0d0d0" stroke-width="0.5" fill="none" opacity="0.6"/>
<path d="M1033.3,270.4 L1031.3,267.4 L1027.8,266.6 L1024.6,265.2 L1023.0,261.8 L1020.6,259.5 L1016.9,258.9" stroke="#d0d0d0" stroke-width="0.5" fill="none" opacity="0.6"/>
<path d="M1043.9,262.2 L1043.7,258.7 L1041.1,256.1 L1039.1,253.4 L1039.4,249.6 L1038.4,246.4 L1035.5,244.0" stroke="#d0d0d0" stroke-width="0.5" fill="none" opacity="0.6"/>
<path d="M1057.3,260.4 L1058.9,257.3 L1057.8,253.8 L1057.5,250.4 L1059.6,247.3 L1060.4,244.0 L1059.0,240.5" stroke="#d0d0d0" stroke-width="0.5" fill="none" opacity="0.6"/>
<path d="M1069.7,265.6 L1072.7,263.6 L1073.5,260.1 L1074.9,256.9 L1078.3,255.3 L1080.6,252.9 L1081.2,249.2" stroke="#d0d0d0" stroke-width="0.5" fill="none" opacity="0.6"/>
<path d="M1077.9,276.2 L1081.4,276.0 L1084.0,273.4 L1086.7,271.4 L1090.5,271.7 L1093.7,270.7 L1096.1,267.8" stroke="#d0d0d0" stroke-width="0.5" fill="none" opacity="0.6"/>
<path d="M1045.4,227.3 L1047.2,225.7 L1045.1,224.7 L1046.9,223.1 L1044.8,222.1" stroke="#333" stroke-width="0.8" fill="none"/>
<path d="M1083.2,231.2 L1085.6,231.0 L1084.4,228.9 L1086.8,228.8 L1085.7,226.7" stroke="#333" stroke-width="0.8" fill="none"/>
<path d="M1010.2,242.1 L1010.7,239.8 L1008.4,240.3 L1008.9,237.9 L1006.6,238.4" stroke="#333" stroke-width="0.8" fill="none"/>
<path d="M992.0,283.4 L990.9,281.3 L989.5,283.2 L988.3,281.1 L986.9,283.0" stroke="#333" stroke-width="0.8" fill="none"/>
<path d="M997.0,304.2 L995.2,302.7 L994.5,305.0 L992.7,303.4 L992.0,305.7" stroke="#333" stroke-width="0.8" fill="none"/>
<path d="M1114.1,297.1 L1115.0,299.3 L1116.6,297.6 L1117.5,299.8 L1119.2,298.1" stroke="#333" stroke-width="0.8" fill="none"/>
<path d="M1107.8,314.3 L1108.0,316.7 L1110.1,315.6 L1110.3,318.0 L1112.4,316.8" stroke="#333" stroke-width="0.8" fill="none"/>
<path d="M1016.4,333.9 L1014.0,333.6 L1014.8,335.9 L1012.4,335.7 L1013.1,337.9" stroke="#333" stroke-width="0.8" fill="none"/>
<path d="M1049.5,348.7 L1047.4,349.8 L1049.3,351.3 L1047.2,352.4 L1049.1,353.8" stroke="#333" stroke-width="0.8" fill="none"/>
<path d="M1075.0,345.2 L1073.5,347.1 L1075.9,347.6 L1074.4,349.5 L1076.7,350.1" stroke="#333" stroke-width="0.8" fill="none"/>
<circle cx="1047.10" cy="232.60" r="5.90" fill="url(#gBl)"/>
<circle cx="1081.40" cy="236.50" r="5.90" fill="url(#gBl)"/>
<circle cx="1014.70" cy="245.40" r="5.90" fill="url(#gBl)"/>
<circle cx="997.60" cy="282.70" r="5.90" fill="url(#gBl)"/>
<circle cx="1002.00" cy="301.70" r="5.90" fill="url(#gBl)"/>
<circle cx="1108.50" cy="297.00" r="5.90" fill="url(#gBl)"/>
<circle cx="1102.50" cy="312.60" r="5.90" fill="url(#gBl)"/>
<circle cx="1019.10" cy="329.00" r="5.90" fill="url(#gBl)"/>
<circle cx="1049.00" cy="343.10" r="5.90" fill="url(#gBl)"/>
<circle cx="1072.30" cy="340.30" r="5.90" fill="url(#gBl)"/>
<circle cx="1062.50" cy="232.60" r="5.50" fill="url(#gBr)"/>
<circle cx="1025.40" cy="238.20" r="5.50" fill="url(#gBr)"/>
<circle cx="1096.10" cy="252.50" r="5.50" fill="url(#gBr)"/>
<circle cx="1003.70" cy="261.20" r="5.50" fill="url(#gBr)"/>
<circle cx="1106.70" cy="270.90" r="5.50" fill="url(#gBr)"/>
<circle cx="1007.90" cy="317.30" r="5.50" fill="url(#gBr)"/>
<circle cx="1095.20" cy="322.90" r="5.50" fill="url(#gBr)"/>
<circle cx="1084.50" cy="332.50" r="5.50" fill="url(#gBr)"/>
<circle cx="1035.20" cy="338.30" r="5.50" fill="url(#gBr)"/>
<ellipse cx="1039.00" cy="268.40" rx="5.30" ry="2.10" fill="url(#gCh)" transform="rotate(55 1039.00 268.40)"/>
<ellipse cx="1028.00" cy="281.50" rx="5.30" ry="2.10" fill="url(#gCh)" transform="rotate(20 1028.00 281.50)"/>
<ellipse cx="1077.90" cy="255.20" rx="5.30" ry="2.10" fill="url(#gCh)" transform="rotate(-45 1077.90 255.20)"/>
<ellipse cx="1080.30" cy="283.40" rx="5.30" ry="2.10" fill="url(#gCh)" transform="rotate(15 1080.30 283.40)"/>
<ellipse cx="1073.30" cy="298.30" rx="5.30" ry="2.10" fill="url(#gCh)" transform="rotate(20 1073.30 298.30)"/>
<ellipse cx="1060.50" cy="312.10" rx="5.30" ry="2.10" fill="url(#gCh)" transform="rotate(75 1060.50 312.10)"/>
<circle cx="1047.40" cy="265.40" r="4.60" fill="url(#gNv)"/>
<circle cx="1062.70" cy="266.80" r="4.60" fill="url(#gNv)"/>
<circle cx="1035.40" cy="275.50" r="4.60" fill="url(#gNv)"/>
<circle cx="1071.90" cy="276.50" r="4.60" fill="url(#gNv)"/>
<circle cx="1032.40" cy="289.50" r="4.60" fill="url(#gNv)"/>
<circle cx="1074.80" cy="289.30" r="4.60" fill="url(#gNv)"/>
<circle cx="1039.00" cy="301.70" r="4.60" fill="url(#gNv)"/>
<circle cx="1065.50" cy="303.70" r="4.60" fill="url(#gNv)"/>
<circle cx="1051.30" cy="307.50" r="4.60" fill="url(#gNv)"/>
<circle cx="1053.90" cy="286.20" r="16.50" fill="url(#gOr)"/>
<circle cx="1057.70" cy="276.60" r="4.70" fill="#8dc63f"/>
<circle cx="1045.50" cy="285.20" r="4.70" fill="#8dc63f"/>
<circle cx="1062.50" cy="286.40" r="4.70" fill="#8dc63f"/>
<circle cx="1053.60" cy="293.30" r="4.70" fill="#8dc63f"/>
<text x="1028.45" y="388.20" font-size="31.3" fill="#000" textLength="69.40" lengthAdjust="spacingAndGlyphs">CaPP</text>
<path d="M1015.8,464.5 C1030,450 1042,443 1052,443 C1065,443 1075,450 1088,450.5 C1097,451 1103,446 1107.8,441.5" stroke="#b39ddb" stroke-width="0.9" fill="none"/>
<line x1="1017.00" y1="443.30" x2="1024.80" y2="443.30" stroke="#000" stroke-width="2.4" stroke-linecap="butt"/>
<line x1="1029.50" y1="455.20" x2="1037.00" y2="455.20" stroke="#000" stroke-width="2.4" stroke-linecap="butt"/>
<line x1="1044.50" y1="437.10" x2="1052.00" y2="437.10" stroke="#000" stroke-width="2.4" stroke-linecap="butt"/>
<line x1="1060.00" y1="447.30" x2="1067.70" y2="447.30" stroke="#000" stroke-width="2.4" stroke-linecap="butt"/>
<line x1="1077.00" y1="440.20" x2="1084.70" y2="440.20" stroke="#000" stroke-width="2.4" stroke-linecap="butt"/>
<line x1="1096.00" y1="451.80" x2="1103.80" y2="451.80" stroke="#000" stroke-width="2.4" stroke-linecap="butt"/>
<text x="1012.87" y="500.20" font-size="31.3" fill="#000" textLength="97.63" lengthAdjust="spacingAndGlyphs">LMWH</text>
<path d="M1135.4,285.2 L1190,285.2 L1190,453 L1135.4,453" stroke="#000" stroke-width="4.2" fill="none"/>
<line x1="1190.00" y1="369.00" x2="1325.50" y2="369.00" stroke="#000" stroke-width="4.2" stroke-linecap="butt"/>
<polygon points="1338.50,369.00 1322.50,363.50 1326.50,369.00 1322.50,374.50" fill="#000"/>
<text x="1193.49" y="360.50" font-size="31.3" fill="#000" textLength="152.35" lengthAdjust="spacingAndGlyphs">Electrostatic</text>
<text x="1207.92" y="397.20" font-size="31.3" fill="#000" textLength="130.19" lengthAdjust="spacingAndGlyphs">adsorption</text>
<path d="M1493.8,351.3 L1496.3,356.8 L1496.8,362.5 L1494.8,367.8 L1491.0,372.4 L1486.2,376.3 L1481.7,379.9 L1477.9,383.5 L1474.6,387.4 L1471.4,391.4 L1467.8,395.0 L1463.5,398.1 L1458.9,400.6 L1454.2,403.1 L1449.5,406.0 L1444.8,409.4 L1439.7,412.7 L1433.9,414.9 L1427.9,415.2 L1422.0,413.4 L1416.6,410.0 L1411.9,406.1 L1407.5,402.7 L1403.0,400.5 L1397.9,399.1 L1392.5,397.8 L1387.2,396.0 L1382.4,393.1 L1378.4,389.5 L1374.8,385.5 L1371.2,381.4 L1367.6,377.2 L1364.2,372.6 L1361.9,367.6 L1361.5,362.1 L1363.0,356.5 L1365.8,351.3 L1368.8,346.5 L1370.7,342.0 L1371.2,337.3 L1370.7,332.1 L1370.2,326.6 L1370.8,321.0 L1373.0,315.9 L1376.6,311.7 L1380.9,308.1 L1385.5,304.8 L1390.1,301.6 L1394.9,298.7 L1400.1,296.4 L1405.8,295.3 L1411.7,295.6 L1417.4,296.7 L1422.8,297.6 L1427.9,297.5 L1433.1,296.1 L1438.9,294.0 L1445.1,292.3 L1451.3,292.1 L1457.1,293.8 L1461.9,297.1 L1465.9,301.4 L1469.5,305.7 L1473.0,309.9 L1476.5,313.8 L1479.7,318.0 L1482.1,322.5 L1483.6,327.4 L1484.5,332.4 L1485.6,337.1 L1487.5,341.6 L1490.5,346.3 L1493.8,351.3Z" stroke="#cfc4e6" stroke-width="0.8" fill="none" stroke-dasharray="40 14 25 10"/>
<path d="M1422.8,329.2 L1423.7,325.7 L1423.7,322.3 L1421.4,319.3 L1421.0,316.0 L1422.1,312.4 L1420.6,309.3" stroke="#8fd3f0" stroke-width="0.6" fill="none" opacity="0.9"/>
<path d="M1427.3,328.7 L1425.7,325.4 L1424.6,322.2 L1426.1,318.7 L1425.9,315.4 L1423.9,312.2 L1424.4,308.8" stroke="#8fd3f0" stroke-width="0.6" fill="none" opacity="0.9"/>
<path d="M1436.8,330.5 L1439.8,327.8 L1442.0,324.7 L1442.1,320.6 L1443.9,317.3 L1447.0,314.7 L1447.8,310.9" stroke="#8fd3f0" stroke-width="0.6" fill="none" opacity="0.9"/>
<path d="M1440.8,332.7 L1441.6,328.8 L1442.9,325.2 L1446.3,322.9 L1448.4,319.8 L1448.8,315.7 L1451.4,312.8" stroke="#8fd3f0" stroke-width="0.6" fill="none" opacity="0.9"/>
<path d="M1410.7,336.6 L1409.0,333.0 L1406.7,330.0 L1402.8,328.7 L1400.2,326.1 L1398.7,322.3 L1395.3,320.4" stroke="#8fd3f0" stroke-width="0.6" fill="none" opacity="0.9"/>
<path d="M1413.9,333.5 L1410.5,331.5 L1407.4,329.3 L1406.3,325.4 L1403.9,322.5 L1400.1,320.9 L1398.2,317.6" stroke="#8fd3f0" stroke-width="0.6" fill="none" opacity="0.9"/>
<path d="M1405.3,352.2 L1401.6,350.6 L1397.9,350.0 L1394.2,351.7 L1390.5,351.5 L1386.9,349.7 L1383.2,350.6" stroke="#8fd3f0" stroke-width="0.6" fill="none" opacity="0.9"/>
<path d="M1405.5,347.6 L1401.7,348.5 L1398.0,349.0 L1394.5,346.9 L1390.9,346.4 L1387.0,347.7 L1383.4,346.6" stroke="#8fd3f0" stroke-width="0.6" fill="none" opacity="0.9"/>
<path d="M1407.0,359.9 L1403.3,359.7 L1399.9,360.2 L1397.3,362.9 L1394.1,363.9 L1390.4,363.5 L1387.5,365.4" stroke="#8fd3f0" stroke-width="0.6" fill="none" opacity="0.9"/>
<path d="M1405.7,355.6 L1402.7,357.7 L1399.7,359.3 L1396.0,358.4 L1392.7,359.1 L1389.9,361.6 L1386.4,361.8" stroke="#8fd3f0" stroke-width="0.6" fill="none" opacity="0.9"/>
<path d="M1450.4,353.5 L1453.8,355.4 L1457.2,356.6 L1461.0,355.4 L1464.5,356.0 L1467.8,358.2 L1471.5,357.8" stroke="#8fd3f0" stroke-width="0.6" fill="none" opacity="0.9"/>
<path d="M1449.6,357.9 L1453.4,357.5 L1457.0,357.5 L1460.1,360.0 L1463.5,361.0 L1467.4,360.2 L1470.7,361.7" stroke="#8fd3f0" stroke-width="0.6" fill="none" opacity="0.9"/>
<path d="M1448.8,360.1 L1451.3,362.9 L1454.2,365.0 L1458.2,365.0 L1461.3,366.6 L1463.7,369.7 L1467.3,370.4" stroke="#8fd3f0" stroke-width="0.6" fill="none" opacity="0.9"/>
<path d="M1446.6,364.0 L1450.3,364.8 L1453.8,365.9 L1455.9,369.1 L1458.9,371.1 L1462.8,371.4 L1465.4,373.8" stroke="#8fd3f0" stroke-width="0.6" fill="none" opacity="0.9"/>
<path d="M1415.4,370.2 L1412.2,372.2 L1409.6,374.6 L1408.9,378.5 L1406.7,381.2 L1403.3,383.0 L1402.0,386.4" stroke="#8fd3f0" stroke-width="0.6" fill="none" opacity="0.9"/>
<path d="M1411.9,367.4 L1410.6,370.8 L1408.9,374.0 L1405.3,375.5 L1402.8,378.0 L1401.8,381.8 L1398.9,383.9" stroke="#8fd3f0" stroke-width="0.6" fill="none" opacity="0.9"/>
<path d="M1428.2,373.9 L1426.6,377.7 L1425.8,381.4 L1427.5,385.3 L1427.2,389.1 L1425.3,392.8 L1426.1,396.6" stroke="#8fd3f0" stroke-width="0.6" fill="none" opacity="0.9"/>
<path d="M1423.7,373.6 L1424.5,377.5 L1424.8,381.4 L1422.6,384.9 L1422.0,388.6 L1423.3,392.6 L1422.1,396.3" stroke="#8fd3f0" stroke-width="0.6" fill="none" opacity="0.9"/>
<path d="M1437.3,371.9 L1437.3,376.0 L1438.1,379.7 L1441.2,382.6 L1442.4,386.2 L1442.3,390.3 L1444.5,393.5" stroke="#8fd3f0" stroke-width="0.6" fill="none" opacity="0.9"/>
<path d="M1433.0,373.4 L1435.3,376.6 L1437.2,380.1 L1436.6,384.2 L1437.5,387.8 L1440.3,391.0 L1440.6,394.8" stroke="#8fd3f0" stroke-width="0.6" fill="none" opacity="0.9"/>
<path d="M1429.2,328.7 L1431.1,325.5 L1432.1,322.2 L1430.7,318.7 L1431.2,315.3 L1433.3,312.1 L1432.7,308.7" stroke="#c9b6a4" stroke-width="0.6" fill="none" opacity="0.9"/>
<path d="M1433.7,329.4 L1433.1,325.8 L1433.0,322.3 L1435.3,319.4 L1436.1,316.1 L1435.1,312.5 L1436.5,309.3" stroke="#c9b6a4" stroke-width="0.6" fill="none" opacity="0.9"/>
<path d="M1414.5,333.1 L1413.7,329.3 L1412.2,325.9 L1408.8,323.9 L1406.9,320.8 L1406.3,316.9 L1403.6,314.4" stroke="#c9b6a4" stroke-width="0.6" fill="none" opacity="0.9"/>
<path d="M1418.3,330.8 L1415.5,328.2 L1413.1,325.4 L1412.9,321.4 L1411.3,318.2 L1408.1,315.8 L1407.0,312.3" stroke="#c9b6a4" stroke-width="0.6" fill="none" opacity="0.9"/>
<path d="M1444.1,335.5 L1447.6,334.4 L1450.5,332.6 L1451.8,329.1 L1454.4,327.0 L1458.0,326.1 L1459.9,323.2" stroke="#c9b6a4" stroke-width="0.6" fill="none" opacity="0.9"/>
<path d="M1446.9,339.0 L1448.9,336.0 L1451.1,333.3 L1454.8,332.8 L1457.5,330.9 L1459.2,327.5 L1462.3,326.2" stroke="#c9b6a4" stroke-width="0.6" fill="none" opacity="0.9"/>
<path d="M1406.7,343.3 L1404.0,340.5 L1400.9,338.4 L1396.9,338.6 L1393.6,337.0 L1390.9,334.0 L1387.2,333.4" stroke="#c9b6a4" stroke-width="0.6" fill="none" opacity="0.9"/>
<path d="M1408.7,339.2 L1404.9,338.6 L1401.3,337.6 L1399.0,334.3 L1395.9,332.4 L1391.8,332.2 L1389.0,329.8" stroke="#c9b6a4" stroke-width="0.6" fill="none" opacity="0.9"/>
<path d="M1448.9,342.9 L1452.7,343.1 L1456.2,342.6 L1458.9,339.8 L1462.2,338.8 L1466.1,339.3 L1469.0,337.3" stroke="#c9b6a4" stroke-width="0.6" fill="none" opacity="0.9"/>
<path d="M1450.2,347.2 L1453.3,345.1 L1456.4,343.5 L1460.2,344.3 L1463.6,343.6 L1466.6,341.1 L1470.1,341.0" stroke="#c9b6a4" stroke-width="0.6" fill="none" opacity="0.9"/>
<path d="M1410.5,365.8 L1406.8,366.8 L1403.5,368.4 L1401.8,371.9 L1398.8,373.9 L1395.0,374.7 L1392.7,377.6" stroke="#c9b6a4" stroke-width="0.6" fill="none" opacity="0.9"/>
<path d="M1408.0,362.1 L1405.6,365.0 L1403.0,367.6 L1399.1,368.0 L1396.0,369.7 L1393.9,373.1 L1390.5,374.3" stroke="#c9b6a4" stroke-width="0.6" fill="none" opacity="0.9"/>
<path d="M1446.2,364.6 L1448.1,367.9 L1450.4,370.6 L1454.3,371.5 L1456.9,373.8 L1458.6,377.3 L1461.9,378.8" stroke="#c9b6a4" stroke-width="0.6" fill="none" opacity="0.9"/>
<path d="M1443.2,368.0 L1446.7,369.5 L1449.8,371.3 L1451.1,375.0 L1453.5,377.5 L1457.3,378.8 L1459.3,381.7" stroke="#c9b6a4" stroke-width="0.6" fill="none" opacity="0.9"/>
<path d="M1442.2,368.9 L1443.1,372.6 L1444.7,375.8 L1448.2,377.6 L1450.2,380.6 L1451.0,384.5 L1453.8,386.8" stroke="#c9b6a4" stroke-width="0.6" fill="none" opacity="0.9"/>
<path d="M1438.4,371.3 L1441.4,373.7 L1443.9,376.4 L1444.3,380.3 L1446.0,383.4 L1449.3,385.6 L1450.5,389.0" stroke="#c9b6a4" stroke-width="0.6" fill="none" opacity="0.9"/>
<path d="M1422.4,373.3 L1420.0,376.2 L1418.3,379.4 L1419.0,383.3 L1417.8,386.6 L1415.2,389.5 L1415.0,393.2" stroke="#c9b6a4" stroke-width="0.6" fill="none" opacity="0.9"/>
<path d="M1418.2,371.7 L1418.0,375.5 L1417.5,379.1 L1414.5,381.7 L1413.1,384.9 L1413.3,388.9 L1411.3,391.9" stroke="#c9b6a4" stroke-width="0.6" fill="none" opacity="0.9"/>
<path d="M1450.3,354.2 L1453.1,355.8 L1456.1,354.7 L1459.1,354.3 L1461.8,356.3 L1464.6,357.1 L1467.7,355.7" stroke="#d0d0d0" stroke-width="0.5" fill="none" opacity="0.6"/>
<path d="M1445.9,365.1 L1447.4,367.8 L1450.6,368.3 L1453.4,369.5 L1454.7,372.6 L1456.8,374.6 L1460.2,375.0" stroke="#d0d0d0" stroke-width="0.5" fill="none" opacity="0.6"/>
<path d="M1436.6,372.2 L1436.6,375.3 L1439.1,377.4 L1440.9,379.8 L1440.5,383.1 L1441.3,385.9 L1444.0,387.9" stroke="#d0d0d0" stroke-width="0.5" fill="none" opacity="0.6"/>
<path d="M1425.0,373.7 L1423.4,376.5 L1424.5,379.5 L1424.9,382.5 L1422.9,385.2 L1422.1,388.0 L1423.5,391.1" stroke="#d0d0d0" stroke-width="0.5" fill="none" opacity="0.6"/>
<path d="M1414.1,369.3 L1411.4,370.8 L1410.9,374.0 L1409.7,376.8 L1406.6,378.1 L1404.6,380.2 L1404.2,383.6" stroke="#d0d0d0" stroke-width="0.5" fill="none" opacity="0.6"/>
<path d="M1407.0,360.0 L1403.9,360.0 L1401.8,362.5 L1399.4,364.3 L1396.1,363.9 L1393.3,364.7 L1391.3,367.4" stroke="#d0d0d0" stroke-width="0.5" fill="none" opacity="0.6"/>
<path d="M1405.5,348.4 L1402.7,346.8 L1399.7,347.9 L1396.7,348.3 L1394.0,346.3 L1391.2,345.5 L1388.1,346.9" stroke="#d0d0d0" stroke-width="0.5" fill="none" opacity="0.6"/>
<path d="M1409.9,337.5 L1408.4,334.8 L1405.2,334.3 L1402.4,333.1 L1401.1,330.0 L1399.0,328.0 L1395.6,327.6" stroke="#d0d0d0" stroke-width="0.5" fill="none" opacity="0.6"/>
<path d="M1419.2,330.4 L1419.2,327.3 L1416.7,325.2 L1414.9,322.8 L1415.3,319.5 L1414.5,316.7 L1411.8,314.7" stroke="#d0d0d0" stroke-width="0.5" fill="none" opacity="0.6"/>
<path d="M1430.8,328.9 L1432.4,326.1 L1431.3,323.1 L1430.9,320.1 L1432.9,317.4 L1433.7,314.6 L1432.3,311.5" stroke="#d0d0d0" stroke-width="0.5" fill="none" opacity="0.6"/>
<path d="M1441.7,333.3 L1444.4,331.8 L1444.9,328.6 L1446.1,325.8 L1449.2,324.5 L1451.2,322.4 L1451.6,319.0" stroke="#d0d0d0" stroke-width="0.5" fill="none" opacity="0.6"/>
<path d="M1448.8,342.6 L1451.9,342.6 L1454.0,340.1 L1456.4,338.3 L1459.7,338.7 L1462.5,337.9 L1464.5,335.2" stroke="#d0d0d0" stroke-width="0.5" fill="none" opacity="0.6"/>
<path d="M1420.5,300.0 L1422.1,298.7 L1420.2,297.8 L1421.8,296.4 L1419.9,295.5" stroke="#333" stroke-width="0.8" fill="none"/>
<path d="M1453.4,303.5 L1455.5,303.3 L1454.5,301.5 L1456.5,301.3 L1455.6,299.5" stroke="#333" stroke-width="0.8" fill="none"/>
<path d="M1389.9,313.0 L1390.3,310.9 L1388.3,311.3 L1388.8,309.3 L1386.7,309.7" stroke="#333" stroke-width="0.8" fill="none"/>
<path d="M1374.1,348.8 L1373.1,347.0 L1371.8,348.7 L1370.8,346.9 L1369.6,348.5" stroke="#333" stroke-width="0.8" fill="none"/>
<path d="M1378.4,367.0 L1376.8,365.6 L1376.2,367.6 L1374.7,366.3 L1374.1,368.3" stroke="#333" stroke-width="0.8" fill="none"/>
<path d="M1480.3,360.8 L1481.0,362.7 L1482.5,361.2 L1483.3,363.1 L1484.7,361.6" stroke="#333" stroke-width="0.8" fill="none"/>
<path d="M1474.8,375.8 L1475.0,377.9 L1476.8,376.9 L1477.0,378.9 L1478.8,377.9" stroke="#333" stroke-width="0.8" fill="none"/>
<path d="M1395.3,392.8 L1393.2,392.6 L1393.9,394.6 L1391.8,394.3 L1392.4,396.3" stroke="#333" stroke-width="0.8" fill="none"/>
<path d="M1424.1,405.6 L1422.3,406.6 L1423.9,407.9 L1422.1,408.9 L1423.7,410.2" stroke="#333" stroke-width="0.8" fill="none"/>
<path d="M1446.3,402.6 L1445.0,404.2 L1447.0,404.8 L1445.7,406.4 L1447.7,406.9" stroke="#333" stroke-width="0.8" fill="none"/>
<circle cx="1421.98" cy="304.67" r="5.13" fill="url(#gBl)"/>
<circle cx="1451.83" cy="308.06" r="5.13" fill="url(#gBl)"/>
<circle cx="1393.80" cy="315.80" r="5.13" fill="url(#gBl)"/>
<circle cx="1378.92" cy="348.25" r="5.13" fill="url(#gBl)"/>
<circle cx="1382.75" cy="364.79" r="5.13" fill="url(#gBl)"/>
<circle cx="1475.40" cy="360.70" r="5.13" fill="url(#gBl)"/>
<circle cx="1470.18" cy="374.27" r="5.13" fill="url(#gBl)"/>
<circle cx="1397.62" cy="388.54" r="5.13" fill="url(#gBl)"/>
<circle cx="1423.64" cy="400.80" r="5.13" fill="url(#gBl)"/>
<circle cx="1443.91" cy="398.37" r="5.13" fill="url(#gBl)"/>
<circle cx="1435.38" cy="304.67" r="4.79" fill="url(#gBr)"/>
<circle cx="1403.11" cy="309.54" r="4.79" fill="url(#gBr)"/>
<circle cx="1464.61" cy="321.98" r="4.79" fill="url(#gBr)"/>
<circle cx="1384.23" cy="329.55" r="4.79" fill="url(#gBr)"/>
<circle cx="1473.84" cy="337.99" r="4.79" fill="url(#gBr)"/>
<circle cx="1387.88" cy="378.36" r="4.79" fill="url(#gBr)"/>
<circle cx="1463.83" cy="383.23" r="4.79" fill="url(#gBr)"/>
<circle cx="1454.52" cy="391.58" r="4.79" fill="url(#gBr)"/>
<circle cx="1411.63" cy="396.63" r="4.79" fill="url(#gBr)"/>
<ellipse cx="1414.94" cy="335.81" rx="4.61" ry="1.83" fill="url(#gCh)" transform="rotate(55 1414.94 335.81)"/>
<ellipse cx="1405.37" cy="347.21" rx="4.61" ry="1.83" fill="url(#gCh)" transform="rotate(20 1405.37 347.21)"/>
<ellipse cx="1448.78" cy="324.33" rx="4.61" ry="1.83" fill="url(#gCh)" transform="rotate(-45 1448.78 324.33)"/>
<ellipse cx="1450.87" cy="348.86" rx="4.61" ry="1.83" fill="url(#gCh)" transform="rotate(15 1450.87 348.86)"/>
<ellipse cx="1444.78" cy="361.83" rx="4.61" ry="1.83" fill="url(#gCh)" transform="rotate(20 1444.78 361.83)"/>
<ellipse cx="1433.64" cy="373.83" rx="4.61" ry="1.83" fill="url(#gCh)" transform="rotate(75 1433.64 373.83)"/>
<circle cx="1422.25" cy="333.20" r="4.00" fill="url(#gNv)"/>
<circle cx="1435.56" cy="334.42" r="4.00" fill="url(#gNv)"/>
<circle cx="1411.81" cy="341.99" r="4.00" fill="url(#gNv)"/>
<circle cx="1443.56" cy="342.86" r="4.00" fill="url(#gNv)"/>
<circle cx="1409.20" cy="354.17" r="4.00" fill="url(#gNv)"/>
<circle cx="1446.08" cy="354.00" r="4.00" fill="url(#gNv)"/>
<circle cx="1414.94" cy="364.79" r="4.00" fill="url(#gNv)"/>
<circle cx="1437.99" cy="366.53" r="4.00" fill="url(#gNv)"/>
<circle cx="1425.64" cy="369.83" r="4.00" fill="url(#gNv)"/>
<circle cx="1427.90" cy="351.30" r="14.36" fill="url(#gOr)"/>
<circle cx="1431.21" cy="342.95" r="4.09" fill="#8dc63f"/>
<circle cx="1420.59" cy="350.43" r="4.09" fill="#8dc63f"/>
<circle cx="1435.38" cy="351.47" r="4.09" fill="#8dc63f"/>
<circle cx="1427.64" cy="357.48" r="4.09" fill="#8dc63f"/>
<text x="1365.08" y="448.00" font-size="31.0" fill="#000" textLength="119.20" lengthAdjust="spacingAndGlyphs">H@CaPP</text>
<text x="-0.46" y="594.60" font-size="45" font-weight="bold" fill="#000" textLength="25.33" lengthAdjust="spacingAndGlyphs">b</text>
<line x1="102.40" y1="703.30" x2="102.40" y2="907.30" stroke="#000" stroke-width="2.5" stroke-linecap="butt"/>
<line x1="101.20" y1="906.10" x2="802.50" y2="906.10" stroke="#000" stroke-width="2.5" stroke-linecap="butt"/>
<line x1="99.60" y1="703.30" x2="106.10" y2="703.30" stroke="#000" stroke-width="1.3" stroke-linecap="butt"/>
<line x1="99.60" y1="737.10" x2="106.10" y2="737.10" stroke="#000" stroke-width="1.3" stroke-linecap="butt"/>
<line x1="99.60" y1="770.90" x2="106.10" y2="770.90" stroke="#000" stroke-width="1.3" stroke-linecap="butt"/>
<line x1="99.60" y1="804.70" x2="106.10" y2="804.70" stroke="#000" stroke-width="1.3" stroke-linecap="butt"/>
<line x1="99.60" y1="838.50" x2="106.10" y2="838.50" stroke="#000" stroke-width="1.3" stroke-linecap="butt"/>
<line x1="99.60" y1="872.30" x2="106.10" y2="872.30" stroke="#000" stroke-width="1.3" stroke-linecap="butt"/>
<line x1="99.60" y1="906.10" x2="106.10" y2="906.10" stroke="#000" stroke-width="1.3" stroke-linecap="butt"/>
<line x1="103.00" y1="906.00" x2="103.00" y2="910.00" stroke="#000" stroke-width="1.3" stroke-linecap="butt"/>
<line x1="145.14" y1="906.00" x2="145.14" y2="908.80" stroke="#000" stroke-width="1.0" stroke-linecap="butt"/>
<line x1="169.80" y1="906.00" x2="169.80" y2="908.80" stroke="#000" stroke-width="1.0" stroke-linecap="butt"/>
<line x1="187.29" y1="906.00" x2="187.29" y2="908.80" stroke="#000" stroke-width="1.0" stroke-linecap="butt"/>
<line x1="200.86" y1="906.00" x2="200.86" y2="908.80" stroke="#000" stroke-width="1.0" stroke-linecap="butt"/>
<line x1="211.94" y1="906.00" x2="211.94" y2="908.80" stroke="#000" stroke-width="1.0" stroke-linecap="butt"/>
<line x1="221.31" y1="906.00" x2="221.31" y2="908.80" stroke="#000" stroke-width="1.0" stroke-linecap="butt"/>
<line x1="229.43" y1="906.00" x2="229.43" y2="908.80" stroke="#000" stroke-width="1.0" stroke-linecap="butt"/>
<line x1="236.59" y1="906.00" x2="236.59" y2="908.80" stroke="#000" stroke-width="1.0" stroke-linecap="butt"/>
<line x1="243.00" y1="906.00" x2="243.00" y2="910.00" stroke="#000" stroke-width="1.3" stroke-linecap="butt"/>
<line x1="285.14" y1="906.00" x2="285.14" y2="908.80" stroke="#000" stroke-width="1.0" stroke-linecap="butt"/>
<line x1="309.80" y1="906.00" x2="309.80" y2="908.80" stroke="#000" stroke-width="1.0" stroke-linecap="butt"/>
<line x1="327.29" y1="906.00" x2="327.29" y2="908.80" stroke="#000" stroke-width="1.0" stroke-linecap="butt"/>
<line x1="340.86" y1="906.00" x2="340.86" y2="908.80" stroke="#000" stroke-width="1.0" stroke-linecap="butt"/>
<line x1="351.94" y1="906.00" x2="351.94" y2="908.80" stroke="#000" stroke-width="1.0" stroke-linecap="butt"/>
<line x1="361.31" y1="906.00" x2="361.31" y2="908.80" stroke="#000" stroke-width="1.0" stroke-linecap="butt"/>
<line x1="369.43" y1="906.00" x2="369.43" y2="908.80" stroke="#000" stroke-width="1.0" stroke-linecap="butt"/>
<line x1="376.59" y1="906.00" x2="376.59" y2="908.80" stroke="#000" stroke-width="1.0" stroke-linecap="butt"/>
<line x1="383.00" y1="906.00" x2="383.00" y2="910.00" stroke="#000" stroke-width="1.3" stroke-linecap="butt"/>
<line x1="425.14" y1="906.00" x2="425.14" y2="908.80" stroke="#000" stroke-width="1.0" stroke-linecap="butt"/>
<line x1="449.80" y1="906.00" x2="449.80" y2="908.80" stroke="#000" stroke-width="1.0" stroke-linecap="butt"/>
<line x1="467.29" y1="906.00" x2="467.29" y2="908.80" stroke="#000" stroke-width="1.0" stroke-linecap="butt"/>
<line x1="480.86" y1="906.00" x2="480.86" y2="908.80" stroke="#000" stroke-width="1.0" stroke-linecap="butt"/>
<line x1="491.94" y1="906.00" x2="491.94" y2="908.80" stroke="#000" stroke-width="1.0" stroke-linecap="butt"/>
<line x1="501.31" y1="906.00" x2="501.31" y2="908.80" stroke="#000" stroke-width="1.0" stroke-linecap="butt"/>
<line x1="509.43" y1="906.00" x2="509.43" y2="908.80" stroke="#000" stroke-width="1.0" stroke-linecap="butt"/>
<line x1="516.59" y1="906.00" x2="516.59" y2="908.80" stroke="#000" stroke-width="1.0" stroke-linecap="butt"/>
<line x1="523.00" y1="906.00" x2="523.00" y2="910.00" stroke="#000" stroke-width="1.3" stroke-linecap="butt"/>
<line x1="565.14" y1="906.00" x2="565.14" y2="908.80" stroke="#000" stroke-width="1.0" stroke-linecap="butt"/>
<line x1="589.80" y1="906.00" x2="589.80" y2="908.80" stroke="#000" stroke-width="1.0" stroke-linecap="butt"/>
<line x1="607.29" y1="906.00" x2="607.29" y2="908.80" stroke="#000" stroke-width="1.0" stroke-linecap="butt"/>
<line x1="620.86" y1="906.00" x2="620.86" y2="908.80" stroke="#000" stroke-width="1.0" stroke-linecap="butt"/>
<line x1="631.94" y1="906.00" x2="631.94" y2="908.80" stroke="#000" stroke-width="1.0" stroke-linecap="butt"/>
<line x1="641.31" y1="906.00" x2="641.31" y2="908.80" stroke="#000" stroke-width="1.0" stroke-linecap="butt"/>
<line x1="649.43" y1="906.00" x2="649.43" y2="908.80" stroke="#000" stroke-width="1.0" stroke-linecap="butt"/>
<line x1="656.59" y1="906.00" x2="656.59" y2="908.80" stroke="#000" stroke-width="1.0" stroke-linecap="butt"/>
<line x1="663.00" y1="906.00" x2="663.00" y2="910.00" stroke="#000" stroke-width="1.3" stroke-linecap="butt"/>
<line x1="705.14" y1="906.00" x2="705.14" y2="908.80" stroke="#000" stroke-width="1.0" stroke-linecap="butt"/>
<line x1="729.80" y1="906.00" x2="729.80" y2="908.80" stroke="#000" stroke-width="1.0" stroke-linecap="butt"/>
<line x1="747.29" y1="906.00" x2="747.29" y2="908.80" stroke="#000" stroke-width="1.0" stroke-linecap="butt"/>
<line x1="760.86" y1="906.00" x2="760.86" y2="908.80" stroke="#000" stroke-width="1.0" stroke-linecap="butt"/>
<line x1="771.94" y1="906.00" x2="771.94" y2="908.80" stroke="#000" stroke-width="1.0" stroke-linecap="butt"/>
<line x1="781.31" y1="906.00" x2="781.31" y2="908.80" stroke="#000" stroke-width="1.0" stroke-linecap="butt"/>
<line x1="789.43" y1="906.00" x2="789.43" y2="908.80" stroke="#000" stroke-width="1.0" stroke-linecap="butt"/>
<line x1="796.59" y1="906.00" x2="796.59" y2="908.80" stroke="#000" stroke-width="1.0" stroke-linecap="butt"/>
<line x1="802.50" y1="906.00" x2="802.50" y2="910.00" stroke="#000" stroke-width="1.3" stroke-linecap="butt"/>
<text x="61.07" y="703.30" font-size="31" fill="#000" textLength="31.69" lengthAdjust="spacingAndGlyphs">30</text>
<text x="60.34" y="771.10" font-size="31" fill="#000" textLength="32.46" lengthAdjust="spacingAndGlyphs">20</text>
<text x="61.66" y="838.90" font-size="31" fill="#000" textLength="31.09" lengthAdjust="spacingAndGlyphs">10</text>
<text x="66.10" y="905.90" font-size="31" fill="#000" textLength="16.19" lengthAdjust="spacingAndGlyphs">0</text>
<text x="84.22" y="941.20" font-size="31" fill="#000" textLength="36.96" lengthAdjust="spacingAndGlyphs">0.1</text>
<text x="237.58" y="941.20" font-size="31" fill="#000" textLength="11.27" lengthAdjust="spacingAndGlyphs">1</text>
<text x="376.64" y="941.20" font-size="31" fill="#000" textLength="31.31" lengthAdjust="spacingAndGlyphs">10</text>
<text x="518.48" y="941.20" font-size="31" fill="#000" textLength="44.40" lengthAdjust="spacingAndGlyphs">100</text>
<text x="658.68" y="941.20" font-size="31" fill="#000" textLength="61.76" lengthAdjust="spacingAndGlyphs">1000</text>
<text x="770.42" y="941.20" font-size="31" fill="#000" textLength="75.79" lengthAdjust="spacingAndGlyphs">10000</text>
<text x="422.26" y="970.20" font-size="28.5" fill="#000" textLength="132.29" lengthAdjust="spacingAndGlyphs">Size (d.nm)</text>
<text transform="translate(31.30,836.90) rotate(-90)" x="-0.93" y="0" font-size="31" fill="#000" textLength="156.21" lengthAdjust="spacingAndGlyphs">Number (%)</text>
<path d="M186.0,907.5 L464.0,907.3 L473.6,900.1 L478.4,876.1 L483.2,840.0 L488.0,798.0 L490.4,774.0 L496.4,741.6 L498.8,731.4 L501.2,731.4 L504.8,750.0 L509.6,777.6 L514.4,804.0 L519.2,825.7 L524.0,849.7 L531.3,876.1 L539.7,890.5 L548.1,897.7 L560.1,901.3 L584.1,903.7 L620.0,904.3 L700.0,906.2 L802.5,907.5" stroke="#0000ff" stroke-width="5.6" fill="none" stroke-linejoin="miter" stroke-miterlimit="3"/>
<path d="M186.0,907.5 L458.0,907.3 L462.8,907.3 L471.2,888.1 L476.0,864.0 L482.0,828.0 L488.0,792.0 L490.4,768.0 L494.0,758.4 L498.8,754.8 L501.2,756.0 L507.2,782.4 L514.4,811.3 L521.7,837.7 L528.9,861.7 L536.1,878.5 L545.7,891.7 L555.3,898.9 L572.1,903.1 L596.1,905.5 L620.0,906.1 L700.0,907.0 L802.5,907.5" stroke="#ee1c25" stroke-width="5.6" fill="none" stroke-linejoin="miter" stroke-miterlimit="3"/>
<path d="M186.0,907.5 L453.2,907.3 L462.2,876.1 L464.0,864.0 L468.8,818.5 L473.6,792.0 L479.6,749.4 L482.6,748.8 L490.4,759.6 L496.4,782.4 L503.6,816.0 L508.4,840.0 L515.6,867.7 L524.0,888.1 L533.7,898.9 L544.5,903.7 L560.0,906.1 L572.0,907.3 L802.5,907.5" stroke="#000" stroke-width="5.6" fill="none" stroke-linejoin="miter" stroke-miterlimit="3"/>
<rect x="566.50" y="598.20" width="38.60" height="19.70" fill="#000"/>
<rect x="566.50" y="641.00" width="38.60" height="19.30" fill="#ff0000"/>
<rect x="566.50" y="683.20" width="38.60" height="19.70" fill="#0000ff"/>
<text x="626.66" y="618.40" font-size="31.4" fill="#000" textLength="68.98" lengthAdjust="spacingAndGlyphs">CaPP</text>
<text x="626.97" y="660.80" font-size="31.4" fill="#000" textLength="119.50" lengthAdjust="spacingAndGlyphs">D@CaPP</text>
<text x="626.99" y="703.30" font-size="31.4" fill="#000" textLength="117.57" lengthAdjust="spacingAndGlyphs">H@CaPP</text>
<text x="887.47" y="594.50" font-size="47" font-weight="bold" fill="#000" textLength="20.64" lengthAdjust="spacingAndGlyphs">c</text>
<line x1="1011.90" y1="580.00" x2="1011.90" y2="919.60" stroke="#000" stroke-width="3.6" stroke-linecap="butt"/>
<line x1="996.10" y1="917.90" x2="1463.00" y2="917.90" stroke="#000" stroke-width="3.5" stroke-linecap="butt"/>
<line x1="996.10" y1="917.90" x2="1011.90" y2="917.90" stroke="#000" stroke-width="3.5" stroke-linecap="butt"/>
<line x1="996.10" y1="850.66" x2="1011.90" y2="850.66" stroke="#000" stroke-width="3.5" stroke-linecap="butt"/>
<line x1="996.10" y1="783.42" x2="1011.90" y2="783.42" stroke="#000" stroke-width="3.5" stroke-linecap="butt"/>
<line x1="996.10" y1="716.18" x2="1011.90" y2="716.18" stroke="#000" stroke-width="3.5" stroke-linecap="butt"/>
<line x1="996.10" y1="648.94" x2="1011.90" y2="648.94" stroke="#000" stroke-width="3.5" stroke-linecap="butt"/>
<line x1="996.10" y1="581.70" x2="1011.90" y2="581.70" stroke="#000" stroke-width="3.5" stroke-linecap="butt"/>
<text x="942.55" y="591.50" font-size="31" fill="#000" textLength="46.50" lengthAdjust="spacingAndGlyphs">100</text>
<text x="951.00" y="657.80" font-size="31" fill="#000" textLength="31.00" lengthAdjust="spacingAndGlyphs">80</text>
<text x="951.00" y="723.40" font-size="31" fill="#000" textLength="31.00" lengthAdjust="spacingAndGlyphs">60</text>
<text x="951.31" y="789.60" font-size="31" fill="#000" textLength="31.00" lengthAdjust="spacingAndGlyphs">40</text>
<text x="950.92" y="855.50" font-size="31" fill="#000" textLength="31.00" lengthAdjust="spacingAndGlyphs">20</text>
<text x="958.75" y="921.40" font-size="31" fill="#000" textLength="15.50" lengthAdjust="spacingAndGlyphs">0</text>
<text transform="translate(930.60,899.50) rotate(-90)" x="-0.31" y="0" font-size="31.5" fill="#000" textLength="273.73" lengthAdjust="spacingAndGlyphs">Averge diameter (nm)</text>
<path d="M1077.5,917.9 L1077.5,707.9 L1150.8,707.9 L1150.8,917.9" stroke="#000" stroke-width="3.8" fill="none" stroke-linejoin="miter"/>
<path d="M1201.1,917.9 L1201.1,654.8 L1273.3,654.8 L1273.3,917.9" stroke="#ff2200" stroke-width="3.8" fill="none" stroke-linejoin="miter"/>
<path d="M1323.5,917.9 L1323.5,657.1 L1396.9,657.1 L1396.9,917.9" stroke="#0028ff" stroke-width="3.8" fill="none" stroke-linejoin="miter"/>
<line x1="1114.30" y1="693.50" x2="1114.30" y2="716.90" stroke="#000" stroke-width="3.6" stroke-linecap="butt"/>
<line x1="1092.80" y1="693.50" x2="1135.80" y2="693.50" stroke="#000" stroke-width="4.6" stroke-linecap="round"/>
<line x1="1092.80" y1="716.90" x2="1135.80" y2="716.90" stroke="#000" stroke-width="4.6" stroke-linecap="round"/>
<ellipse cx="1114.20" cy="692.40" rx="11.20" ry="6.60" fill="#000"/>
<ellipse cx="1144.00" cy="706.40" rx="11.20" ry="6.60" fill="#000"/>
<ellipse cx="1084.50" cy="716.20" rx="11.20" ry="6.60" fill="#000"/>
<line x1="1237.40" y1="635.20" x2="1237.40" y2="669.00" stroke="#000" stroke-width="3.6" stroke-linecap="butt"/>
<line x1="1215.90" y1="635.20" x2="1258.90" y2="635.20" stroke="#000" stroke-width="4.6" stroke-linecap="round"/>
<line x1="1215.90" y1="669.00" x2="1258.90" y2="669.00" stroke="#000" stroke-width="4.6" stroke-linecap="round"/>
<rect x="1226.20" y="628.20" width="22.50" height="14.00" fill="#000"/>
<rect x="1226.20" y="645.50" width="22.50" height="14.00" fill="#000"/>
<rect x="1226.20" y="661.80" width="22.50" height="14.00" fill="#000"/>
<line x1="1361.50" y1="637.50" x2="1361.50" y2="670.90" stroke="#000" stroke-width="3.6" stroke-linecap="butt"/>
<line x1="1340.00" y1="637.50" x2="1383.00" y2="637.50" stroke="#000" stroke-width="4.6" stroke-linecap="round"/>
<line x1="1340.00" y1="670.90" x2="1383.00" y2="670.90" stroke="#000" stroke-width="4.6" stroke-linecap="round"/>
<polygon points="1360.50,631.20 1371.50,644.80 1349.50,644.80" fill="#000"/>
<polygon points="1360.50,644.50 1371.50,659.70 1349.50,659.70" fill="#000"/>
<polygon points="1360.50,664.40 1371.50,678.40 1349.50,678.40" fill="#000"/>
<text x="1076.47" y="963.60" font-size="31" fill="#000" textLength="68.15" lengthAdjust="spacingAndGlyphs">CaPP</text>
<text x="1181.18" y="963.60" font-size="31" fill="#000" textLength="119.10" lengthAdjust="spacingAndGlyphs">D@CaPP</text>
<text x="1310.39" y="963.60" font-size="31" fill="#000" textLength="117.67" lengthAdjust="spacingAndGlyphs">H@CaPP</text>
<text x="-1.34" y="1054.60" font-size="45" font-weight="bold" fill="#000" textLength="25.55" lengthAdjust="spacingAndGlyphs">d</text>
<g clip-path="url(#clipT)">
<rect x="31.20" y="1067.40" width="251.00" height="228.60" fill="#676767"/>
<rect x="31.20" y="1067.40" width="251.00" height="228.60" fill="url(#topT)"/>
<rect x="31.2" y="1067.4" width="251" height="228.6" filter="url(#mottle)" opacity="0.09" style="mix-blend-mode:overlay"/>
<ellipse cx="151" cy="1190" rx="112" ry="100" fill="url(#haloT)"/>
<ellipse cx="60" cy="1240" rx="40" ry="50" fill="#000" opacity="0.22" filter="url(#bl14)"/>
<ellipse cx="235" cy="1205" rx="35" ry="45" fill="#000" opacity="0.12" filter="url(#bl14)"/>
<circle cx="55.9" cy="1125.4" r="11.5" fill="#a4a4a4" filter="url(#bl4)"/>
<circle cx="223" cy="1121.9" r="17.5" fill="#a6a6a6" filter="url(#bl4)"/>
<circle cx="246.8" cy="1276.5" r="17.5" fill="#9e9e9e" filter="url(#bl4)"/>
<circle cx="272.5" cy="1083" r="10.6" fill="#a4a4a4" filter="url(#bl4)"/>
<circle cx="34" cy="1290" r="8" fill="#a0a0a0" filter="url(#bl4)"/>
<ellipse cx="151.4" cy="1186" rx="60" ry="57.8" fill="url(#coreT)" filter="url(#bl1)"/>
<rect x="31.2" y="1067.4" width="251" height="228.6" filter="url(#grain)" opacity="0.16" style="mix-blend-mode:overlay"/>
</g>
<rect x="38.80" y="1280.10" width="82.50" height="5.80" fill="#fff"/>
<g clip-path="url(#clipB)">
<rect x="31.00" y="1299.40" width="251.00" height="228.00" fill="#555555"/>
<rect x="31" y="1299.4" width="251" height="228" filter="url(#mottle)" opacity="0.08" style="mix-blend-mode:overlay"/>
<ellipse cx="155" cy="1402" rx="128" ry="114" fill="url(#haloB)"/>
<ellipse cx="232" cy="1345" rx="40" ry="38" fill="#000" opacity="0.35" filter="url(#bl8)"/>
<ellipse cx="266" cy="1392" rx="24" ry="30" fill="#7a7a7a" filter="url(#bl4)"/>
<ellipse cx="267" cy="1386" rx="10" ry="11" fill="#969696" filter="url(#bl2)"/>
<ellipse cx="148.2" cy="1409.9" rx="73.8" ry="64.2" fill="none" stroke="#a6a6a6" stroke-width="8.5" filter="url(#bl1)"/>
<ellipse cx="147.2" cy="1410.8" rx="66.0" ry="57.4" fill="none" stroke="#8a8a8a" stroke-width="8" filter="url(#bl1)"/>
<ellipse cx="145" cy="1412" rx="59" ry="53" fill="#121212" filter="url(#bl1)"/>
<ellipse cx="143" cy="1413" rx="54.4" ry="50" fill="url(#coreB)" filter="url(#bl1)"/>
<rect x="31" y="1299.4" width="251" height="228" filter="url(#grain)" opacity="0.16" style="mix-blend-mode:overlay"/>
</g>
<rect x="39.00" y="1513.00" width="82.00" height="5.60" fill="#fff"/>
<line x1="188.00" y1="1450.60" x2="201.00" y2="1430.60" stroke="#ee1c25" stroke-width="2.6" stroke-linecap="butt"/>
<line x1="208.00" y1="1460.00" x2="221.60" y2="1439.40" stroke="#ee1c25" stroke-width="2.6" stroke-linecap="butt"/>
<text x="214.94" y="1471.00" font-size="30" fill="#ee1c25" textLength="19.16" lengthAdjust="spacingAndGlyphs">~</text>
<text x="240.40" y="1467.40" font-size="30.5" fill="#ee1c25" textLength="77.39" lengthAdjust="spacingAndGlyphs">15 nm</text>
<text x="372.85" y="1054.30" font-size="47" font-weight="bold" fill="#000" textLength="20.87" lengthAdjust="spacingAndGlyphs">e</text>
<line x1="522.90" y1="1096.60" x2="522.90" y2="1508.50" stroke="#000" stroke-width="3.6" stroke-linecap="butt"/>
<line x1="510.90" y1="1098.30" x2="522.90" y2="1098.30" stroke="#000" stroke-width="3.6" stroke-linecap="butt"/>
<line x1="510.90" y1="1180.00" x2="522.90" y2="1180.00" stroke="#000" stroke-width="3.6" stroke-linecap="butt"/>
<line x1="510.90" y1="1343.40" x2="522.90" y2="1343.40" stroke="#000" stroke-width="3.6" stroke-linecap="butt"/>
<line x1="510.90" y1="1425.10" x2="522.90" y2="1425.10" stroke="#000" stroke-width="3.6" stroke-linecap="butt"/>
<line x1="510.90" y1="1506.80" x2="522.90" y2="1506.80" stroke="#000" stroke-width="3.6" stroke-linecap="butt"/>
<line x1="510.90" y1="1261.50" x2="858.00" y2="1261.50" stroke="#000" stroke-width="3.6" stroke-linecap="butt"/>
<text x="473.56" y="1108.70" font-size="31.4" fill="#000" textLength="32.02" lengthAdjust="spacingAndGlyphs">40</text>
<text x="473.03" y="1190.50" font-size="31.4" fill="#000" textLength="32.57" lengthAdjust="spacingAndGlyphs">20</text>
<text x="463.91" y="1354.60" font-size="31.4" fill="#000" textLength="41.58" lengthAdjust="spacingAndGlyphs">-20</text>
<text x="463.91" y="1436.10" font-size="31.4" fill="#000" textLength="41.58" lengthAdjust="spacingAndGlyphs">-40</text>
<text x="463.91" y="1517.50" font-size="31.4" fill="#000" textLength="41.58" lengthAdjust="spacingAndGlyphs">-60</text>
<text x="491.53" y="1272.40" font-size="31.4" fill="#000" textLength="15.83" lengthAdjust="spacingAndGlyphs">0</text>
<text transform="translate(448.30,1430.40) rotate(-90)" x="-1.49" y="0" font-size="35" fill="#000" textLength="263.67" lengthAdjust="spacingAndGlyphs">Zeta potential (mV)</text>
<path d="M570.7,1261.5 L570.7,1162.7 L627.7,1162.7 L627.7,1261.5" stroke="#000" stroke-width="3.8" fill="none"/>
<line x1="599.00" y1="1139.00" x2="599.00" y2="1182.00" stroke="#000" stroke-width="3.6" stroke-linecap="butt"/>
<line x1="583.80" y1="1139.00" x2="614.20" y2="1139.00" stroke="#000" stroke-width="3.6" stroke-linecap="round"/>
<line x1="583.80" y1="1182.00" x2="614.20" y2="1182.00" stroke="#000" stroke-width="3.6" stroke-linecap="round"/>
<circle cx="599.00" cy="1139.00" r="8.00" fill="#000"/>
<circle cx="599.00" cy="1160.00" r="8.00" fill="#000"/>
<circle cx="599.00" cy="1181.60" r="8.00" fill="#000"/>
<rect x="682.20" y="1389.40" width="16.80" height="16.40" fill="#000"/>
<rect x="682.20" y="1408.20" width="16.80" height="16.40" fill="#000"/>
<rect x="682.20" y="1426.90" width="16.80" height="16.40" fill="#000"/>
<path d="M662.2,1261.5 L662.2,1414.1 L718.7,1414.1 L718.7,1261.5" stroke="#ff2200" stroke-width="3.9" fill="none"/>
<line x1="690.60" y1="1397.90" x2="690.60" y2="1435.40" stroke="#000" stroke-width="3.6" stroke-linecap="butt"/>
<line x1="675.30" y1="1397.90" x2="705.90" y2="1397.90" stroke="#000" stroke-width="3.6" stroke-linecap="round"/>
<line x1="675.30" y1="1435.40" x2="705.90" y2="1435.40" stroke="#000" stroke-width="3.6" stroke-linecap="round"/>
<polygon points="782.10,1382.00 790.35,1398.20 773.85,1398.20" fill="#000"/>
<polygon points="782.10,1406.50 790.35,1422.80 773.85,1422.80" fill="#000"/>
<polygon points="782.10,1426.40 790.35,1442.60 773.85,1442.60" fill="#000"/>
<path d="M753.9,1261.5 L753.9,1410.6 L810.5,1410.6 L810.5,1261.5" stroke="#0028ff" stroke-width="3.9" fill="none"/>
<line x1="782.10" y1="1391.00" x2="782.10" y2="1435.20" stroke="#000" stroke-width="3.6" stroke-linecap="butt"/>
<line x1="767.10" y1="1391.00" x2="797.10" y2="1391.00" stroke="#000" stroke-width="3.6" stroke-linecap="round"/>
<line x1="767.10" y1="1435.20" x2="797.10" y2="1435.20" stroke="#000" stroke-width="3.6" stroke-linecap="round"/>
<rect x="648.2" y="1076.2" width="47.6" height="22.6" fill="none" stroke="#000" stroke-width="3.6"/>
<rect x="648.2" y="1127.4" width="47.6" height="22.8" fill="none" stroke="#ff2200" stroke-width="3.6"/>
<rect x="648.2" y="1177.8" width="47.6" height="23.4" fill="none" stroke="#0028ff" stroke-width="3.6"/>
<text x="723.64" y="1100.20" font-size="32.7" fill="#000" textLength="75.84" lengthAdjust="spacingAndGlyphs">CaPP</text>
<text x="723.98" y="1150.70" font-size="32.7" fill="#000" textLength="131.02" lengthAdjust="spacingAndGlyphs">D@CaPP</text>
<text x="724.00" y="1201.70" font-size="32.7" fill="#000" textLength="128.98" lengthAdjust="spacingAndGlyphs">H@CaPP</text>
<text x="888.64" y="1054.00" font-size="45" font-weight="bold" fill="#000" textLength="17.14" lengthAdjust="spacingAndGlyphs">f</text>
<line x1="1004.00" y1="1083.50" x2="1004.00" y2="1456.00" stroke="#000" stroke-width="3.8" stroke-linecap="butt"/>
<line x1="991.50" y1="1454.10" x2="1479.30" y2="1454.10" stroke="#000" stroke-width="4.0" stroke-linecap="butt"/>
<line x1="993.00" y1="1380.03" x2="1004.00" y2="1380.03" stroke="#000" stroke-width="3.8" stroke-linecap="butt"/>
<line x1="993.00" y1="1306.16" x2="1004.00" y2="1306.16" stroke="#000" stroke-width="3.8" stroke-linecap="butt"/>
<line x1="993.00" y1="1232.29" x2="1004.00" y2="1232.29" stroke="#000" stroke-width="3.8" stroke-linecap="butt"/>
<line x1="993.00" y1="1158.42" x2="1004.00" y2="1158.42" stroke="#000" stroke-width="3.8" stroke-linecap="butt"/>
<line x1="993.00" y1="1084.55" x2="1004.00" y2="1084.55" stroke="#000" stroke-width="3.8" stroke-linecap="butt"/>
<line x1="1003.60" y1="1454.00" x2="1003.60" y2="1466.30" stroke="#000" stroke-width="4.0" stroke-linecap="butt"/>
<line x1="1040.04" y1="1454.00" x2="1040.04" y2="1466.30" stroke="#000" stroke-width="4.0" stroke-linecap="butt"/>
<line x1="1076.48" y1="1454.00" x2="1076.48" y2="1466.30" stroke="#000" stroke-width="4.0" stroke-linecap="butt"/>
<line x1="1112.92" y1="1454.00" x2="1112.92" y2="1466.30" stroke="#000" stroke-width="4.0" stroke-linecap="butt"/>
<line x1="1149.36" y1="1454.00" x2="1149.36" y2="1466.30" stroke="#000" stroke-width="4.0" stroke-linecap="butt"/>
<line x1="1185.80" y1="1454.00" x2="1185.80" y2="1466.30" stroke="#000" stroke-width="4.0" stroke-linecap="butt"/>
<line x1="1222.24" y1="1454.00" x2="1222.24" y2="1466.30" stroke="#000" stroke-width="4.0" stroke-linecap="butt"/>
<line x1="1258.68" y1="1454.00" x2="1258.68" y2="1466.30" stroke="#000" stroke-width="4.0" stroke-linecap="butt"/>
<line x1="1295.12" y1="1454.00" x2="1295.12" y2="1466.30" stroke="#000" stroke-width="4.0" stroke-linecap="butt"/>
<line x1="1331.56" y1="1454.00" x2="1331.56" y2="1466.30" stroke="#000" stroke-width="4.0" stroke-linecap="butt"/>
<line x1="1368.00" y1="1454.00" x2="1368.00" y2="1466.30" stroke="#000" stroke-width="4.0" stroke-linecap="butt"/>
<line x1="1404.44" y1="1454.00" x2="1404.44" y2="1466.30" stroke="#000" stroke-width="4.0" stroke-linecap="butt"/>
<line x1="1440.88" y1="1454.00" x2="1440.88" y2="1466.30" stroke="#000" stroke-width="4.0" stroke-linecap="butt"/>
<line x1="1477.32" y1="1454.00" x2="1477.32" y2="1466.30" stroke="#000" stroke-width="4.0" stroke-linecap="butt"/>
<text x="948.06" y="1094.20" font-size="31" fill="#000" textLength="43.09" lengthAdjust="spacingAndGlyphs">100</text>
<text x="960.30" y="1168.20" font-size="31" fill="#000" textLength="29.89" lengthAdjust="spacingAndGlyphs">80</text>
<text x="960.30" y="1242.20" font-size="31" fill="#000" textLength="29.89" lengthAdjust="spacingAndGlyphs">60</text>
<text x="959.70" y="1315.80" font-size="31" fill="#000" textLength="30.21" lengthAdjust="spacingAndGlyphs">40</text>
<text x="958.90" y="1389.60" font-size="31" fill="#000" textLength="31.04" lengthAdjust="spacingAndGlyphs">20</text>
<text x="973.30" y="1462.90" font-size="31" fill="#000" textLength="16.19" lengthAdjust="spacingAndGlyphs">0</text>
<text x="997.35" y="1493.70" font-size="31" fill="#000" textLength="15.50" lengthAdjust="spacingAndGlyphs">0</text>
<text x="1033.94" y="1493.70" font-size="31" fill="#000" textLength="15.50" lengthAdjust="spacingAndGlyphs">2</text>
<text x="1070.15" y="1493.70" font-size="31" fill="#000" textLength="15.50" lengthAdjust="spacingAndGlyphs">4</text>
<text x="1106.52" y="1493.70" font-size="31" fill="#000" textLength="15.50" lengthAdjust="spacingAndGlyphs">6</text>
<text x="1143.11" y="1493.70" font-size="31" fill="#000" textLength="15.50" lengthAdjust="spacingAndGlyphs">8</text>
<text x="1171.10" y="1493.70" font-size="31" fill="#000" textLength="31.00" lengthAdjust="spacingAndGlyphs">10</text>
<text x="1207.78" y="1493.70" font-size="31" fill="#000" textLength="31.00" lengthAdjust="spacingAndGlyphs">12</text>
<text x="1243.60" y="1493.70" font-size="31" fill="#000" textLength="31.00" lengthAdjust="spacingAndGlyphs">14</text>
<text x="1280.27" y="1493.70" font-size="31" fill="#000" textLength="31.00" lengthAdjust="spacingAndGlyphs">16</text>
<text x="1316.86" y="1493.70" font-size="31" fill="#000" textLength="31.00" lengthAdjust="spacingAndGlyphs">18</text>
<text x="1353.92" y="1493.70" font-size="31" fill="#000" textLength="31.00" lengthAdjust="spacingAndGlyphs">20</text>
<text x="1390.60" y="1493.70" font-size="31" fill="#000" textLength="31.00" lengthAdjust="spacingAndGlyphs">22</text>
<text x="1426.42" y="1493.70" font-size="31" fill="#000" textLength="31.00" lengthAdjust="spacingAndGlyphs">24</text>
<text x="1463.09" y="1493.70" font-size="31" fill="#000" textLength="31.00" lengthAdjust="spacingAndGlyphs">26</text>
<text x="1191.89" y="1522.60" font-size="31.2" fill="#000" textLength="106.06" lengthAdjust="spacingAndGlyphs">Time (h)</text>
<text transform="translate(938.30,1430.20) rotate(-90)" x="-1.22" y="0" font-size="31" fill="#000" textLength="286.79" lengthAdjust="spacingAndGlyphs">Cumulative release (%)</text>
<line x1="1040.04" y1="1103.00" x2="1040.04" y2="1120.80" stroke="#000" stroke-width="3.6" stroke-linecap="butt"/>
<line x1="1031.04" y1="1103.00" x2="1049.04" y2="1103.00" stroke="#000" stroke-width="4.0" stroke-linecap="butt"/>
<line x1="1031.04" y1="1120.80" x2="1049.04" y2="1120.80" stroke="#000" stroke-width="4.0" stroke-linecap="butt"/>
<line x1="1040.04" y1="1403.30" x2="1040.04" y2="1419.20" stroke="#000" stroke-width="3.6" stroke-linecap="butt"/>
<line x1="1031.84" y1="1403.30" x2="1048.24" y2="1403.30" stroke="#000" stroke-width="4.0" stroke-linecap="butt"/>
<line x1="1031.84" y1="1419.20" x2="1048.24" y2="1419.20" stroke="#000" stroke-width="4.0" stroke-linecap="butt"/>
<line x1="1440.88" y1="1353.00" x2="1440.88" y2="1369.80" stroke="#000" stroke-width="3.6" stroke-linecap="butt"/>
<line x1="1433.08" y1="1353.00" x2="1448.68" y2="1353.00" stroke="#000" stroke-width="4.0" stroke-linecap="butt"/>
<line x1="1433.08" y1="1369.80" x2="1448.68" y2="1369.80" stroke="#000" stroke-width="4.0" stroke-linecap="butt"/>
<path d="M1003.6,1453.9 L1040.0,1112.3 L1076.5,1101.2 L1149.4,1094.9 L1222.2,1093.0 L1440.9,1097.7" stroke="#000" stroke-width="3.8" fill="none" stroke-linejoin="round"/>
<ellipse cx="1003.60" cy="1453.90" rx="6.80" ry="7.25" fill="#000"/>
<ellipse cx="1040.04" cy="1112.25" rx="6.80" ry="7.25" fill="#000"/>
<ellipse cx="1076.48" cy="1101.17" rx="6.80" ry="7.25" fill="#000"/>
<ellipse cx="1149.36" cy="1094.89" rx="6.80" ry="7.25" fill="#000"/>
<ellipse cx="1222.24" cy="1093.05" rx="6.80" ry="7.25" fill="#000"/>
<ellipse cx="1440.88" cy="1097.66" rx="6.80" ry="7.25" fill="#000"/>
<path d="M1003.6,1453.9 L1040.0,1411.8 L1076.5,1387.8 L1149.4,1383.9 L1222.2,1366.4 L1440.9,1363.0" stroke="#ff0000" stroke-width="3.8" fill="none" stroke-linejoin="round"/>
<rect x="996.80" y="1446.65" width="13.60" height="14.50" fill="#ff0000"/>
<rect x="1033.24" y="1404.54" width="13.60" height="14.50" fill="#ff0000"/>
<rect x="1069.68" y="1380.54" width="13.60" height="14.50" fill="#ff0000"/>
<rect x="1142.56" y="1376.66" width="13.60" height="14.50" fill="#ff0000"/>
<rect x="1215.44" y="1359.11" width="13.60" height="14.50" fill="#ff0000"/>
<rect x="1434.08" y="1355.79" width="13.60" height="14.50" fill="#ff0000"/>
<path d="M1003.6,1453.9 L1040.0,1411.8 L1076.5,1378.6 L1149.4,1369.3 L1222.2,1363.0 L1440.9,1353.4" stroke="#0000ff" stroke-width="3.8" fill="none" stroke-linejoin="round"/>
<polygon points="1003.60,1445.20 1010.40,1459.70 996.80,1459.70" fill="#0000ff"/>
<polygon points="1040.04,1403.09 1046.84,1417.59 1033.24,1417.59" fill="#0000ff"/>
<polygon points="1076.48,1369.85 1083.28,1384.35 1069.68,1384.35" fill="#0000ff"/>
<polygon points="1149.36,1360.62 1156.16,1375.12 1142.56,1375.12" fill="#0000ff"/>
<polygon points="1222.24,1354.34 1229.04,1368.84 1215.44,1368.84" fill="#0000ff"/>
<polygon points="1440.88,1344.74 1447.68,1359.24 1434.08,1359.24" fill="#0000ff"/>
<line x1="1074.90" y1="1179.30" x2="1112.30" y2="1179.30" stroke="#000" stroke-width="4.0" stroke-linecap="butt"/>
<ellipse cx="1093.60" cy="1179.30" rx="7.00" ry="7.00" fill="#000"/>
<text x="1132.13" y="1188.90" font-size="30.2" fill="#000" textLength="35.94" lengthAdjust="spacingAndGlyphs">PP</text>
<line x1="1074.90" y1="1225.40" x2="1112.30" y2="1225.40" stroke="#ff0000" stroke-width="4.0" stroke-linecap="butt"/>
<rect x="1086.60" y="1218.40" width="14.00" height="14.00" fill="#ff0000"/>
<text x="1132.18" y="1234.50" font-size="30.0" fill="#000" textLength="118.59" lengthAdjust="spacingAndGlyphs">D@CaPP</text>
<line x1="1310.30" y1="1175.60" x2="1348.30" y2="1175.60" stroke="#0000ff" stroke-width="4.0" stroke-linecap="butt"/>
<polygon points="1329.40,1167.02 1336.75,1181.32 1322.05,1181.32" fill="#0000ff"/>
<text x="1367.87" y="1185.60" font-size="32.0" fill="#000" textLength="119.71" lengthAdjust="spacingAndGlyphs">H@CaPP</text>
<text x="-0.83" y="1607.20" font-size="44.5" font-weight="bold" fill="#000" textLength="22.58" lengthAdjust="spacingAndGlyphs">g</text>
<line x1="104.00" y1="1672.30" x2="104.00" y2="2031.00" stroke="#000" stroke-width="3.4" stroke-linecap="butt"/>
<line x1="88.90" y1="2019.80" x2="813.90" y2="2019.80" stroke="#000" stroke-width="3.6" stroke-linecap="butt"/>
<line x1="88.90" y1="1951.20" x2="104.00" y2="1951.20" stroke="#000" stroke-width="3.5" stroke-linecap="butt"/>
<line x1="88.90" y1="1881.90" x2="104.00" y2="1881.90" stroke="#000" stroke-width="3.5" stroke-linecap="butt"/>
<line x1="88.90" y1="1812.60" x2="104.00" y2="1812.60" stroke="#000" stroke-width="3.5" stroke-linecap="butt"/>
<line x1="88.90" y1="1743.30" x2="104.00" y2="1743.30" stroke="#000" stroke-width="3.5" stroke-linecap="butt"/>
<line x1="88.90" y1="1674.00" x2="104.00" y2="1674.00" stroke="#000" stroke-width="3.5" stroke-linecap="butt"/>
<line x1="88.90" y1="2019.80" x2="104.00" y2="2019.80" stroke="#000" stroke-width="3.5" stroke-linecap="butt"/>
<line x1="158.16" y1="2019.80" x2="158.16" y2="2031.00" stroke="#000" stroke-width="3.5" stroke-linecap="butt"/>
<line x1="212.72" y1="2019.80" x2="212.72" y2="2031.00" stroke="#000" stroke-width="3.5" stroke-linecap="butt"/>
<line x1="267.28" y1="2019.80" x2="267.28" y2="2031.00" stroke="#000" stroke-width="3.5" stroke-linecap="butt"/>
<line x1="321.84" y1="2019.80" x2="321.84" y2="2031.00" stroke="#000" stroke-width="3.5" stroke-linecap="butt"/>
<line x1="376.40" y1="2019.80" x2="376.40" y2="2031.00" stroke="#000" stroke-width="3.5" stroke-linecap="butt"/>
<line x1="430.96" y1="2019.80" x2="430.96" y2="2031.00" stroke="#000" stroke-width="3.5" stroke-linecap="butt"/>
<line x1="485.52" y1="2019.80" x2="485.52" y2="2031.00" stroke="#000" stroke-width="3.5" stroke-linecap="butt"/>
<line x1="540.08" y1="2019.80" x2="540.08" y2="2031.00" stroke="#000" stroke-width="3.5" stroke-linecap="butt"/>
<line x1="594.64" y1="2019.80" x2="594.64" y2="2031.00" stroke="#000" stroke-width="3.5" stroke-linecap="butt"/>
<line x1="649.20" y1="2019.80" x2="649.20" y2="2031.00" stroke="#000" stroke-width="3.5" stroke-linecap="butt"/>
<line x1="703.76" y1="2019.80" x2="703.76" y2="2031.00" stroke="#000" stroke-width="3.5" stroke-linecap="butt"/>
<line x1="758.32" y1="2019.80" x2="758.32" y2="2031.00" stroke="#000" stroke-width="3.5" stroke-linecap="butt"/>
<line x1="812.88" y1="2019.80" x2="812.88" y2="2031.00" stroke="#000" stroke-width="3.5" stroke-linecap="butt"/>
<text x="41.64" y="1684.60" font-size="32" fill="#000" textLength="46.81" lengthAdjust="spacingAndGlyphs">110</text>
<text x="41.08" y="1755.60" font-size="32" fill="#000" textLength="48.00" lengthAdjust="spacingAndGlyphs">100</text>
<text x="49.96" y="1825.00" font-size="32" fill="#000" textLength="32.00" lengthAdjust="spacingAndGlyphs">90</text>
<text x="49.80" y="1891.60" font-size="32" fill="#000" textLength="32.00" lengthAdjust="spacingAndGlyphs">80</text>
<text x="49.40" y="1962.40" font-size="32" fill="#000" textLength="32.00" lengthAdjust="spacingAndGlyphs">70</text>
<text x="49.80" y="2030.00" font-size="32" fill="#000" textLength="32.00" lengthAdjust="spacingAndGlyphs">60</text>
<text x="96.65" y="2057.00" font-size="31" fill="#000" textLength="15.50" lengthAdjust="spacingAndGlyphs">0</text>
<text x="151.37" y="2057.00" font-size="31" fill="#000" textLength="15.50" lengthAdjust="spacingAndGlyphs">2</text>
<text x="205.69" y="2057.00" font-size="31" fill="#000" textLength="15.50" lengthAdjust="spacingAndGlyphs">4</text>
<text x="260.17" y="2057.00" font-size="31" fill="#000" textLength="15.50" lengthAdjust="spacingAndGlyphs">6</text>
<text x="314.89" y="2057.00" font-size="31" fill="#000" textLength="15.50" lengthAdjust="spacingAndGlyphs">8</text>
<text x="361.00" y="2057.00" font-size="31" fill="#000" textLength="31.00" lengthAdjust="spacingAndGlyphs">10</text>
<text x="415.80" y="2057.00" font-size="31" fill="#000" textLength="31.00" lengthAdjust="spacingAndGlyphs">12</text>
<text x="469.74" y="2057.00" font-size="31" fill="#000" textLength="31.00" lengthAdjust="spacingAndGlyphs">14</text>
<text x="524.53" y="2057.00" font-size="31" fill="#000" textLength="31.00" lengthAdjust="spacingAndGlyphs">16</text>
<text x="579.24" y="2057.00" font-size="31" fill="#000" textLength="31.00" lengthAdjust="spacingAndGlyphs">18</text>
<text x="634.42" y="2057.00" font-size="31" fill="#000" textLength="31.00" lengthAdjust="spacingAndGlyphs">20</text>
<text x="689.22" y="2057.00" font-size="31" fill="#000" textLength="31.00" lengthAdjust="spacingAndGlyphs">22</text>
<text x="743.15" y="2057.00" font-size="31" fill="#000" textLength="31.00" lengthAdjust="spacingAndGlyphs">24</text>
<text x="797.95" y="2057.00" font-size="31" fill="#000" textLength="31.00" lengthAdjust="spacingAndGlyphs">26</text>
<text x="395.19" y="2095.70" font-size="31.2" fill="#000" textLength="106.47" lengthAdjust="spacingAndGlyphs">Time (h)</text>
<text transform="translate(31.20,1941.60) rotate(-90)" x="-0.30" y="0" font-size="31" fill="#000" textLength="222.75" lengthAdjust="spacingAndGlyphs">Average size (nm)</text>
<line x1="103.60" y1="1866.10" x2="103.60" y2="1911.70" stroke="#000" stroke-width="3.4" stroke-linecap="butt"/>
<line x1="98.20" y1="1866.10" x2="115.00" y2="1866.10" stroke="#000" stroke-width="3.6" stroke-linecap="butt"/>
<line x1="98.20" y1="1870.90" x2="115.00" y2="1870.90" stroke="#000" stroke-width="3.6" stroke-linecap="butt"/>
<line x1="98.20" y1="1906.90" x2="115.00" y2="1906.90" stroke="#000" stroke-width="3.6" stroke-linecap="butt"/>
<line x1="98.20" y1="1911.70" x2="115.00" y2="1911.70" stroke="#000" stroke-width="3.6" stroke-linecap="butt"/>
<line x1="158.16" y1="1827.20" x2="158.16" y2="1913.30" stroke="#000" stroke-width="3.4" stroke-linecap="butt"/>
<line x1="146.96" y1="1827.20" x2="169.36" y2="1827.20" stroke="#000" stroke-width="3.6" stroke-linecap="butt"/>
<line x1="146.96" y1="1844.90" x2="169.36" y2="1844.90" stroke="#000" stroke-width="3.6" stroke-linecap="butt"/>
<line x1="146.96" y1="1852.50" x2="169.36" y2="1852.50" stroke="#000" stroke-width="3.6" stroke-linecap="butt"/>
<line x1="146.96" y1="1884.00" x2="169.36" y2="1884.00" stroke="#000" stroke-width="3.6" stroke-linecap="butt"/>
<line x1="146.96" y1="1909.30" x2="169.36" y2="1909.30" stroke="#000" stroke-width="3.6" stroke-linecap="butt"/>
<line x1="146.96" y1="1913.30" x2="169.36" y2="1913.30" stroke="#000" stroke-width="3.6" stroke-linecap="butt"/>
<line x1="212.72" y1="1806.50" x2="212.72" y2="1910.10" stroke="#000" stroke-width="3.4" stroke-linecap="butt"/>
<line x1="201.52" y1="1806.50" x2="223.92" y2="1806.50" stroke="#000" stroke-width="3.6" stroke-linecap="butt"/>
<line x1="201.52" y1="1826.00" x2="223.92" y2="1826.00" stroke="#000" stroke-width="3.6" stroke-linecap="butt"/>
<line x1="201.52" y1="1878.90" x2="223.92" y2="1878.90" stroke="#000" stroke-width="3.6" stroke-linecap="butt"/>
<line x1="201.52" y1="1910.10" x2="223.92" y2="1910.10" stroke="#000" stroke-width="3.6" stroke-linecap="butt"/>
<line x1="321.84" y1="1790.80" x2="321.84" y2="1927.70" stroke="#000" stroke-width="3.4" stroke-linecap="butt"/>
<line x1="310.64" y1="1790.80" x2="333.04" y2="1790.80" stroke="#000" stroke-width="3.6" stroke-linecap="butt"/>
<line x1="310.64" y1="1802.00" x2="333.04" y2="1802.00" stroke="#000" stroke-width="3.6" stroke-linecap="butt"/>
<line x1="310.64" y1="1840.40" x2="333.04" y2="1840.40" stroke="#000" stroke-width="3.6" stroke-linecap="butt"/>
<line x1="310.64" y1="1856.10" x2="333.04" y2="1856.10" stroke="#000" stroke-width="3.6" stroke-linecap="butt"/>
<line x1="310.64" y1="1884.50" x2="333.04" y2="1884.50" stroke="#000" stroke-width="3.6" stroke-linecap="butt"/>
<line x1="310.64" y1="1899.40" x2="333.04" y2="1899.40" stroke="#000" stroke-width="3.6" stroke-linecap="butt"/>
<line x1="310.64" y1="1927.70" x2="333.04" y2="1927.70" stroke="#000" stroke-width="3.6" stroke-linecap="butt"/>
<line x1="430.96" y1="1777.70" x2="430.96" y2="1905.70" stroke="#000" stroke-width="3.4" stroke-linecap="butt"/>
<line x1="419.76" y1="1777.70" x2="442.16" y2="1777.70" stroke="#000" stroke-width="3.6" stroke-linecap="butt"/>
<line x1="419.76" y1="1794.90" x2="442.16" y2="1794.90" stroke="#000" stroke-width="3.6" stroke-linecap="butt"/>
<line x1="419.76" y1="1830.40" x2="442.16" y2="1830.40" stroke="#000" stroke-width="3.6" stroke-linecap="butt"/>
<line x1="419.76" y1="1834.70" x2="442.16" y2="1834.70" stroke="#000" stroke-width="3.6" stroke-linecap="butt"/>
<line x1="419.76" y1="1846.60" x2="442.16" y2="1846.60" stroke="#000" stroke-width="3.6" stroke-linecap="butt"/>
<line x1="419.76" y1="1852.50" x2="442.16" y2="1852.50" stroke="#000" stroke-width="3.6" stroke-linecap="butt"/>
<line x1="419.76" y1="1905.70" x2="442.16" y2="1905.70" stroke="#000" stroke-width="3.6" stroke-linecap="butt"/>
<line x1="758.32" y1="1773.90" x2="758.32" y2="1910.80" stroke="#000" stroke-width="3.4" stroke-linecap="butt"/>
<line x1="747.12" y1="1773.90" x2="769.52" y2="1773.90" stroke="#000" stroke-width="3.6" stroke-linecap="butt"/>
<line x1="747.12" y1="1799.20" x2="769.52" y2="1799.20" stroke="#000" stroke-width="3.6" stroke-linecap="butt"/>
<line x1="747.12" y1="1814.40" x2="769.52" y2="1814.40" stroke="#000" stroke-width="3.6" stroke-linecap="butt"/>
<line x1="747.12" y1="1844.80" x2="769.52" y2="1844.80" stroke="#000" stroke-width="3.6" stroke-linecap="butt"/>
<line x1="747.12" y1="1854.20" x2="769.52" y2="1854.20" stroke="#000" stroke-width="3.6" stroke-linecap="butt"/>
<line x1="747.12" y1="1856.80" x2="769.52" y2="1856.80" stroke="#000" stroke-width="3.6" stroke-linecap="butt"/>
<line x1="747.12" y1="1896.30" x2="769.52" y2="1896.30" stroke="#000" stroke-width="3.6" stroke-linecap="butt"/>
<line x1="747.12" y1="1910.80" x2="769.52" y2="1910.80" stroke="#000" stroke-width="3.6" stroke-linecap="butt"/>
<path d="M103.6,1886.1 L158.2,1879.1 L212.7,1868.0 L321.8,1870.8 L431.0,1879.8 L758.3,1874.3" stroke="#000000" stroke-width="3.6" fill="none" stroke-linejoin="round"/>
<ellipse cx="103.60" cy="1886.06" rx="10.80" ry="6.80" fill="#000000"/>
<ellipse cx="158.16" cy="1879.13" rx="10.80" ry="6.80" fill="#000000"/>
<ellipse cx="212.72" cy="1868.04" rx="10.80" ry="6.80" fill="#000000"/>
<ellipse cx="321.84" cy="1870.81" rx="10.80" ry="6.80" fill="#000000"/>
<ellipse cx="430.96" cy="1879.82" rx="10.80" ry="6.80" fill="#000000"/>
<ellipse cx="758.32" cy="1874.28" rx="10.80" ry="6.80" fill="#000000"/>
<path d="M103.6,1888.8 L158.2,1870.8 L212.7,1847.9 L321.8,1822.3 L431.0,1812.6 L758.3,1823.0" stroke="#ff0000" stroke-width="3.6" fill="none" stroke-linejoin="round"/>
<rect x="93.60" y="1882.03" width="20.00" height="13.60" fill="#ff0000"/>
<rect x="148.16" y="1864.01" width="20.00" height="13.60" fill="#ff0000"/>
<rect x="202.72" y="1841.14" width="20.00" height="13.60" fill="#ff0000"/>
<rect x="311.84" y="1815.50" width="20.00" height="13.60" fill="#ff0000"/>
<rect x="420.96" y="1805.80" width="20.00" height="13.60" fill="#ff0000"/>
<rect x="748.32" y="1816.20" width="20.00" height="13.60" fill="#ff0000"/>
<path d="M103.6,1892.3 L158.2,1874.3 L212.7,1891.6 L321.8,1893.0 L431.0,1857.6 L758.3,1886.1" stroke="#0000ff" stroke-width="3.6" fill="none" stroke-linejoin="round"/>
<polygon points="103.60,1884.13 113.60,1897.74 93.60,1897.74" fill="#0000ff"/>
<polygon points="158.16,1866.12 168.16,1879.72 148.16,1879.72" fill="#0000ff"/>
<polygon points="212.72,1883.44 222.72,1897.04 202.72,1897.04" fill="#0000ff"/>
<polygon points="321.84,1884.83 331.84,1898.43 311.84,1898.43" fill="#0000ff"/>
<polygon points="430.96,1849.48 440.96,1863.09 420.96,1863.09" fill="#0000ff"/>
<polygon points="758.32,1877.90 768.32,1891.50 748.32,1891.50" fill="#0000ff"/>
<path d="M103.6,1886.1 L158.2,1865.3 L212.7,1840.3 L321.8,1843.8 L431.0,1811.9 L758.3,1792.5" stroke="#bfbf00" stroke-width="3.6" fill="none" stroke-linejoin="round"/>
<polygon points="103.60,1894.22 113.60,1880.62 93.60,1880.62" fill="#bfbf00"/>
<polygon points="158.16,1873.43 168.16,1859.83 148.16,1859.83" fill="#bfbf00"/>
<polygon points="212.72,1848.48 222.72,1834.88 202.72,1834.88" fill="#bfbf00"/>
<polygon points="321.84,1851.95 331.84,1838.35 311.84,1838.35" fill="#bfbf00"/>
<polygon points="430.96,1820.07 440.96,1806.47 420.96,1806.47" fill="#bfbf00"/>
<polygon points="758.32,1800.66 768.32,1787.06 748.32,1787.06" fill="#bfbf00"/>
<line x1="298.20" y1="1613.70" x2="334.40" y2="1613.70" stroke="#000000" stroke-width="3.6" stroke-linecap="butt"/>
<ellipse cx="316.30" cy="1613.70" rx="7.00" ry="7.25" fill="#000000"/>
<text x="353.27" y="1623.30" font-size="30" fill="#000" textLength="214.14" lengthAdjust="spacingAndGlyphs">D@CaPP in PBS</text>
<line x1="298.20" y1="1655.20" x2="334.40" y2="1655.20" stroke="#ff0000" stroke-width="3.6" stroke-linecap="butt"/>
<rect x="309.30" y="1647.95" width="14.00" height="14.50" fill="#ff0000"/>
<text x="353.27" y="1664.80" font-size="30" fill="#000" textLength="278.28" lengthAdjust="spacingAndGlyphs">D@CaPP in 10% FBS</text>
<line x1="298.20" y1="1693.50" x2="334.40" y2="1693.50" stroke="#0000ff" stroke-width="3.6" stroke-linecap="butt"/>
<polygon points="316.30,1684.80 323.30,1699.30 309.30,1699.30" fill="#0000ff"/>
<text x="353.28" y="1702.70" font-size="30" fill="#000" textLength="212.22" lengthAdjust="spacingAndGlyphs">H@CaPP in PBS</text>
<line x1="298.20" y1="1733.20" x2="334.40" y2="1733.20" stroke="#bfbf00" stroke-width="3.6" stroke-linecap="butt"/>
<polygon points="316.30,1741.90 323.30,1727.40 309.30,1727.40" fill="#bfbf00"/>
<text x="353.27" y="1743.00" font-size="30" fill="#000" textLength="277.06" lengthAdjust="spacingAndGlyphs">H@CaPP in 10% FBS</text>
<text x="887.99" y="1603.80" font-size="44.5" font-weight="bold" fill="#000" textLength="24.62" lengthAdjust="spacingAndGlyphs">h</text>
<line x1="988.30" y1="1672.60" x2="988.30" y2="2031.50" stroke="#000" stroke-width="3.4" stroke-linecap="butt"/>
<line x1="977.10" y1="2019.80" x2="1479.60" y2="2019.80" stroke="#000" stroke-width="4.0" stroke-linecap="butt"/>
<line x1="977.30" y1="1674.30" x2="988.30" y2="1674.30" stroke="#000" stroke-width="3.6" stroke-linecap="butt"/>
<line x1="977.30" y1="1789.60" x2="988.30" y2="1789.60" stroke="#000" stroke-width="3.6" stroke-linecap="butt"/>
<line x1="977.30" y1="1904.90" x2="988.30" y2="1904.90" stroke="#000" stroke-width="3.6" stroke-linecap="butt"/>
<line x1="977.30" y1="2020.20" x2="988.30" y2="2020.20" stroke="#000" stroke-width="3.6" stroke-linecap="butt"/>
<line x1="1026.04" y1="2019.80" x2="1026.04" y2="2031.50" stroke="#000" stroke-width="3.6" stroke-linecap="butt"/>
<line x1="1063.78" y1="2019.80" x2="1063.78" y2="2031.50" stroke="#000" stroke-width="3.6" stroke-linecap="butt"/>
<line x1="1101.52" y1="2019.80" x2="1101.52" y2="2031.50" stroke="#000" stroke-width="3.6" stroke-linecap="butt"/>
<line x1="1139.26" y1="2019.80" x2="1139.26" y2="2031.50" stroke="#000" stroke-width="3.6" stroke-linecap="butt"/>
<line x1="1177.00" y1="2019.80" x2="1177.00" y2="2031.50" stroke="#000" stroke-width="3.6" stroke-linecap="butt"/>
<line x1="1214.74" y1="2019.80" x2="1214.74" y2="2031.50" stroke="#000" stroke-width="3.6" stroke-linecap="butt"/>
<line x1="1252.48" y1="2019.80" x2="1252.48" y2="2031.50" stroke="#000" stroke-width="3.6" stroke-linecap="butt"/>
<line x1="1290.22" y1="2019.80" x2="1290.22" y2="2031.50" stroke="#000" stroke-width="3.6" stroke-linecap="butt"/>
<line x1="1327.96" y1="2019.80" x2="1327.96" y2="2031.50" stroke="#000" stroke-width="3.6" stroke-linecap="butt"/>
<line x1="1365.70" y1="2019.80" x2="1365.70" y2="2031.50" stroke="#000" stroke-width="3.6" stroke-linecap="butt"/>
<line x1="1403.44" y1="2019.80" x2="1403.44" y2="2031.50" stroke="#000" stroke-width="3.6" stroke-linecap="butt"/>
<line x1="1441.18" y1="2019.80" x2="1441.18" y2="2031.50" stroke="#000" stroke-width="3.6" stroke-linecap="butt"/>
<line x1="1478.92" y1="2019.80" x2="1478.92" y2="2031.50" stroke="#000" stroke-width="3.6" stroke-linecap="butt"/>
<text x="934.93" y="1683.00" font-size="31" fill="#000" textLength="40.73" lengthAdjust="spacingAndGlyphs">-20</text>
<text x="934.93" y="1798.10" font-size="31" fill="#000" textLength="40.73" lengthAdjust="spacingAndGlyphs">-30</text>
<text x="934.93" y="1913.60" font-size="31" fill="#000" textLength="40.73" lengthAdjust="spacingAndGlyphs">-40</text>
<text x="934.93" y="2029.30" font-size="31" fill="#000" textLength="40.73" lengthAdjust="spacingAndGlyphs">-50</text>
<text x="981.85" y="2057.40" font-size="31" fill="#000" textLength="15.50" lengthAdjust="spacingAndGlyphs">0</text>
<text x="1019.74" y="2057.40" font-size="31" fill="#000" textLength="15.50" lengthAdjust="spacingAndGlyphs">2</text>
<text x="1057.25" y="2057.40" font-size="31" fill="#000" textLength="15.50" lengthAdjust="spacingAndGlyphs">4</text>
<text x="1094.91" y="2057.40" font-size="31" fill="#000" textLength="15.50" lengthAdjust="spacingAndGlyphs">6</text>
<text x="1132.81" y="2057.40" font-size="31" fill="#000" textLength="15.50" lengthAdjust="spacingAndGlyphs">8</text>
<text x="1162.10" y="2057.40" font-size="31" fill="#000" textLength="31.00" lengthAdjust="spacingAndGlyphs">10</text>
<text x="1200.08" y="2057.40" font-size="31" fill="#000" textLength="31.00" lengthAdjust="spacingAndGlyphs">12</text>
<text x="1237.19" y="2057.40" font-size="31" fill="#000" textLength="31.00" lengthAdjust="spacingAndGlyphs">14</text>
<text x="1275.17" y="2057.40" font-size="31" fill="#000" textLength="31.00" lengthAdjust="spacingAndGlyphs">16</text>
<text x="1313.06" y="2057.40" font-size="31" fill="#000" textLength="31.00" lengthAdjust="spacingAndGlyphs">18</text>
<text x="1351.42" y="2057.40" font-size="31" fill="#000" textLength="31.00" lengthAdjust="spacingAndGlyphs">20</text>
<text x="1389.39" y="2057.40" font-size="31" fill="#000" textLength="31.00" lengthAdjust="spacingAndGlyphs">22</text>
<text x="1426.51" y="2057.40" font-size="31" fill="#000" textLength="31.00" lengthAdjust="spacingAndGlyphs">24</text>
<text x="1464.49" y="2057.40" font-size="31" fill="#000" textLength="31.00" lengthAdjust="spacingAndGlyphs">26</text>
<text x="1182.60" y="2095.50" font-size="31.2" fill="#000" textLength="105.45" lengthAdjust="spacingAndGlyphs">Time (h)</text>
<text transform="translate(933.30,1942.10) rotate(-90)" x="-1.36" y="0" font-size="31" fill="#000" textLength="240.72" lengthAdjust="spacingAndGlyphs">Zeta potential (mV)</text>
<line x1="988.30" y1="1833.40" x2="988.30" y2="1910.30" stroke="#000" stroke-width="3.4" stroke-linecap="butt"/>
<line x1="980.00" y1="1833.40" x2="996.60" y2="1833.40" stroke="#000" stroke-width="3.6" stroke-linecap="butt"/>
<line x1="980.00" y1="1848.50" x2="996.60" y2="1848.50" stroke="#000" stroke-width="3.6" stroke-linecap="butt"/>
<line x1="980.00" y1="1905.10" x2="996.60" y2="1905.10" stroke="#000" stroke-width="3.6" stroke-linecap="butt"/>
<line x1="980.00" y1="1910.30" x2="996.60" y2="1910.30" stroke="#000" stroke-width="3.6" stroke-linecap="butt"/>
<line x1="1026.04" y1="1826.50" x2="1026.04" y2="1937.50" stroke="#000" stroke-width="3.4" stroke-linecap="butt"/>
<line x1="1017.74" y1="1826.50" x2="1034.34" y2="1826.50" stroke="#000" stroke-width="3.6" stroke-linecap="butt"/>
<line x1="1017.74" y1="1871.60" x2="1034.34" y2="1871.60" stroke="#000" stroke-width="3.6" stroke-linecap="butt"/>
<line x1="1017.74" y1="1885.50" x2="1034.34" y2="1885.50" stroke="#000" stroke-width="3.6" stroke-linecap="butt"/>
<line x1="1017.74" y1="1915.00" x2="1034.34" y2="1915.00" stroke="#000" stroke-width="3.6" stroke-linecap="butt"/>
<line x1="1017.74" y1="1929.30" x2="1034.34" y2="1929.30" stroke="#000" stroke-width="3.6" stroke-linecap="butt"/>
<line x1="1017.74" y1="1937.50" x2="1034.34" y2="1937.50" stroke="#000" stroke-width="3.6" stroke-linecap="butt"/>
<line x1="1063.78" y1="1827.70" x2="1063.78" y2="1927.10" stroke="#000" stroke-width="3.4" stroke-linecap="butt"/>
<line x1="1055.48" y1="1827.70" x2="1072.08" y2="1827.70" stroke="#000" stroke-width="3.6" stroke-linecap="butt"/>
<line x1="1055.48" y1="1873.30" x2="1072.08" y2="1873.30" stroke="#000" stroke-width="3.6" stroke-linecap="butt"/>
<line x1="1055.48" y1="1884.60" x2="1072.08" y2="1884.60" stroke="#000" stroke-width="3.6" stroke-linecap="butt"/>
<line x1="1055.48" y1="1910.60" x2="1072.08" y2="1910.60" stroke="#000" stroke-width="3.6" stroke-linecap="butt"/>
<line x1="1055.48" y1="1921.00" x2="1072.08" y2="1921.00" stroke="#000" stroke-width="3.6" stroke-linecap="butt"/>
<line x1="1055.48" y1="1927.10" x2="1072.08" y2="1927.10" stroke="#000" stroke-width="3.6" stroke-linecap="butt"/>
<line x1="1139.26" y1="1823.00" x2="1139.26" y2="1932.30" stroke="#000" stroke-width="3.4" stroke-linecap="butt"/>
<line x1="1130.96" y1="1823.00" x2="1147.56" y2="1823.00" stroke="#000" stroke-width="3.6" stroke-linecap="butt"/>
<line x1="1130.96" y1="1863.80" x2="1147.56" y2="1863.80" stroke="#000" stroke-width="3.6" stroke-linecap="butt"/>
<line x1="1130.96" y1="1908.00" x2="1147.56" y2="1908.00" stroke="#000" stroke-width="3.6" stroke-linecap="butt"/>
<line x1="1130.96" y1="1915.00" x2="1147.56" y2="1915.00" stroke="#000" stroke-width="3.6" stroke-linecap="butt"/>
<line x1="1130.96" y1="1932.30" x2="1147.56" y2="1932.30" stroke="#000" stroke-width="3.6" stroke-linecap="butt"/>
<line x1="1214.74" y1="1848.90" x2="1214.74" y2="1954.10" stroke="#000" stroke-width="3.4" stroke-linecap="butt"/>
<line x1="1206.44" y1="1848.90" x2="1223.04" y2="1848.90" stroke="#000" stroke-width="3.6" stroke-linecap="butt"/>
<line x1="1206.44" y1="1863.50" x2="1223.04" y2="1863.50" stroke="#000" stroke-width="3.6" stroke-linecap="butt"/>
<line x1="1206.44" y1="1901.80" x2="1223.04" y2="1901.80" stroke="#000" stroke-width="3.6" stroke-linecap="butt"/>
<line x1="1206.44" y1="1911.70" x2="1223.04" y2="1911.70" stroke="#000" stroke-width="3.6" stroke-linecap="butt"/>
<line x1="1206.44" y1="1917.70" x2="1223.04" y2="1917.70" stroke="#000" stroke-width="3.6" stroke-linecap="butt"/>
<line x1="1206.44" y1="1942.30" x2="1223.04" y2="1942.30" stroke="#000" stroke-width="3.6" stroke-linecap="butt"/>
<line x1="1206.44" y1="1954.10" x2="1223.04" y2="1954.10" stroke="#000" stroke-width="3.6" stroke-linecap="butt"/>
<line x1="1441.18" y1="1820.50" x2="1441.18" y2="1939.10" stroke="#000" stroke-width="3.4" stroke-linecap="butt"/>
<line x1="1432.88" y1="1820.50" x2="1449.48" y2="1820.50" stroke="#000" stroke-width="3.6" stroke-linecap="butt"/>
<line x1="1432.88" y1="1883.10" x2="1449.48" y2="1883.10" stroke="#000" stroke-width="3.6" stroke-linecap="butt"/>
<line x1="1432.88" y1="1890.00" x2="1449.48" y2="1890.00" stroke="#000" stroke-width="3.6" stroke-linecap="butt"/>
<line x1="1432.88" y1="1903.70" x2="1449.48" y2="1903.70" stroke="#000" stroke-width="3.6" stroke-linecap="butt"/>
<line x1="1432.88" y1="1931.70" x2="1449.48" y2="1931.70" stroke="#000" stroke-width="3.6" stroke-linecap="butt"/>
<line x1="1432.88" y1="1939.10" x2="1449.48" y2="1939.10" stroke="#000" stroke-width="3.6" stroke-linecap="butt"/>
<path d="M988.3,1880.7 L1026.0,1895.7 L1063.8,1892.2 L1139.3,1891.1 L1214.7,1877.2 L1441.2,1861.7" stroke="#000000" stroke-width="3.3" fill="none" stroke-linejoin="round"/>
<ellipse cx="988.30" cy="1880.69" rx="7.29" ry="6.75" fill="#000000"/>
<ellipse cx="1026.04" cy="1895.68" rx="7.29" ry="6.75" fill="#000000"/>
<ellipse cx="1063.78" cy="1892.22" rx="7.29" ry="6.75" fill="#000000"/>
<ellipse cx="1139.26" cy="1891.06" rx="7.29" ry="6.75" fill="#000000"/>
<ellipse cx="1214.74" cy="1877.23" rx="7.29" ry="6.75" fill="#000000"/>
<ellipse cx="1441.18" cy="1861.66" rx="7.29" ry="6.75" fill="#000000"/>
<path d="M988.3,1883.0 L1026.0,1911.8 L1063.8,1916.4 L1139.3,1931.4 L1214.7,1937.2 L1441.2,1908.4" stroke="#ff0000" stroke-width="3.3" fill="none" stroke-linejoin="round"/>
<rect x="981.55" y="1876.24" width="13.50" height="13.50" fill="#ff0000"/>
<rect x="1019.29" y="1905.07" width="13.50" height="13.50" fill="#ff0000"/>
<rect x="1057.03" y="1909.68" width="13.50" height="13.50" fill="#ff0000"/>
<rect x="1132.51" y="1924.67" width="13.50" height="13.50" fill="#ff0000"/>
<rect x="1207.99" y="1930.43" width="13.50" height="13.50" fill="#ff0000"/>
<rect x="1434.43" y="1901.61" width="13.50" height="13.50" fill="#ff0000"/>
<path d="M988.3,1873.8 L1026.0,1881.8 L1063.8,1869.2 L1139.3,1868.0 L1214.7,1884.1 L1441.2,1856.0" stroke="#0000ff" stroke-width="3.3" fill="none" stroke-linejoin="round"/>
<polygon points="988.30,1865.67 995.05,1879.17 981.55,1879.17" fill="#0000ff"/>
<polygon points="1026.04,1873.74 1032.79,1887.24 1019.29,1887.24" fill="#0000ff"/>
<polygon points="1063.78,1861.06 1070.53,1874.56 1057.03,1874.56" fill="#0000ff"/>
<polygon points="1139.26,1859.90 1146.01,1873.40 1132.51,1873.40" fill="#0000ff"/>
<polygon points="1214.74,1876.05 1221.49,1889.55 1207.99,1889.55" fill="#0000ff"/>
<polygon points="1441.18,1847.91 1447.93,1861.41 1434.43,1861.41" fill="#0000ff"/>
<path d="M988.3,1869.2 L1026.0,1896.8 L1063.8,1906.1 L1139.3,1923.3 L1214.7,1929.1 L1441.2,1921.0" stroke="#bfbf00" stroke-width="3.3" fill="none" stroke-linejoin="round"/>
<polygon points="988.30,1877.26 995.05,1863.76 981.55,1863.76" fill="#bfbf00"/>
<polygon points="1026.04,1904.93 1032.79,1891.43 1019.29,1891.43" fill="#bfbf00"/>
<polygon points="1063.78,1914.15 1070.53,1900.65 1057.03,1900.65" fill="#bfbf00"/>
<polygon points="1139.26,1931.45 1146.01,1917.95 1132.51,1917.95" fill="#bfbf00"/>
<polygon points="1214.74,1937.21 1221.49,1923.71 1207.99,1923.71" fill="#bfbf00"/>
<polygon points="1441.18,1929.14 1447.93,1915.64 1434.43,1915.64" fill="#bfbf00"/>
<line x1="1069.30" y1="1613.20" x2="1105.50" y2="1613.20" stroke="#000000" stroke-width="3.6" stroke-linecap="butt"/>
<ellipse cx="1087.40" cy="1613.20" rx="7.00" ry="7.25" fill="#000000"/>
<text x="1124.46" y="1623.30" font-size="30" fill="#000" textLength="214.85" lengthAdjust="spacingAndGlyphs">D@CaPP in PBS</text>
<line x1="1069.30" y1="1654.50" x2="1105.50" y2="1654.50" stroke="#ff0000" stroke-width="3.6" stroke-linecap="butt"/>
<rect x="1080.40" y="1647.25" width="14.00" height="14.50" fill="#ff0000"/>
<text x="1124.47" y="1664.40" font-size="30" fill="#000" textLength="278.28" lengthAdjust="spacingAndGlyphs">D@CaPP in 10% FBS</text>
<line x1="1069.30" y1="1693.10" x2="1105.50" y2="1693.10" stroke="#0000ff" stroke-width="3.6" stroke-linecap="butt"/>
<polygon points="1087.40,1684.40 1094.40,1698.90 1080.40,1698.90" fill="#0000ff"/>
<text x="1124.47" y="1702.70" font-size="30" fill="#000" textLength="212.42" lengthAdjust="spacingAndGlyphs">H@CaPP in PBS</text>
<line x1="1069.30" y1="1732.80" x2="1105.50" y2="1732.80" stroke="#bfbf00" stroke-width="3.6" stroke-linecap="butt"/>
<polygon points="1087.40,1741.50 1094.40,1727.00 1080.40,1727.00" fill="#bfbf00"/>
<text x="1124.48" y="1742.40" font-size="30" fill="#000" textLength="276.36" lengthAdjust="spacingAndGlyphs">H@CaPP in 10% FBS</text>
</svg></body></html>
